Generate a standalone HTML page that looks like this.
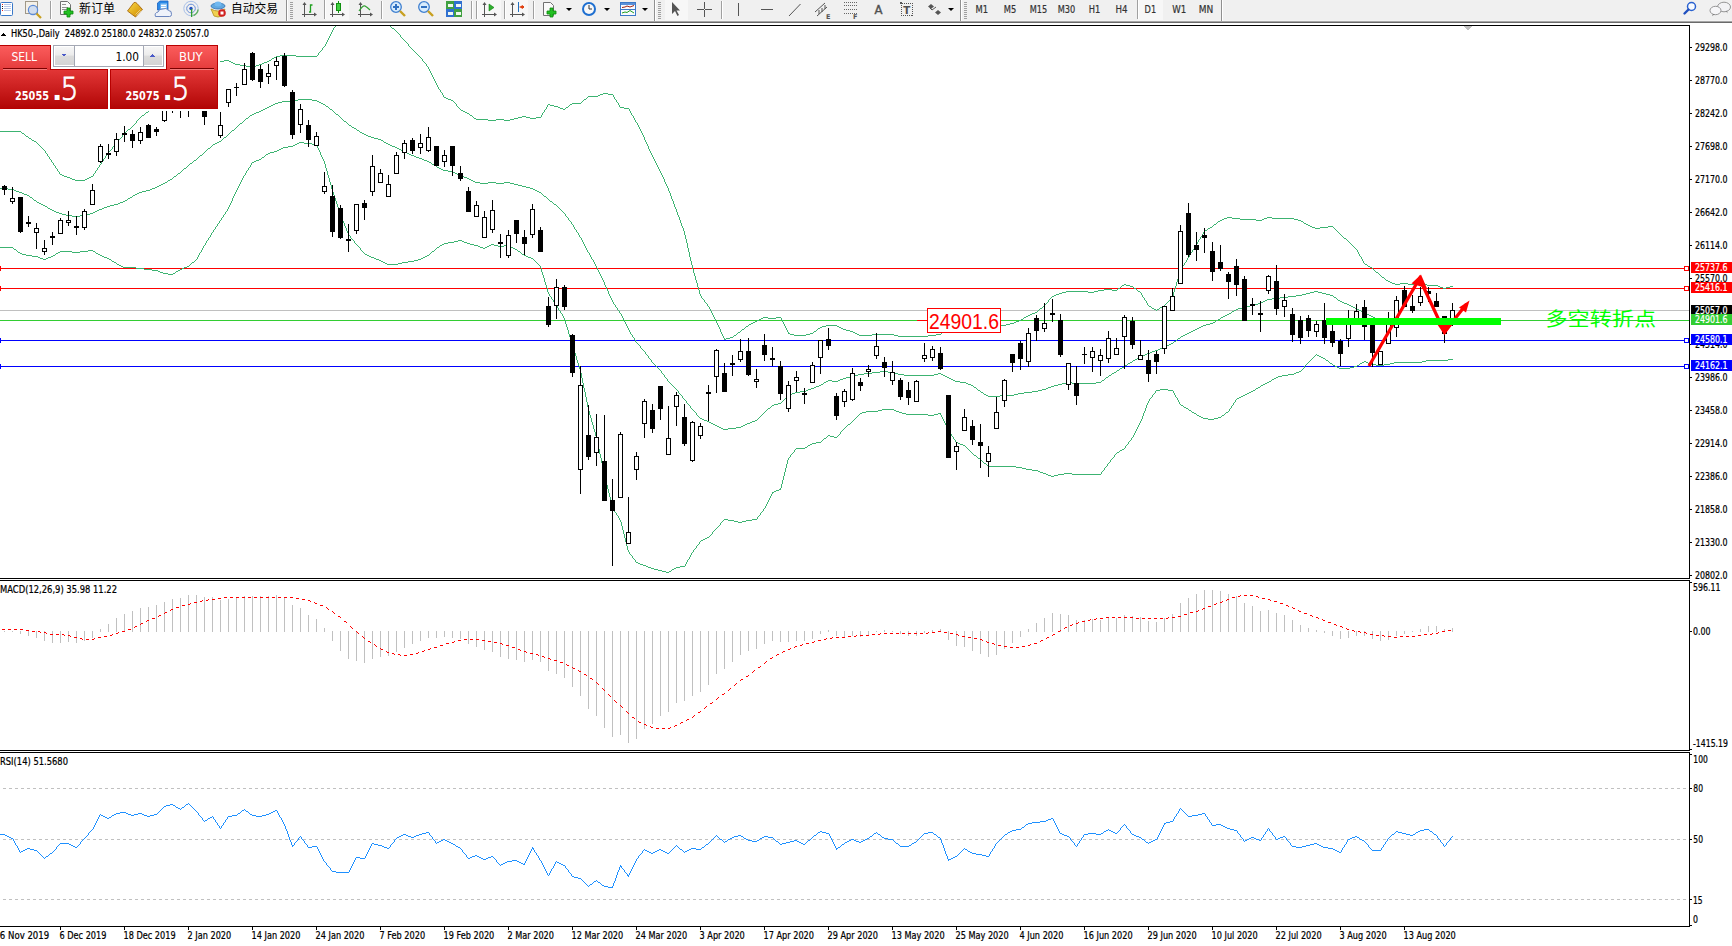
<!DOCTYPE html>
<html><head><meta charset="utf-8"><title>HK50 Daily</title>
<style>html,body{margin:0;padding:0;background:#fff;width:1732px;height:946px;overflow:hidden}
svg text{shape-rendering:auto}</style></head>
<body>
<svg width="1732" height="946" viewBox="0 0 1732 946" shape-rendering="crispEdges" style="display:block">
<rect x="0" y="0" width="1732" height="946" fill="#fff"/>
<g shape-rendering="geometricPrecision">
<rect x="0" y="0" width="1732" height="21" fill="#f0f0f0"/>
<rect x="0" y="20" width="1732" height="1" fill="#f4f4f4"/>
<rect x="0" y="21" width="1732" height="1" fill="#a6a6a6"/>
<rect x="0" y="22" width="1732" height="1" fill="#6a6a6a"/>
<rect x="0.5" y="2.5" width="12" height="13" rx="1" fill="#fff" stroke="#3a78c8"/>
<rect x="2" y="4" width="1" height="1" fill="#e02020"/>
<rect x="4" y="4" width="7" height="1" fill="#b8c8e8"/>
<rect x="2" y="6" width="1" height="1" fill="#202020"/>
<rect x="4" y="6" width="7" height="1" fill="#b8c8e8"/>
<rect x="2" y="8" width="1" height="1" fill="#202020"/>
<rect x="4" y="8" width="7" height="1" fill="#b8c8e8"/>
<rect x="2" y="10" width="1" height="1" fill="#e02020"/>
<rect x="4" y="10" width="7" height="1" fill="#b8c8e8"/>
<rect x="25.5" y="1.5" width="12" height="12" fill="#f4f0e8" stroke="#a09888"/>
<circle cx="33" cy="10" r="4.6" fill="#c8d8f0" fill-opacity="0.8" stroke="#5a8ad8" stroke-width="1.2"/>
<line x1="36.5" y1="13.5" x2="41" y2="18" stroke="#c8a020" stroke-width="2.2"/>
<rect x="50" y="1" width="1" height="18" fill="#a0a0a0"/>
<rect x="51" y="1" width="1" height="18" fill="#ffffff"/>
<path d="M60.5,1.5 h7 l3,3 v10 h-10 z" fill="#fafafa" stroke="#707070"/>
<rect x="62" y="4" width="4" height="1" fill="#909090"/>
<rect x="62" y="7" width="6" height="1" fill="#909090"/>
<rect x="62" y="9" width="6" height="1" fill="#909090"/>
<path d="M67,8 h3 v3 h3 v3 h-3 v3 h-3 v-3 h-3 v-3 h3 z" fill="#22c022" stroke="#0a8a0a" stroke-width="0.8"/>
<text x="79" y="13" font-size="12" fill="#000" text-anchor="start" font-weight="normal" font-family="'Liberation Sans', 'Noto Sans CJK SC', 'WenQuanYi Zen Hei', sans-serif" textLength="36" lengthAdjust="spacingAndGlyphs" >新订单</text>
<defs><linearGradient id="gGold" x1="0" y1="0" x2="1" y2="1"><stop offset="0" stop-color="#f8d848"/><stop offset="0.6" stop-color="#e0a818"/><stop offset="1" stop-color="#b87810"/></linearGradient></defs>
<path d="M127.5,11 L134,2.5 Q136,2 137,3.5 L142.5,9.5 L135.5,17 Z" fill="url(#gGold)" stroke="#a86a10" stroke-width="0.9"/>
<path d="M136.5,15.5 L141.5,10.5 M135.5,14.5 L140.5,9.5" stroke="#f4e0a0" stroke-width="0.7"/>
<path d="M157.5,3 L160,1 L168,1 L168,10 L157.5,10 Z" fill="#2a8ae8" stroke="#1a60c0" stroke-width="0.8"/>
<path d="M160.5,3.5 h6.5 v6 h-6.5 z" fill="#9ccaf4"/>
<rect x="161" y="5" width="5" height="1" fill="#ffffff"/>
<rect x="161" y="7" width="5" height="1" fill="#ffffff"/>
<path d="M155.5,16.5 q-1.5,-3.5 2.5,-4.5 q1,-3.5 5,-3 q3,-2 5.5,1.5 q3.5,0 3,4 q0,2 -2,2 z" fill="#eef2fa" stroke="#5a78b8" stroke-width="0.9"/>
<circle cx="191" cy="8.5" r="7.2" fill="none" stroke="#a8c0e8" stroke-width="1"/>
<circle cx="191" cy="8.5" r="4.3" fill="none" stroke="#6a90d8" stroke-width="1"/>
<path d="M193.5,15.5 a7.2,7.2 0 0 0 4.6,-6" fill="none" stroke="#60b060" stroke-width="1.4"/>
<circle cx="191" cy="8.5" r="1.7" fill="#2050c0"/>
<rect x="191" y="9" width="1.3" height="8" fill="#30a030"/>
<path d="M211,9 q7,4 14,0 l-3,7 q-4,2 -8,0 z" fill="#f0d050" stroke="#b09020" stroke-width="0.8"/>
<ellipse cx="218" cy="6" rx="7" ry="3" fill="#60a8e0" stroke="#3070b0" stroke-width="0.8"/>
<ellipse cx="218" cy="4" rx="3.5" ry="2.5" fill="#70b8f0"/>
<circle cx="222" cy="13" r="3.8" fill="#d02020"/>
<rect x="220.5" y="11.5" width="3" height="3" fill="#fff"/>
<text x="231" y="13" font-size="12" fill="#000" text-anchor="start" font-weight="normal" font-family="'Liberation Sans', 'Noto Sans CJK SC', 'WenQuanYi Zen Hei', sans-serif" textLength="47" lengthAdjust="spacingAndGlyphs" >自动交易</text>
<rect x="286" y="0" width="1" height="21" fill="#909090"/>
<rect x="287" y="0" width="1" height="21" fill="#ffffff"/>
<rect x="290" y="2" width="3" height="1" fill="#a0a0a0"/>
<rect x="290" y="4" width="3" height="1" fill="#a0a0a0"/>
<rect x="290" y="6" width="3" height="1" fill="#a0a0a0"/>
<rect x="290" y="8" width="3" height="1" fill="#a0a0a0"/>
<rect x="290" y="10" width="3" height="1" fill="#a0a0a0"/>
<rect x="290" y="12" width="3" height="1" fill="#a0a0a0"/>
<rect x="290" y="14" width="3" height="1" fill="#a0a0a0"/>
<rect x="290" y="16" width="3" height="1" fill="#a0a0a0"/>
<rect x="290" y="18" width="3" height="1" fill="#a0a0a0"/>
<rect x="304" y="3" width="1" height="14" fill="#555"/>
<rect x="302" y="14" width="14" height="1" fill="#555"/>
<polygon points="304.5,2 302.5,5 306.5,5" fill="#555"/>
<polygon points="317,14.5 314,12.5 314,16.5" fill="#555"/>
<path d="M309,12 h1.5 v-7 h2" fill="none" stroke="#20a020" stroke-width="1.3"/>
<rect x="324" y="0" width="1" height="19" fill="#a0a0a0"/>
<rect x="325" y="0" width="1" height="19" fill="#ffffff"/>
<rect x="326" y="0" width="23" height="20" fill="#f7f7f7"/>
<rect x="332" y="3" width="1" height="14" fill="#555"/>
<rect x="330" y="14" width="14" height="1" fill="#555"/>
<polygon points="332.5,2 330.5,5 334.5,5" fill="#555"/>
<polygon points="345,14.5 342,12.5 342,16.5" fill="#555"/>
<rect x="338" y="1" width="1" height="12" fill="#109010"/>
<rect x="336.5" y="3.5" width="4" height="7" fill="#40d040" stroke="#109010"/>
<rect x="360" y="3" width="1" height="14" fill="#555"/>
<rect x="358" y="14" width="14" height="1" fill="#555"/>
<polygon points="360.5,2 358.5,5 362.5,5" fill="#555"/>
<polygon points="373,14.5 370,12.5 370,16.5" fill="#555"/>
<path d="M359,11 q4,-6 6,-5 q2,1 5,4" fill="none" stroke="#30a030" stroke-width="1.2"/>
<rect x="381" y="1" width="1" height="18" fill="#a0a0a0"/>
<rect x="382" y="1" width="1" height="18" fill="#ffffff"/>
<circle cx="396" cy="7" r="5.3" fill="#d8ecfc" stroke="#4080d0" stroke-width="1.3"/>
<line x1="400" y1="11" x2="405" y2="16" stroke="#c8a020" stroke-width="2.4"/>
<rect x="393" y="6" width="6" height="2" fill="#3070c0"/>
<rect x="395" y="4" width="2" height="6" fill="#3070c0"/>
<circle cx="424" cy="7" r="5.3" fill="#d8ecfc" stroke="#4080d0" stroke-width="1.3"/>
<line x1="428" y1="11" x2="433" y2="16" stroke="#c8a020" stroke-width="2.4"/>
<rect x="421" y="6" width="6" height="2" fill="#3070c0"/>
<rect x="446" y="1" width="8" height="8" fill="#40a040"/><rect x="454" y="1" width="8" height="8" fill="#3070d0"/>
<rect x="446" y="9" width="8" height="8" fill="#3070d0"/><rect x="454" y="9" width="8" height="8" fill="#40a040"/>
<rect x="448" y="4" width="5" height="3" fill="#f0f8f0"/>
<rect x="448" y="12" width="5" height="3" fill="#f0f8f0"/>
<rect x="456" y="4" width="5" height="3" fill="#f0f8f0"/>
<rect x="456" y="12" width="5" height="3" fill="#f0f8f0"/>
<rect x="471" y="1" width="1" height="18" fill="#a0a0a0"/>
<rect x="472" y="1" width="1" height="18" fill="#ffffff"/>
<rect x="476" y="1" width="1" height="18" fill="#a0a0a0"/>
<rect x="477" y="1" width="1" height="18" fill="#ffffff"/>
<rect x="478" y="0" width="23" height="20" fill="#f7f7f7"/>
<rect x="484" y="3" width="1" height="14" fill="#555"/>
<rect x="482" y="14" width="14" height="1" fill="#555"/>
<polygon points="484.5,2 482.5,5 486.5,5" fill="#555"/>
<polygon points="497,14.5 494,12.5 494,16.5" fill="#555"/>
<polygon points="489,4 489,11 494,7.5" fill="#30b030" stroke="#108010" stroke-width="0.6"/>
<rect x="504" y="1" width="1" height="18" fill="#a0a0a0"/>
<rect x="505" y="1" width="1" height="18" fill="#ffffff"/>
<rect x="506" y="0" width="22" height="20" fill="#f7f7f7"/>
<rect x="512" y="3" width="1" height="14" fill="#555"/>
<rect x="510" y="14" width="14" height="1" fill="#555"/>
<polygon points="512.5,2 510.5,5 514.5,5" fill="#555"/>
<polygon points="525,14.5 522,12.5 522,16.5" fill="#555"/>
<rect x="518" y="2" width="1" height="10" fill="#2070c0"/>
<polygon points="519,7 523,5 523,9" fill="#e04010"/>
<rect x="521" y="6" width="3" height="2" fill="#e04010"/>
<rect x="533" y="1" width="1" height="18" fill="#a0a0a0"/>
<rect x="534" y="1" width="1" height="18" fill="#ffffff"/>
<path d="M543.5,2.5 h7 l3,3 v10 h-10 z" fill="#fafafa" stroke="#707070"/>
<path d="M550,8 h3 v3 h3 v3 h-3 v3 h-3 v-3 h-3 v-3 h3 z" fill="#22c022" stroke="#0a8a0a" stroke-width="0.8"/>
<polygon points="566,8 572,8 569,11" fill="#000"/>
<circle cx="589" cy="9" r="7" fill="#1e6fd0"/><circle cx="589" cy="9" r="5" fill="#f8f8f8"/>
<path d="M589,5 v4 h3" fill="none" stroke="#333" stroke-width="1"/>
<polygon points="604,8 610,8 607,11" fill="#000"/>
<rect x="620.5" y="2.5" width="15" height="13" fill="#f8fbff" stroke="#3a78c8"/>
<rect x="621" y="3" width="14" height="2" fill="#5a90d8"/>
<rect x="621" y="9" width="14" height="1" fill="#3a78c8"/>
<polyline points="622,7.5 625,7 627,6 630,7 634,5.5" fill="none" stroke="#a02010" stroke-width="1"/>
<polyline points="622,13 625,12 627,12.5 630,10.5 634,13" fill="none" stroke="#20a020" stroke-width="1"/>
<polygon points="642,8 648,8 645,11" fill="#000"/>
<rect x="654" y="0" width="1" height="21" fill="#909090"/>
<rect x="655" y="0" width="1" height="21" fill="#ffffff"/>
<rect x="658" y="2" width="3" height="1" fill="#a0a0a0"/>
<rect x="658" y="4" width="3" height="1" fill="#a0a0a0"/>
<rect x="658" y="6" width="3" height="1" fill="#a0a0a0"/>
<rect x="658" y="8" width="3" height="1" fill="#a0a0a0"/>
<rect x="658" y="10" width="3" height="1" fill="#a0a0a0"/>
<rect x="658" y="12" width="3" height="1" fill="#a0a0a0"/>
<rect x="658" y="14" width="3" height="1" fill="#a0a0a0"/>
<rect x="658" y="16" width="3" height="1" fill="#a0a0a0"/>
<rect x="658" y="18" width="3" height="1" fill="#a0a0a0"/>
<rect x="665" y="0" width="23" height="20" fill="#f7f7f7"/>
<path d="M672,2 L672,14 L675,11 L677.5,16 L679,15 L676.5,10.5 L680,10.5 Z" fill="#555"/>
<rect x="697" y="9" width="15" height="1" fill="#555"/>
<rect x="704" y="2" width="1" height="15" fill="#555"/>
<rect x="704" y="9" width="1" height="1" fill="#f0f0f0"/>
<rect x="721" y="1" width="1" height="18" fill="#a0a0a0"/>
<rect x="722" y="1" width="1" height="18" fill="#ffffff"/>
<rect x="738" y="3" width="1" height="13" fill="#555"/>
<rect x="761" y="9" width="12" height="1" fill="#555"/>
<line x1="789" y1="16" x2="800.5" y2="4" stroke="#555" stroke-width="1"/>
<path d="M815,12 l10,-9 M817,16 l10,-9 M819,10 v4 M822,8 v4 M825,5 v4" fill="none" stroke="#555" stroke-width="1"/>
<text x="826" y="19" font-size="6.5" fill="#555" text-anchor="start" font-weight="bold" font-family="'DejaVu Sans', 'Liberation Sans', sans-serif" >E</text>
<line x1="844" y1="2.5" x2="857" y2="2.5" stroke="#666" stroke-dasharray="1 1"/>
<line x1="844" y1="5.5" x2="857" y2="5.5" stroke="#666" stroke-dasharray="1 1"/>
<line x1="844" y1="9.5" x2="857" y2="9.5" stroke="#666" stroke-dasharray="1 1"/>
<line x1="844" y1="13.5" x2="857" y2="13.5" stroke="#666" stroke-dasharray="1 1"/>
<text x="853" y="19" font-size="6.5" fill="#555" text-anchor="start" font-weight="bold" font-family="'DejaVu Sans', 'Liberation Sans', sans-serif" >F</text>
<text x="874.5" y="14" font-size="12" fill="#505050" text-anchor="start" font-weight="normal" font-family="'DejaVu Sans', 'Liberation Sans', sans-serif" textLength="8" lengthAdjust="spacingAndGlyphs" stroke="#505050" stroke-width="0.4">A</text>
<rect x="901.5" y="3.5" width="11" height="12" fill="none" stroke="#555" stroke-dasharray="1 1" shape-rendering="crispEdges"/>
<rect x="900" y="2" width="2" height="2" fill="#555"/>
<text x="903.2" y="14" font-size="11" fill="#505050" text-anchor="start" font-weight="bold" font-family="'DejaVu Sans', 'Liberation Sans', sans-serif" textLength="7" lengthAdjust="spacingAndGlyphs" >T</text>
<polygon points="931,4 934,6.5 931,9 928,6.5" fill="#555"/><polygon points="938,10 941,12.5 938,15 935,12.5" fill="#555"/>
<path d="M930,8 l2,2 l4,-3" fill="none" stroke="#555" stroke-width="1"/>
<polygon points="948,8 954,8 951,11" fill="#000"/>
<rect x="960" y="0" width="1" height="21" fill="#909090"/>
<rect x="961" y="0" width="1" height="21" fill="#ffffff"/>
<rect x="964" y="2" width="3" height="1" fill="#a0a0a0"/>
<rect x="964" y="4" width="3" height="1" fill="#a0a0a0"/>
<rect x="964" y="6" width="3" height="1" fill="#a0a0a0"/>
<rect x="964" y="8" width="3" height="1" fill="#a0a0a0"/>
<rect x="964" y="10" width="3" height="1" fill="#a0a0a0"/>
<rect x="964" y="12" width="3" height="1" fill="#a0a0a0"/>
<rect x="964" y="14" width="3" height="1" fill="#a0a0a0"/>
<rect x="964" y="16" width="3" height="1" fill="#a0a0a0"/>
<rect x="964" y="18" width="3" height="1" fill="#a0a0a0"/>
<rect x="1138" y="0" width="25" height="20" fill="#f7f7f7"/>
<rect x="1137" y="0" width="1" height="19" fill="#a0a0a0"/>
<rect x="1138" y="0" width="1" height="19" fill="#ffffff"/>
<text x="975.5" y="13" font-size="10.3" fill="#333" text-anchor="start" font-weight="normal" font-family="'DejaVu Sans', 'Liberation Sans', sans-serif" textLength="12.5" lengthAdjust="spacingAndGlyphs" stroke="#333" stroke-width="0.22" >M1</text>
<text x="1003.8" y="13" font-size="10.3" fill="#333" text-anchor="start" font-weight="normal" font-family="'DejaVu Sans', 'Liberation Sans', sans-serif" textLength="12.5" lengthAdjust="spacingAndGlyphs" stroke="#333" stroke-width="0.22" >M5</text>
<text x="1029.8" y="13" font-size="10.3" fill="#333" text-anchor="start" font-weight="normal" font-family="'DejaVu Sans', 'Liberation Sans', sans-serif" textLength="17.5" lengthAdjust="spacingAndGlyphs" stroke="#333" stroke-width="0.22" >M15</text>
<text x="1057.8" y="13" font-size="10.3" fill="#333" text-anchor="start" font-weight="normal" font-family="'DejaVu Sans', 'Liberation Sans', sans-serif" textLength="17.5" lengthAdjust="spacingAndGlyphs" stroke="#333" stroke-width="0.22" >M30</text>
<text x="1088.8" y="13" font-size="10.3" fill="#333" text-anchor="start" font-weight="normal" font-family="'DejaVu Sans', 'Liberation Sans', sans-serif" textLength="11.5" lengthAdjust="spacingAndGlyphs" stroke="#333" stroke-width="0.22" >H1</text>
<text x="1115.6" y="13" font-size="10.3" fill="#333" text-anchor="start" font-weight="normal" font-family="'DejaVu Sans', 'Liberation Sans', sans-serif" textLength="12" lengthAdjust="spacingAndGlyphs" stroke="#333" stroke-width="0.22" >H4</text>
<text x="1144.6" y="13" font-size="10.3" fill="#333" text-anchor="start" font-weight="normal" font-family="'DejaVu Sans', 'Liberation Sans', sans-serif" textLength="11.5" lengthAdjust="spacingAndGlyphs" stroke="#333" stroke-width="0.22" >D1</text>
<text x="1172.3" y="13" font-size="10.3" fill="#333" text-anchor="start" font-weight="normal" font-family="'DejaVu Sans', 'Liberation Sans', sans-serif" textLength="14" lengthAdjust="spacingAndGlyphs" stroke="#333" stroke-width="0.22" >W1</text>
<text x="1198.7" y="13" font-size="10.3" fill="#333" text-anchor="start" font-weight="normal" font-family="'DejaVu Sans', 'Liberation Sans', sans-serif" textLength="14.5" lengthAdjust="spacingAndGlyphs" stroke="#333" stroke-width="0.22" >MN</text>
<rect x="1221" y="0" width="1" height="21" fill="#909090"/>
<rect x="1222" y="0" width="1" height="21" fill="#ffffff"/>
<circle cx="1691.5" cy="6.5" r="4" fill="#f8fbff" stroke="#2a62d0" stroke-width="1.5"/>
<line x1="1688.5" y1="9.5" x2="1684.5" y2="13.5" stroke="#2050c0" stroke-width="2.4" stroke-linecap="round"/>
<ellipse cx="1724" cy="7" rx="6.5" ry="4.8" fill="#f2f2f4" stroke="#8a8a8a" stroke-width="0.9"/>
<path d="M1726,11 l1.5,2.5 l-0.5,-2.8" fill="#777"/>
<ellipse cx="1715.5" cy="10.5" rx="5.5" ry="4.2" fill="#f6f6f8" stroke="#8a8a8a" stroke-width="0.9"/>
<path d="M1713,14 l-1,2.2 l2.5,-2" fill="#777"/>
</g>
<defs><clipPath id="cMain"><rect x="0" y="26" width="1689" height="552"/></clipPath><clipPath id="cMacd"><rect x="0" y="581" width="1689" height="169"/></clipPath><clipPath id="cRsi"><rect x="0" y="753" width="1689" height="173"/></clipPath></defs>
<g clip-path="url(#cMain)">
<rect x="0" y="268" width="1689" height="1" fill="#ff0000"/>
<rect x="0" y="288" width="1689" height="1" fill="#ff0000"/>
<rect x="0" y="310" width="1689" height="1" fill="#c0c0c0"/>
<rect x="0" y="320" width="1689" height="1" fill="#32cd32"/>
<rect x="0" y="340" width="1689" height="1" fill="#0000ff"/>
<rect x="0" y="366" width="1689" height="1" fill="#0000ff"/>
<path d="M348 14h18v1h-18zM346 15h2v1h-2zM366 15h2v1h-2zM344 16h2v1h-2zM368 16h3v1h-3zM343 17h1v1h-1zM371 17h3v1h-3zM341 18h2v1h-2zM374 18h4v1h-4zM340 19h1v1h-1zM378 19h3v1h-3zM339 20h1v1h-1zM381 20h2v1h-2zM339 21h1v1h-1zM383 21h1v1h-1zM338 22h1v1h-1zM384 22h2v1h-2zM337 23h1v1h-1zM386 23h2v1h-2zM336 24h1v1h-1zM388 24h1v1h-1zM336 25h1v1h-1zM389 25h1v1h-1zM335 26h1v1h-1zM390 26h1v1h-1zM334 27h1v1h-1zM391 27h1v1h-1zM333 28h1v1h-1zM392 28h2v1h-2zM333 29h1v1h-1zM394 29h1v1h-1zM332 30h1v1h-1zM395 30h1v1h-1zM332 31h1v1h-1zM396 31h1v1h-1zM331 32h1v1h-1zM397 32h1v1h-1zM331 33h1v1h-1zM398 33h1v1h-1zM330 34h1v1h-1zM399 34h1v1h-1zM330 35h1v1h-1zM400 35h1v1h-1zM329 36h1v1h-1zM400 36h1v1h-1zM329 37h1v1h-1zM401 37h1v1h-1zM328 38h1v1h-1zM402 38h1v1h-1zM328 39h1v1h-1zM403 39h1v1h-1zM327 40h1v1h-1zM404 40h1v1h-1zM327 41h1v1h-1zM405 41h1v1h-1zM326 42h1v1h-1zM406 42h1v1h-1zM326 43h1v1h-1zM407 43h1v1h-1zM325 44h1v1h-1zM408 44h1v1h-1zM325 45h1v1h-1zM408 45h1v1h-1zM324 46h1v1h-1zM409 46h1v1h-1zM323 47h1v1h-1zM410 47h1v1h-1zM322 48h1v1h-1zM411 48h1v1h-1zM322 49h1v1h-1zM412 49h1v1h-1zM321 50h1v1h-1zM413 50h1v1h-1zM320 51h1v1h-1zM414 51h1v1h-1zM319 52h1v1h-1zM415 52h1v1h-1zM318 53h1v1h-1zM416 53h1v1h-1zM318 54h1v1h-1zM417 54h1v1h-1zM280 55h16v1h-16zM317 55h1v1h-1zM418 55h1v1h-1zM276 56h4v1h-4zM296 56h21v1h-21zM419 56h1v1h-1zM274 57h2v1h-2zM420 57h1v1h-1zM272 58h2v1h-2zM421 58h1v1h-1zM196 59h18v1h-18zM271 59h1v1h-1zM422 59h1v1h-1zM194 60h2v1h-2zM214 60h4v1h-4zM224 60h5v1h-5zM269 60h2v1h-2zM422 60h1v1h-1zM192 61h2v1h-2zM218 61h6v1h-6zM229 61h2v1h-2zM267 61h2v1h-2zM423 61h1v1h-1zM191 62h1v1h-1zM231 62h2v1h-2zM264 62h3v1h-3zM424 62h1v1h-1zM189 63h2v1h-2zM233 63h2v1h-2zM262 63h2v1h-2zM425 63h1v1h-1zM188 64h1v1h-1zM235 64h5v1h-5zM259 64h3v1h-3zM426 64h1v1h-1zM187 65h1v1h-1zM240 65h6v1h-6zM256 65h3v1h-3zM426 65h1v1h-1zM186 66h1v1h-1zM246 66h4v1h-4zM254 66h2v1h-2zM427 66h1v1h-1zM186 67h1v1h-1zM250 67h4v1h-4zM428 67h1v1h-1zM185 68h1v1h-1zM428 68h1v1h-1zM184 69h1v1h-1zM429 69h1v1h-1zM183 70h1v1h-1zM429 70h1v1h-1zM182 71h1v1h-1zM430 71h1v1h-1zM182 72h1v1h-1zM430 72h1v1h-1zM181 73h1v1h-1zM431 73h1v1h-1zM180 74h1v1h-1zM431 74h1v1h-1zM179 75h1v1h-1zM432 75h1v1h-1zM178 76h1v1h-1zM432 76h1v1h-1zM177 77h1v1h-1zM433 77h1v1h-1zM176 78h1v1h-1zM433 78h1v1h-1zM175 79h1v1h-1zM434 79h1v1h-1zM174 80h1v1h-1zM434 80h1v1h-1zM173 81h1v1h-1zM435 81h1v1h-1zM172 82h1v1h-1zM435 82h1v1h-1zM171 83h1v1h-1zM436 83h1v1h-1zM171 84h1v1h-1zM436 84h1v1h-1zM170 85h1v1h-1zM437 85h1v1h-1zM169 86h1v1h-1zM437 86h1v1h-1zM168 87h1v1h-1zM438 87h1v1h-1zM168 88h1v1h-1zM438 88h1v1h-1zM167 89h1v1h-1zM439 89h1v1h-1zM166 90h1v1h-1zM440 90h1v1h-1zM165 91h1v1h-1zM440 91h1v1h-1zM165 92h1v1h-1zM441 92h1v1h-1zM164 93h1v1h-1zM442 93h1v1h-1zM603 93h5v1h-5zM163 94h1v1h-1zM442 94h1v1h-1zM600 94h3v1h-3zM608 94h5v1h-5zM163 95h1v1h-1zM443 95h1v1h-1zM598 95h2v1h-2zM613 95h1v1h-1zM162 96h1v1h-1zM443 96h1v1h-1zM588 96h10v1h-10zM613 96h1v1h-1zM161 97h1v1h-1zM444 97h2v1h-2zM587 97h1v1h-1zM614 97h1v1h-1zM160 98h1v1h-1zM446 98h2v1h-2zM586 98h1v1h-1zM614 98h1v1h-1zM160 99h1v1h-1zM448 99h3v1h-3zM584 99h2v1h-2zM615 99h1v1h-1zM159 100h1v1h-1zM451 100h2v1h-2zM583 100h1v1h-1zM616 100h1v1h-1zM158 101h1v1h-1zM453 101h1v1h-1zM582 101h1v1h-1zM616 101h1v1h-1zM157 102h1v1h-1zM454 102h1v1h-1zM581 102h1v1h-1zM617 102h1v1h-1zM157 103h1v1h-1zM455 103h1v1h-1zM572 103h9v1h-9zM618 103h1v1h-1zM156 104h1v1h-1zM456 104h1v1h-1zM548 104h2v1h-2zM570 104h2v1h-2zM618 104h1v1h-1zM155 105h1v1h-1zM456 105h1v1h-1zM547 105h1v1h-1zM550 105h4v1h-4zM569 105h1v1h-1zM619 105h1v1h-1zM154 106h1v1h-1zM457 106h1v1h-1zM547 106h1v1h-1zM554 106h4v1h-4zM568 106h1v1h-1zM619 106h1v1h-1zM152 107h2v1h-2zM458 107h1v1h-1zM546 107h1v1h-1zM558 107h2v1h-2zM566 107h2v1h-2zM620 107h4v1h-4zM151 108h1v1h-1zM459 108h1v1h-1zM546 108h1v1h-1zM560 108h3v1h-3zM565 108h1v1h-1zM624 108h5v1h-5zM150 109h1v1h-1zM460 109h1v1h-1zM545 109h1v1h-1zM563 109h2v1h-2zM629 109h1v1h-1zM149 110h1v1h-1zM461 110h2v1h-2zM544 110h1v1h-1zM629 110h1v1h-1zM148 111h1v1h-1zM463 111h2v1h-2zM544 111h1v1h-1zM630 111h1v1h-1zM146 112h2v1h-2zM465 112h2v1h-2zM543 112h1v1h-1zM630 112h1v1h-1zM145 113h1v1h-1zM467 113h2v1h-2zM542 113h1v1h-1zM631 113h1v1h-1zM144 114h1v1h-1zM469 114h1v1h-1zM542 114h1v1h-1zM631 114h1v1h-1zM142 115h2v1h-2zM470 115h2v1h-2zM541 115h1v1h-1zM632 115h1v1h-1zM141 116h1v1h-1zM472 116h1v1h-1zM522 116h4v1h-4zM541 116h1v1h-1zM633 116h1v1h-1zM140 117h1v1h-1zM473 117h1v1h-1zM518 117h4v1h-4zM526 117h4v1h-4zM536 117h5v1h-5zM633 117h1v1h-1zM139 118h1v1h-1zM474 118h2v1h-2zM514 118h4v1h-4zM530 118h6v1h-6zM634 118h1v1h-1zM138 119h1v1h-1zM476 119h12v1h-12zM496 119h8v1h-8zM510 119h4v1h-4zM634 119h1v1h-1zM137 120h1v1h-1zM488 120h8v1h-8zM504 120h6v1h-6zM635 120h1v1h-1zM136 121h1v1h-1zM635 121h1v1h-1zM136 122h1v1h-1zM636 122h1v1h-1zM135 123h1v1h-1zM637 123h1v1h-1zM134 124h1v1h-1zM637 124h1v1h-1zM133 125h1v1h-1zM638 125h1v1h-1zM132 126h1v1h-1zM638 126h1v1h-1zM131 127h1v1h-1zM639 127h1v1h-1zM130 128h1v1h-1zM639 128h1v1h-1zM128 129h2v1h-2zM640 129h1v1h-1zM127 130h1v1h-1zM640 130h1v1h-1zM-4 131h25v1h-25zM126 131h1v1h-1zM641 131h1v1h-1zM21 132h1v1h-1zM125 132h1v1h-1zM641 132h1v1h-1zM22 133h2v1h-2zM124 133h1v1h-1zM642 133h1v1h-1zM24 134h1v1h-1zM123 134h1v1h-1zM642 134h1v1h-1zM25 135h1v1h-1zM122 135h1v1h-1zM643 135h1v1h-1zM26 136h2v1h-2zM122 136h1v1h-1zM643 136h1v1h-1zM28 137h1v1h-1zM121 137h1v1h-1zM644 137h1v1h-1zM29 138h2v1h-2zM120 138h1v1h-1zM644 138h1v1h-1zM31 139h1v1h-1zM119 139h1v1h-1zM644 139h1v1h-1zM32 140h2v1h-2zM118 140h1v1h-1zM645 140h1v1h-1zM34 141h2v1h-2zM118 141h1v1h-1zM645 141h1v1h-1zM36 142h1v1h-1zM117 142h1v1h-1zM646 142h1v1h-1zM37 143h1v1h-1zM116 143h1v1h-1zM646 143h1v1h-1zM38 144h1v1h-1zM115 144h1v1h-1zM647 144h1v1h-1zM39 145h1v1h-1zM114 145h1v1h-1zM647 145h1v1h-1zM40 146h1v1h-1zM113 146h1v1h-1zM648 146h1v1h-1zM41 147h1v1h-1zM112 147h1v1h-1zM648 147h1v1h-1zM42 148h1v1h-1zM112 148h1v1h-1zM648 148h1v1h-1zM43 149h1v1h-1zM111 149h1v1h-1zM649 149h1v1h-1zM44 150h1v1h-1zM110 150h1v1h-1zM649 150h1v1h-1zM45 151h1v1h-1zM109 151h1v1h-1zM650 151h1v1h-1zM45 152h1v1h-1zM108 152h1v1h-1zM650 152h1v1h-1zM46 153h1v1h-1zM107 153h1v1h-1zM651 153h1v1h-1zM47 154h1v1h-1zM107 154h1v1h-1zM651 154h1v1h-1zM47 155h1v1h-1zM106 155h1v1h-1zM652 155h1v1h-1zM48 156h1v1h-1zM105 156h1v1h-1zM652 156h1v1h-1zM49 157h1v1h-1zM105 157h1v1h-1zM653 157h1v1h-1zM49 158h1v1h-1zM104 158h1v1h-1zM653 158h1v1h-1zM50 159h1v1h-1zM103 159h1v1h-1zM654 159h1v1h-1zM51 160h1v1h-1zM103 160h1v1h-1zM654 160h1v1h-1zM51 161h1v1h-1zM102 161h1v1h-1zM655 161h1v1h-1zM52 162h1v1h-1zM101 162h1v1h-1zM655 162h1v1h-1zM53 163h1v1h-1zM101 163h1v1h-1zM656 163h1v1h-1zM53 164h1v1h-1zM100 164h1v1h-1zM656 164h1v1h-1zM54 165h1v1h-1zM99 165h1v1h-1zM657 165h1v1h-1zM55 166h1v1h-1zM99 166h1v1h-1zM657 166h1v1h-1zM55 167h1v1h-1zM98 167h1v1h-1zM658 167h1v1h-1zM56 168h1v1h-1zM97 168h1v1h-1zM658 168h1v1h-1zM57 169h1v1h-1zM97 169h1v1h-1zM659 169h1v1h-1zM57 170h1v1h-1zM96 170h1v1h-1zM659 170h1v1h-1zM58 171h1v1h-1zM95 171h1v1h-1zM660 171h1v1h-1zM59 172h1v1h-1zM95 172h1v1h-1zM660 172h1v1h-1zM59 173h1v1h-1zM94 173h1v1h-1zM661 173h1v1h-1zM60 174h2v1h-2zM93 174h1v1h-1zM661 174h1v1h-1zM62 175h2v1h-2zM93 175h1v1h-1zM662 175h1v1h-1zM64 176h3v1h-3zM91 176h2v1h-2zM662 176h1v1h-1zM67 177h3v1h-3zM89 177h2v1h-2zM663 177h1v1h-1zM70 178h2v1h-2zM87 178h2v1h-2zM663 178h1v1h-1zM72 179h3v1h-3zM85 179h2v1h-2zM664 179h1v1h-1zM75 180h10v1h-10zM664 180h1v1h-1zM664 181h1v1h-1zM665 182h1v1h-1zM665 183h1v1h-1zM666 184h1v1h-1zM666 185h1v1h-1zM667 186h1v1h-1zM667 187h1v1h-1zM668 188h1v1h-1zM668 189h1v1h-1zM668 190h1v1h-1zM669 191h1v1h-1zM669 192h1v1h-1zM670 193h1v1h-1zM670 194h1v1h-1zM670 195h1v1h-1zM671 196h1v1h-1zM671 197h1v1h-1zM671 198h1v1h-1zM672 199h1v1h-1zM672 200h1v1h-1zM673 201h1v1h-1zM673 202h1v1h-1zM673 203h1v1h-1zM674 204h1v1h-1zM674 205h1v1h-1zM674 206h1v1h-1zM675 207h1v1h-1zM675 208h1v1h-1zM676 209h1v1h-1zM676 210h1v1h-1zM676 211h1v1h-1zM677 212h1v1h-1zM677 213h1v1h-1zM677 214h1v1h-1zM678 215h1v1h-1zM678 216h1v1h-1zM679 217h1v1h-1zM1227 217h5v1h-5zM1267 217h5v1h-5zM679 218h1v1h-1zM1224 218h3v1h-3zM1232 218h8v1h-8zM1264 218h3v1h-3zM1272 218h22v1h-22zM679 219h1v1h-1zM1222 219h2v1h-2zM1240 219h16v1h-16zM1262 219h2v1h-2zM1294 219h4v1h-4zM680 220h1v1h-1zM1220 220h2v1h-2zM1256 220h6v1h-6zM1298 220h3v1h-3zM680 221h1v1h-1zM1218 221h2v1h-2zM1301 221h2v1h-2zM680 222h1v1h-1zM1217 222h1v1h-1zM1303 222h1v1h-1zM681 223h1v1h-1zM1216 223h1v1h-1zM1304 223h2v1h-2zM681 224h1v1h-1zM1214 224h2v1h-2zM1306 224h2v1h-2zM681 225h1v1h-1zM1213 225h1v1h-1zM1308 225h2v1h-2zM682 226h1v1h-1zM1212 226h1v1h-1zM1310 226h2v1h-2zM1328 226h5v1h-5zM682 227h1v1h-1zM1210 227h2v1h-2zM1312 227h3v1h-3zM1320 227h8v1h-8zM1333 227h1v1h-1zM683 228h1v1h-1zM1208 228h2v1h-2zM1315 228h5v1h-5zM1334 228h1v1h-1zM683 229h1v1h-1zM1207 229h1v1h-1zM1335 229h1v1h-1zM683 230h1v1h-1zM1205 230h2v1h-2zM1336 230h1v1h-1zM684 231h1v1h-1zM1204 231h1v1h-1zM1337 231h1v1h-1zM684 232h1v1h-1zM1203 232h1v1h-1zM1338 232h1v1h-1zM684 233h1v1h-1zM1203 233h1v1h-1zM1339 233h1v1h-1zM684 234h1v1h-1zM1202 234h1v1h-1zM1340 234h1v1h-1zM685 235h1v1h-1zM1202 235h1v1h-1zM1341 235h1v1h-1zM685 236h1v1h-1zM1201 236h1v1h-1zM1342 236h1v1h-1zM685 237h1v1h-1zM1200 237h1v1h-1zM1343 237h1v1h-1zM685 238h1v1h-1zM1200 238h1v1h-1zM1344 238h2v1h-2zM686 239h1v1h-1zM1199 239h1v1h-1zM1346 239h1v1h-1zM686 240h1v1h-1zM1198 240h1v1h-1zM1347 240h1v1h-1zM686 241h1v1h-1zM1198 241h1v1h-1zM1348 241h1v1h-1zM686 242h1v1h-1zM1197 242h1v1h-1zM1349 242h1v1h-1zM687 243h1v1h-1zM1197 243h1v1h-1zM1350 243h1v1h-1zM687 244h1v1h-1zM1196 244h1v1h-1zM1351 244h1v1h-1zM687 245h1v1h-1zM1195 245h1v1h-1zM1352 245h1v1h-1zM687 246h1v1h-1zM1195 246h1v1h-1zM1353 246h1v1h-1zM687 247h1v1h-1zM1194 247h1v1h-1zM1354 247h1v1h-1zM688 248h1v1h-1zM1194 248h1v1h-1zM1355 248h1v1h-1zM688 249h1v1h-1zM1193 249h1v1h-1zM1356 249h1v1h-1zM688 250h1v1h-1zM1192 250h1v1h-1zM1357 250h1v1h-1zM688 251h1v1h-1zM1192 251h1v1h-1zM1357 251h1v1h-1zM689 252h1v1h-1zM1191 252h1v1h-1zM1358 252h1v1h-1zM689 253h1v1h-1zM1190 253h1v1h-1zM1358 253h1v1h-1zM689 254h1v1h-1zM1190 254h1v1h-1zM1359 254h1v1h-1zM689 255h1v1h-1zM1189 255h1v1h-1zM1359 255h1v1h-1zM689 256h1v1h-1zM1189 256h1v1h-1zM1360 256h1v1h-1zM690 257h1v1h-1zM1188 257h1v1h-1zM1361 257h1v1h-1zM690 258h1v1h-1zM1187 258h1v1h-1zM1361 258h1v1h-1zM690 259h1v1h-1zM1187 259h1v1h-1zM1362 259h1v1h-1zM690 260h1v1h-1zM1186 260h1v1h-1zM1362 260h1v1h-1zM691 261h1v1h-1zM1186 261h1v1h-1zM1363 261h1v1h-1zM691 262h1v1h-1zM1185 262h1v1h-1zM1363 262h1v1h-1zM691 263h1v1h-1zM1184 263h1v1h-1zM1364 263h1v1h-1zM691 264h1v1h-1zM1184 264h1v1h-1zM1365 264h2v1h-2zM692 265h1v1h-1zM1183 265h1v1h-1zM1367 265h1v1h-1zM692 266h1v1h-1zM1182 266h1v1h-1zM1368 266h2v1h-2zM692 267h1v1h-1zM1182 267h1v1h-1zM1370 267h2v1h-2zM692 268h1v1h-1zM1181 268h1v1h-1zM1372 268h1v1h-1zM693 269h1v1h-1zM1181 269h1v1h-1zM1373 269h1v1h-1zM693 270h1v1h-1zM1180 270h1v1h-1zM1374 270h1v1h-1zM693 271h1v1h-1zM1180 271h1v1h-1zM1375 271h1v1h-1zM693 272h1v1h-1zM1179 272h1v1h-1zM1376 272h2v1h-2zM694 273h1v1h-1zM1179 273h1v1h-1zM1378 273h1v1h-1zM694 274h1v1h-1zM1179 274h1v1h-1zM1379 274h1v1h-1zM694 275h1v1h-1zM1179 275h1v1h-1zM1380 275h1v1h-1zM695 276h1v1h-1zM1178 276h1v1h-1zM1381 276h1v1h-1zM695 277h1v1h-1zM1178 277h1v1h-1zM1382 277h2v1h-2zM695 278h1v1h-1zM1178 278h1v1h-1zM1384 278h1v1h-1zM695 279h1v1h-1zM1177 279h1v1h-1zM1385 279h1v1h-1zM696 280h1v1h-1zM1177 280h1v1h-1zM1386 280h2v1h-2zM696 281h1v1h-1zM1177 281h1v1h-1zM1388 281h2v1h-2zM1419 281h2v1h-2zM696 282h1v1h-1zM1176 282h1v1h-1zM1390 282h2v1h-2zM1416 282h3v1h-3zM1421 282h2v1h-2zM697 283h1v1h-1zM1176 283h1v1h-1zM1392 283h3v1h-3zM1400 283h8v1h-8zM1414 283h2v1h-2zM1423 283h2v1h-2zM697 284h1v1h-1zM1124 284h2v1h-2zM1176 284h1v1h-1zM1395 284h5v1h-5zM1408 284h6v1h-6zM1425 284h2v1h-2zM697 285h1v1h-1zM1122 285h2v1h-2zM1126 285h4v1h-4zM1176 285h1v1h-1zM1427 285h11v1h-11zM697 286h1v1h-1zM1121 286h1v1h-1zM1130 286h3v1h-3zM1175 286h1v1h-1zM1438 286h2v1h-2zM1450 286h3v1h-3zM698 287h1v1h-1zM1120 287h1v1h-1zM1133 287h1v1h-1zM1175 287h1v1h-1zM1440 287h3v1h-3zM1446 287h4v1h-4zM698 288h1v1h-1zM1118 288h2v1h-2zM1134 288h2v1h-2zM1175 288h1v1h-1zM1443 288h3v1h-3zM698 289h1v1h-1zM1104 289h8v1h-8zM1117 289h1v1h-1zM1136 289h1v1h-1zM1174 289h1v1h-1zM699 290h1v1h-1zM1098 290h6v1h-6zM1112 290h5v1h-5zM1137 290h1v1h-1zM1174 290h1v1h-1zM699 291h1v1h-1zM1066 291h22v1h-22zM1094 291h4v1h-4zM1138 291h2v1h-2zM1174 291h1v1h-1zM699 292h1v1h-1zM1062 292h4v1h-4zM1088 292h6v1h-6zM1140 292h1v1h-1zM1173 292h1v1h-1zM699 293h1v1h-1zM1059 293h3v1h-3zM1141 293h1v1h-1zM1173 293h1v1h-1zM700 294h1v1h-1zM1056 294h3v1h-3zM1141 294h1v1h-1zM1173 294h1v1h-1zM700 295h1v1h-1zM1054 295h2v1h-2zM1142 295h1v1h-1zM1173 295h1v1h-1zM701 296h1v1h-1zM1052 296h2v1h-2zM1142 296h1v1h-1zM1172 296h1v1h-1zM701 297h1v1h-1zM1051 297h1v1h-1zM1143 297h1v1h-1zM1172 297h1v1h-1zM702 298h1v1h-1zM1050 298h1v1h-1zM1144 298h1v1h-1zM1171 298h1v1h-1zM703 299h1v1h-1zM1049 299h1v1h-1zM1144 299h1v1h-1zM1170 299h1v1h-1zM704 300h1v1h-1zM1048 300h1v1h-1zM1145 300h1v1h-1zM1169 300h1v1h-1zM704 301h1v1h-1zM1048 301h1v1h-1zM1146 301h1v1h-1zM1168 301h1v1h-1zM705 302h1v1h-1zM1047 302h1v1h-1zM1146 302h1v1h-1zM1167 302h1v1h-1zM706 303h1v1h-1zM1046 303h1v1h-1zM1147 303h1v1h-1zM1166 303h1v1h-1zM707 304h1v1h-1zM1045 304h1v1h-1zM1147 304h1v1h-1zM1165 304h1v1h-1zM707 305h1v1h-1zM1044 305h1v1h-1zM1148 305h1v1h-1zM1164 305h1v1h-1zM708 306h1v1h-1zM1043 306h1v1h-1zM1149 306h2v1h-2zM1162 306h2v1h-2zM709 307h1v1h-1zM1042 307h1v1h-1zM1151 307h1v1h-1zM1160 307h2v1h-2zM709 308h1v1h-1zM1040 308h2v1h-2zM1152 308h2v1h-2zM1159 308h1v1h-1zM710 309h1v1h-1zM1039 309h1v1h-1zM1154 309h2v1h-2zM1157 309h2v1h-2zM710 310h1v1h-1zM1038 310h1v1h-1zM1156 310h1v1h-1zM711 311h1v1h-1zM1037 311h1v1h-1zM711 312h1v1h-1zM1035 312h2v1h-2zM712 313h1v1h-1zM1032 313h3v1h-3zM712 314h1v1h-1zM1030 314h2v1h-2zM713 315h1v1h-1zM1028 315h2v1h-2zM713 316h1v1h-1zM1026 316h2v1h-2zM714 317h1v1h-1zM763 317h5v1h-5zM776 317h5v1h-5zM1024 317h2v1h-2zM714 318h1v1h-1zM761 318h2v1h-2zM768 318h8v1h-8zM781 318h1v1h-1zM968 318h5v1h-5zM1023 318h1v1h-1zM715 319h1v1h-1zM759 319h2v1h-2zM781 319h1v1h-1zM956 319h12v1h-12zM973 319h2v1h-2zM1021 319h2v1h-2zM715 320h1v1h-1zM757 320h2v1h-2zM782 320h1v1h-1zM954 320h2v1h-2zM975 320h2v1h-2zM1019 320h2v1h-2zM716 321h1v1h-1zM755 321h2v1h-2zM782 321h1v1h-1zM952 321h2v1h-2zM977 321h2v1h-2zM1016 321h3v1h-3zM716 322h1v1h-1zM753 322h2v1h-2zM783 322h1v1h-1zM951 322h1v1h-1zM979 322h2v1h-2zM1014 322h2v1h-2zM717 323h1v1h-1zM751 323h2v1h-2zM783 323h1v1h-1zM949 323h2v1h-2zM981 323h2v1h-2zM1010 323h4v1h-4zM717 324h1v1h-1zM749 324h2v1h-2zM784 324h1v1h-1zM948 324h1v1h-1zM983 324h2v1h-2zM1006 324h4v1h-4zM718 325h1v1h-1zM748 325h1v1h-1zM784 325h1v1h-1zM826 325h11v1h-11zM947 325h1v1h-1zM985 325h2v1h-2zM1000 325h6v1h-6zM718 326h1v1h-1zM746 326h2v1h-2zM785 326h1v1h-1zM822 326h4v1h-4zM837 326h2v1h-2zM946 326h1v1h-1zM987 326h13v1h-13zM719 327h1v1h-1zM745 327h1v1h-1zM785 327h1v1h-1zM820 327h2v1h-2zM839 327h2v1h-2zM946 327h1v1h-1zM719 328h1v1h-1zM744 328h1v1h-1zM786 328h1v1h-1zM818 328h2v1h-2zM841 328h2v1h-2zM945 328h1v1h-1zM720 329h1v1h-1zM742 329h2v1h-2zM786 329h1v1h-1zM817 329h1v1h-1zM843 329h3v1h-3zM944 329h1v1h-1zM720 330h1v1h-1zM741 330h1v1h-1zM787 330h1v1h-1zM816 330h1v1h-1zM846 330h4v1h-4zM943 330h1v1h-1zM720 331h1v1h-1zM740 331h1v1h-1zM787 331h1v1h-1zM814 331h2v1h-2zM850 331h3v1h-3zM942 331h1v1h-1zM721 332h1v1h-1zM738 332h2v1h-2zM788 332h1v1h-1zM813 332h1v1h-1zM853 332h2v1h-2zM942 332h1v1h-1zM721 333h1v1h-1zM737 333h1v1h-1zM788 333h2v1h-2zM810 333h3v1h-3zM855 333h2v1h-2zM941 333h1v1h-1zM722 334h1v1h-1zM736 334h1v1h-1zM790 334h4v1h-4zM806 334h4v1h-4zM857 334h2v1h-2zM872 334h22v1h-22zM936 334h5v1h-5zM722 335h1v1h-1zM734 335h2v1h-2zM794 335h12v1h-12zM859 335h13v1h-13zM894 335h4v1h-4zM928 335h8v1h-8zM723 336h1v1h-1zM733 336h1v1h-1zM898 336h30v1h-30zM723 337h1v1h-1zM730 337h3v1h-3zM724 338h1v1h-1zM726 338h4v1h-4zM724 339h2v1h-2z" fill="#3cb371"/>
<path d="M298 99h14v1h-14zM294 100h4v1h-4zM312 100h5v1h-5zM282 101h12v1h-12zM317 101h2v1h-2zM278 102h4v1h-4zM319 102h2v1h-2zM275 103h3v1h-3zM321 103h2v1h-2zM273 104h2v1h-2zM323 104h2v1h-2zM271 105h2v1h-2zM325 105h1v1h-1zM269 106h2v1h-2zM326 106h2v1h-2zM267 107h2v1h-2zM328 107h1v1h-1zM265 108h2v1h-2zM329 108h1v1h-1zM263 109h2v1h-2zM330 109h2v1h-2zM261 110h2v1h-2zM332 110h1v1h-1zM259 111h2v1h-2zM333 111h1v1h-1zM256 112h3v1h-3zM334 112h1v1h-1zM254 113h2v1h-2zM335 113h1v1h-1zM252 114h2v1h-2zM336 114h2v1h-2zM250 115h2v1h-2zM338 115h1v1h-1zM249 116h1v1h-1zM339 116h1v1h-1zM248 117h1v1h-1zM340 117h1v1h-1zM246 118h2v1h-2zM341 118h1v1h-1zM245 119h1v1h-1zM342 119h1v1h-1zM244 120h1v1h-1zM343 120h1v1h-1zM243 121h1v1h-1zM344 121h2v1h-2zM242 122h1v1h-1zM346 122h1v1h-1zM240 123h2v1h-2zM347 123h1v1h-1zM239 124h1v1h-1zM348 124h1v1h-1zM238 125h1v1h-1zM349 125h2v1h-2zM237 126h1v1h-1zM351 126h1v1h-1zM236 127h1v1h-1zM352 127h2v1h-2zM235 128h1v1h-1zM354 128h2v1h-2zM234 129h1v1h-1zM356 129h1v1h-1zM232 130h2v1h-2zM357 130h2v1h-2zM231 131h1v1h-1zM359 131h1v1h-1zM230 132h1v1h-1zM360 132h2v1h-2zM229 133h1v1h-1zM362 133h2v1h-2zM228 134h1v1h-1zM364 134h2v1h-2zM227 135h1v1h-1zM366 135h2v1h-2zM226 136h1v1h-1zM368 136h3v1h-3zM224 137h2v1h-2zM371 137h3v1h-3zM223 138h1v1h-1zM374 138h4v1h-4zM222 139h1v1h-1zM378 139h3v1h-3zM221 140h1v1h-1zM381 140h2v1h-2zM219 141h2v1h-2zM383 141h1v1h-1zM217 142h2v1h-2zM384 142h2v1h-2zM215 143h2v1h-2zM386 143h2v1h-2zM213 144h2v1h-2zM388 144h2v1h-2zM212 145h1v1h-1zM390 145h2v1h-2zM211 146h1v1h-1zM392 146h3v1h-3zM210 147h1v1h-1zM395 147h2v1h-2zM208 148h2v1h-2zM397 148h2v1h-2zM207 149h1v1h-1zM399 149h2v1h-2zM206 150h1v1h-1zM401 150h2v1h-2zM205 151h1v1h-1zM403 151h2v1h-2zM204 152h1v1h-1zM405 152h2v1h-2zM203 153h1v1h-1zM407 153h2v1h-2zM202 154h1v1h-1zM409 154h2v1h-2zM200 155h2v1h-2zM411 155h3v1h-3zM199 156h1v1h-1zM414 156h2v1h-2zM198 157h1v1h-1zM416 157h3v1h-3zM197 158h1v1h-1zM419 158h3v1h-3zM196 159h1v1h-1zM422 159h2v1h-2zM194 160h2v1h-2zM424 160h3v1h-3zM193 161h1v1h-1zM427 161h2v1h-2zM192 162h1v1h-1zM429 162h2v1h-2zM190 163h2v1h-2zM431 163h1v1h-1zM189 164h1v1h-1zM432 164h2v1h-2zM188 165h1v1h-1zM434 165h2v1h-2zM187 166h1v1h-1zM436 166h1v1h-1zM186 167h1v1h-1zM437 167h2v1h-2zM184 168h2v1h-2zM439 168h2v1h-2zM183 169h1v1h-1zM441 169h2v1h-2zM182 170h1v1h-1zM443 170h5v1h-5zM181 171h1v1h-1zM448 171h5v1h-5zM180 172h1v1h-1zM453 172h2v1h-2zM178 173h2v1h-2zM455 173h2v1h-2zM177 174h1v1h-1zM457 174h2v1h-2zM176 175h1v1h-1zM459 175h3v1h-3zM174 176h2v1h-2zM462 176h2v1h-2zM173 177h1v1h-1zM464 177h3v1h-3zM172 178h1v1h-1zM467 178h2v1h-2zM170 179h2v1h-2zM469 179h2v1h-2zM168 180h2v1h-2zM471 180h2v1h-2zM167 181h1v1h-1zM473 181h2v1h-2zM165 182h2v1h-2zM475 182h5v1h-5zM488 182h8v1h-8zM504 182h6v1h-6zM163 183h2v1h-2zM480 183h8v1h-8zM496 183h8v1h-8zM510 183h4v1h-4zM161 184h2v1h-2zM514 184h4v1h-4zM159 185h2v1h-2zM518 185h4v1h-4zM157 186h2v1h-2zM522 186h4v1h-4zM155 187h2v1h-2zM526 187h4v1h-4zM-4 188h12v1h-12zM152 188h3v1h-3zM530 188h3v1h-3zM8 189h6v1h-6zM150 189h2v1h-2zM533 189h2v1h-2zM14 190h2v1h-2zM146 190h4v1h-4zM535 190h2v1h-2zM16 191h3v1h-3zM142 191h4v1h-4zM537 191h2v1h-2zM19 192h3v1h-3zM139 192h3v1h-3zM539 192h2v1h-2zM22 193h2v1h-2zM137 193h2v1h-2zM541 193h1v1h-1zM24 194h3v1h-3zM135 194h2v1h-2zM542 194h1v1h-1zM27 195h2v1h-2zM133 195h2v1h-2zM543 195h1v1h-1zM29 196h1v1h-1zM132 196h1v1h-1zM544 196h2v1h-2zM30 197h2v1h-2zM130 197h2v1h-2zM546 197h1v1h-1zM32 198h1v1h-1zM128 198h2v1h-2zM547 198h1v1h-1zM33 199h1v1h-1zM127 199h1v1h-1zM548 199h1v1h-1zM34 200h2v1h-2zM125 200h2v1h-2zM549 200h1v1h-1zM36 201h1v1h-1zM123 201h2v1h-2zM550 201h2v1h-2zM37 202h2v1h-2zM120 202h3v1h-3zM552 202h1v1h-1zM39 203h2v1h-2zM118 203h2v1h-2zM553 203h1v1h-1zM41 204h2v1h-2zM114 204h4v1h-4zM554 204h2v1h-2zM43 205h2v1h-2zM110 205h4v1h-4zM556 205h1v1h-1zM45 206h2v1h-2zM107 206h3v1h-3zM557 206h1v1h-1zM47 207h1v1h-1zM104 207h3v1h-3zM558 207h1v1h-1zM48 208h2v1h-2zM102 208h2v1h-2zM559 208h1v1h-1zM50 209h2v1h-2zM99 209h3v1h-3zM560 209h1v1h-1zM52 210h2v1h-2zM97 210h2v1h-2zM561 210h1v1h-1zM54 211h2v1h-2zM95 211h2v1h-2zM562 211h1v1h-1zM56 212h3v1h-3zM93 212h2v1h-2zM563 212h1v1h-1zM59 213h3v1h-3zM90 213h3v1h-3zM564 213h1v1h-1zM62 214h4v1h-4zM86 214h4v1h-4zM565 214h1v1h-1zM66 215h6v1h-6zM80 215h6v1h-6zM565 215h1v1h-1zM72 216h8v1h-8zM566 216h1v1h-1zM567 217h1v1h-1zM568 218h1v1h-1zM568 219h1v1h-1zM569 220h1v1h-1zM570 221h1v1h-1zM571 222h1v1h-1zM571 223h1v1h-1zM572 224h1v1h-1zM573 225h1v1h-1zM573 226h1v1h-1zM574 227h1v1h-1zM574 228h1v1h-1zM575 229h1v1h-1zM576 230h1v1h-1zM576 231h1v1h-1zM577 232h1v1h-1zM578 233h1v1h-1zM578 234h1v1h-1zM579 235h1v1h-1zM579 236h1v1h-1zM580 237h1v1h-1zM581 238h1v1h-1zM581 239h1v1h-1zM582 240h1v1h-1zM582 241h1v1h-1zM583 242h1v1h-1zM583 243h1v1h-1zM584 244h1v1h-1zM584 245h1v1h-1zM585 246h1v1h-1zM585 247h1v1h-1zM586 248h1v1h-1zM586 249h1v1h-1zM587 250h1v1h-1zM587 251h1v1h-1zM588 252h1v1h-1zM589 253h1v1h-1zM589 254h1v1h-1zM590 255h1v1h-1zM590 256h1v1h-1zM591 257h1v1h-1zM591 258h1v1h-1zM592 259h1v1h-1zM593 260h1v1h-1zM593 261h1v1h-1zM594 262h1v1h-1zM594 263h1v1h-1zM595 264h1v1h-1zM595 265h1v1h-1zM596 266h1v1h-1zM596 267h1v1h-1zM597 268h1v1h-1zM597 269h1v1h-1zM598 270h1v1h-1zM598 271h1v1h-1zM599 272h1v1h-1zM599 273h1v1h-1zM600 274h1v1h-1zM600 275h1v1h-1zM601 276h1v1h-1zM601 277h1v1h-1zM602 278h1v1h-1zM602 279h1v1h-1zM603 280h1v1h-1zM603 281h1v1h-1zM604 282h1v1h-1zM604 283h1v1h-1zM604 284h1v1h-1zM605 285h1v1h-1zM605 286h1v1h-1zM606 287h1v1h-1zM606 288h1v1h-1zM607 289h1v1h-1zM607 290h1v1h-1zM608 291h1v1h-1zM1314 291h4v1h-4zM608 292h1v1h-1zM1310 292h4v1h-4zM1318 292h4v1h-4zM608 293h1v1h-1zM1306 293h4v1h-4zM1322 293h4v1h-4zM609 294h1v1h-1zM1302 294h4v1h-4zM1326 294h4v1h-4zM609 295h1v1h-1zM1296 295h6v1h-6zM1330 295h3v1h-3zM610 296h1v1h-1zM1288 296h8v1h-8zM1333 296h1v1h-1zM610 297h1v1h-1zM1280 297h8v1h-8zM1334 297h2v1h-2zM611 298h1v1h-1zM1272 298h8v1h-8zM1336 298h1v1h-1zM611 299h1v1h-1zM1267 299h5v1h-5zM1337 299h1v1h-1zM612 300h1v1h-1zM1265 300h2v1h-2zM1338 300h2v1h-2zM612 301h1v1h-1zM1263 301h2v1h-2zM1340 301h2v1h-2zM613 302h1v1h-1zM1261 302h2v1h-2zM1342 302h2v1h-2zM613 303h1v1h-1zM1258 303h3v1h-3zM1344 303h3v1h-3zM614 304h1v1h-1zM1254 304h4v1h-4zM1347 304h2v1h-2zM615 305h1v1h-1zM1250 305h4v1h-4zM1349 305h2v1h-2zM615 306h1v1h-1zM1246 306h4v1h-4zM1351 306h2v1h-2zM616 307h1v1h-1zM1242 307h4v1h-4zM1353 307h2v1h-2zM617 308h1v1h-1zM1238 308h4v1h-4zM1355 308h2v1h-2zM617 309h1v1h-1zM1236 309h2v1h-2zM1357 309h2v1h-2zM618 310h1v1h-1zM1234 310h2v1h-2zM1359 310h2v1h-2zM619 311h1v1h-1zM1232 311h2v1h-2zM1361 311h2v1h-2zM619 312h1v1h-1zM1231 312h1v1h-1zM1363 312h2v1h-2zM620 313h1v1h-1zM1229 313h2v1h-2zM1365 313h2v1h-2zM621 314h1v1h-1zM1227 314h2v1h-2zM1367 314h2v1h-2zM621 315h1v1h-1zM1225 315h2v1h-2zM1369 315h2v1h-2zM622 316h1v1h-1zM1223 316h2v1h-2zM1371 316h2v1h-2zM622 317h1v1h-1zM1221 317h2v1h-2zM1373 317h2v1h-2zM623 318h1v1h-1zM1220 318h1v1h-1zM1375 318h2v1h-2zM623 319h1v1h-1zM1218 319h2v1h-2zM1377 319h2v1h-2zM624 320h1v1h-1zM1216 320h2v1h-2zM1379 320h3v1h-3zM624 321h1v1h-1zM1215 321h1v1h-1zM1382 321h4v1h-4zM625 322h1v1h-1zM1213 322h2v1h-2zM1386 322h6v1h-6zM1400 322h8v1h-8zM1416 322h8v1h-8zM1432 322h6v1h-6zM625 323h1v1h-1zM1210 323h3v1h-3zM1392 323h8v1h-8zM1408 323h8v1h-8zM1424 323h8v1h-8zM1438 323h4v1h-4zM1448 323h5v1h-5zM626 324h1v1h-1zM1206 324h4v1h-4zM1442 324h6v1h-6zM626 325h1v1h-1zM1203 325h3v1h-3zM627 326h1v1h-1zM1201 326h2v1h-2zM627 327h1v1h-1zM1199 327h2v1h-2zM628 328h1v1h-1zM1197 328h2v1h-2zM628 329h1v1h-1zM1195 329h2v1h-2zM629 330h1v1h-1zM1193 330h2v1h-2zM629 331h1v1h-1zM1191 331h2v1h-2zM630 332h1v1h-1zM1189 332h2v1h-2zM630 333h1v1h-1zM1187 333h2v1h-2zM631 334h1v1h-1zM1185 334h2v1h-2zM632 335h1v1h-1zM1183 335h2v1h-2zM632 336h1v1h-1zM1181 336h2v1h-2zM633 337h1v1h-1zM1180 337h1v1h-1zM634 338h1v1h-1zM1178 338h2v1h-2zM634 339h1v1h-1zM1177 339h1v1h-1zM635 340h1v1h-1zM1176 340h1v1h-1zM635 341h1v1h-1zM1174 341h2v1h-2zM636 342h1v1h-1zM1173 342h1v1h-1zM637 343h1v1h-1zM1171 343h2v1h-2zM638 344h1v1h-1zM1169 344h2v1h-2zM639 345h1v1h-1zM1167 345h2v1h-2zM640 346h1v1h-1zM1165 346h2v1h-2zM640 347h1v1h-1zM1163 347h2v1h-2zM641 348h1v1h-1zM1160 348h3v1h-3zM642 349h1v1h-1zM1158 349h2v1h-2zM643 350h1v1h-1zM1155 350h3v1h-3zM644 351h1v1h-1zM1152 351h3v1h-3zM645 352h1v1h-1zM1150 352h2v1h-2zM645 353h1v1h-1zM1147 353h3v1h-3zM646 354h1v1h-1zM1145 354h2v1h-2zM647 355h1v1h-1zM1143 355h2v1h-2zM648 356h1v1h-1zM1141 356h2v1h-2zM648 357h1v1h-1zM1139 357h2v1h-2zM649 358h1v1h-1zM1137 358h2v1h-2zM650 359h1v1h-1zM1135 359h2v1h-2zM651 360h1v1h-1zM1133 360h2v1h-2zM651 361h1v1h-1zM1132 361h1v1h-1zM652 362h1v1h-1zM1130 362h2v1h-2zM653 363h1v1h-1zM1128 363h2v1h-2zM654 364h1v1h-1zM1127 364h1v1h-1zM655 365h1v1h-1zM1125 365h2v1h-2zM656 366h1v1h-1zM1124 366h1v1h-1zM657 367h1v1h-1zM1122 367h2v1h-2zM658 368h1v1h-1zM1120 368h2v1h-2zM659 369h1v1h-1zM1119 369h1v1h-1zM660 370h1v1h-1zM1117 370h2v1h-2zM661 371h1v1h-1zM880 371h8v1h-8zM1116 371h1v1h-1zM661 372h1v1h-1zM872 372h8v1h-8zM888 372h6v1h-6zM1114 372h2v1h-2zM662 373h1v1h-1zM864 373h8v1h-8zM894 373h4v1h-4zM938 373h3v1h-3zM1112 373h2v1h-2zM663 374h1v1h-1zM858 374h6v1h-6zM898 374h6v1h-6zM934 374h4v1h-4zM941 374h2v1h-2zM1111 374h1v1h-1zM664 375h1v1h-1zM854 375h4v1h-4zM904 375h30v1h-30zM943 375h2v1h-2zM1109 375h2v1h-2zM664 376h1v1h-1zM850 376h4v1h-4zM945 376h2v1h-2zM1108 376h1v1h-1zM665 377h1v1h-1zM846 377h4v1h-4zM947 377h2v1h-2zM1106 377h2v1h-2zM666 378h1v1h-1zM843 378h3v1h-3zM949 378h2v1h-2zM1105 378h1v1h-1zM667 379h1v1h-1zM840 379h3v1h-3zM951 379h2v1h-2zM1104 379h1v1h-1zM667 380h1v1h-1zM828 380h4v1h-4zM838 380h2v1h-2zM953 380h2v1h-2zM1102 380h2v1h-2zM668 381h1v1h-1zM826 381h2v1h-2zM832 381h6v1h-6zM955 381h5v1h-5zM1101 381h1v1h-1zM669 382h1v1h-1zM824 382h2v1h-2zM960 382h6v1h-6zM1066 382h6v1h-6zM1096 382h5v1h-5zM670 383h1v1h-1zM823 383h1v1h-1zM966 383h2v1h-2zM1062 383h4v1h-4zM1072 383h24v1h-24zM671 384h1v1h-1zM821 384h2v1h-2zM968 384h3v1h-3zM1058 384h4v1h-4zM672 385h1v1h-1zM819 385h2v1h-2zM971 385h2v1h-2zM1054 385h4v1h-4zM673 386h1v1h-1zM816 386h3v1h-3zM973 386h1v1h-1zM1051 386h3v1h-3zM674 387h1v1h-1zM814 387h2v1h-2zM974 387h2v1h-2zM1048 387h3v1h-3zM675 388h1v1h-1zM811 388h3v1h-3zM976 388h1v1h-1zM1046 388h2v1h-2zM676 389h1v1h-1zM808 389h3v1h-3zM977 389h1v1h-1zM1042 389h4v1h-4zM677 390h1v1h-1zM806 390h2v1h-2zM978 390h2v1h-2zM1038 390h4v1h-4zM678 391h1v1h-1zM800 391h6v1h-6zM980 391h1v1h-1zM1032 391h6v1h-6zM678 392h1v1h-1zM795 392h5v1h-5zM981 392h2v1h-2zM1024 392h8v1h-8zM679 393h1v1h-1zM792 393h3v1h-3zM983 393h1v1h-1zM1018 393h6v1h-6zM680 394h1v1h-1zM790 394h2v1h-2zM984 394h2v1h-2zM1014 394h4v1h-4zM681 395h1v1h-1zM788 395h2v1h-2zM986 395h2v1h-2zM1000 395h14v1h-14zM682 396h1v1h-1zM787 396h1v1h-1zM988 396h12v1h-12zM682 397h1v1h-1zM786 397h1v1h-1zM683 398h1v1h-1zM785 398h1v1h-1zM684 399h1v1h-1zM784 399h1v1h-1zM685 400h1v1h-1zM783 400h1v1h-1zM686 401h1v1h-1zM782 401h1v1h-1zM686 402h1v1h-1zM781 402h1v1h-1zM687 403h1v1h-1zM778 403h3v1h-3zM688 404h1v1h-1zM774 404h4v1h-4zM689 405h1v1h-1zM772 405h2v1h-2zM690 406h1v1h-1zM771 406h1v1h-1zM690 407h1v1h-1zM770 407h1v1h-1zM691 408h1v1h-1zM768 408h2v1h-2zM692 409h1v1h-1zM767 409h1v1h-1zM693 410h1v1h-1zM766 410h1v1h-1zM694 411h1v1h-1zM765 411h1v1h-1zM695 412h1v1h-1zM764 412h1v1h-1zM696 413h1v1h-1zM763 413h1v1h-1zM696 414h1v1h-1zM762 414h1v1h-1zM697 415h1v1h-1zM761 415h1v1h-1zM698 416h1v1h-1zM760 416h1v1h-1zM699 417h1v1h-1zM759 417h1v1h-1zM700 418h2v1h-2zM758 418h1v1h-1zM702 419h2v1h-2zM757 419h1v1h-1zM704 420h3v1h-3zM755 420h2v1h-2zM707 421h2v1h-2zM752 421h3v1h-3zM709 422h2v1h-2zM750 422h2v1h-2zM711 423h2v1h-2zM747 423h3v1h-3zM713 424h2v1h-2zM745 424h2v1h-2zM715 425h2v1h-2zM743 425h2v1h-2zM717 426h2v1h-2zM741 426h2v1h-2zM719 427h2v1h-2zM736 427h5v1h-5zM721 428h2v1h-2zM728 428h8v1h-8zM723 429h5v1h-5z" fill="#3cb371"/>
<path d="M299 142h5v1h-5zM297 143h2v1h-2zM304 143h8v1h-8zM295 144h2v1h-2zM312 144h5v1h-5zM293 145h2v1h-2zM316 145h1v1h-1zM288 146h5v1h-5zM317 146h1v1h-1zM283 147h5v1h-5zM317 147h1v1h-1zM281 148h2v1h-2zM318 148h1v1h-1zM279 149h2v1h-2zM318 149h1v1h-1zM277 150h2v1h-2zM319 150h1v1h-1zM274 151h3v1h-3zM319 151h1v1h-1zM270 152h4v1h-4zM320 152h1v1h-1zM268 153h2v1h-2zM320 153h1v1h-1zM266 154h2v1h-2zM320 154h1v1h-1zM265 155h1v1h-1zM321 155h1v1h-1zM264 156h1v1h-1zM321 156h1v1h-1zM262 157h2v1h-2zM322 157h1v1h-1zM261 158h1v1h-1zM322 158h1v1h-1zM259 159h2v1h-2zM323 159h1v1h-1zM256 160h3v1h-3zM323 160h1v1h-1zM254 161h2v1h-2zM324 161h1v1h-1zM252 162h2v1h-2zM324 162h1v1h-1zM251 163h1v1h-1zM324 163h1v1h-1zM251 164h1v1h-1zM325 164h1v1h-1zM250 165h1v1h-1zM325 165h1v1h-1zM250 166h1v1h-1zM325 166h1v1h-1zM249 167h1v1h-1zM325 167h1v1h-1zM248 168h1v1h-1zM326 168h1v1h-1zM248 169h1v1h-1zM326 169h1v1h-1zM247 170h1v1h-1zM326 170h1v1h-1zM246 171h1v1h-1zM327 171h1v1h-1zM246 172h1v1h-1zM327 172h1v1h-1zM245 173h1v1h-1zM327 173h1v1h-1zM245 174h1v1h-1zM327 174h1v1h-1zM244 175h1v1h-1zM328 175h1v1h-1zM243 176h1v1h-1zM328 176h1v1h-1zM243 177h1v1h-1zM328 177h1v1h-1zM242 178h1v1h-1zM329 178h1v1h-1zM242 179h1v1h-1zM329 179h1v1h-1zM241 180h1v1h-1zM329 180h1v1h-1zM241 181h1v1h-1zM329 181h1v1h-1zM240 182h1v1h-1zM330 182h1v1h-1zM240 183h1v1h-1zM330 183h1v1h-1zM239 184h1v1h-1zM330 184h1v1h-1zM239 185h1v1h-1zM331 185h1v1h-1zM238 186h1v1h-1zM331 186h1v1h-1zM238 187h1v1h-1zM331 187h1v1h-1zM237 188h1v1h-1zM331 188h1v1h-1zM237 189h1v1h-1zM332 189h1v1h-1zM236 190h1v1h-1zM332 190h1v1h-1zM236 191h1v1h-1zM332 191h1v1h-1zM235 192h1v1h-1zM333 192h1v1h-1zM235 193h1v1h-1zM333 193h1v1h-1zM234 194h1v1h-1zM333 194h1v1h-1zM234 195h1v1h-1zM334 195h1v1h-1zM233 196h1v1h-1zM334 196h1v1h-1zM233 197h1v1h-1zM334 197h1v1h-1zM232 198h1v1h-1zM335 198h1v1h-1zM232 199h1v1h-1zM335 199h1v1h-1zM232 200h1v1h-1zM335 200h1v1h-1zM231 201h1v1h-1zM336 201h1v1h-1zM231 202h1v1h-1zM336 202h1v1h-1zM230 203h1v1h-1zM336 203h1v1h-1zM230 204h1v1h-1zM337 204h1v1h-1zM229 205h1v1h-1zM337 205h1v1h-1zM229 206h1v1h-1zM337 206h1v1h-1zM228 207h1v1h-1zM338 207h1v1h-1zM228 208h1v1h-1zM338 208h1v1h-1zM227 209h1v1h-1zM338 209h1v1h-1zM227 210h1v1h-1zM339 210h1v1h-1zM226 211h1v1h-1zM339 211h1v1h-1zM225 212h1v1h-1zM339 212h1v1h-1zM225 213h1v1h-1zM340 213h1v1h-1zM224 214h1v1h-1zM340 214h1v1h-1zM223 215h1v1h-1zM340 215h1v1h-1zM223 216h1v1h-1zM341 216h1v1h-1zM222 217h1v1h-1zM341 217h1v1h-1zM221 218h1v1h-1zM342 218h1v1h-1zM221 219h1v1h-1zM342 219h1v1h-1zM220 220h1v1h-1zM342 220h1v1h-1zM219 221h1v1h-1zM343 221h1v1h-1zM219 222h1v1h-1zM343 222h1v1h-1zM218 223h1v1h-1zM344 223h1v1h-1zM217 224h1v1h-1zM344 224h1v1h-1zM217 225h1v1h-1zM344 225h1v1h-1zM216 226h1v1h-1zM345 226h1v1h-1zM215 227h1v1h-1zM345 227h1v1h-1zM215 228h1v1h-1zM346 228h1v1h-1zM214 229h1v1h-1zM346 229h1v1h-1zM213 230h1v1h-1zM346 230h1v1h-1zM213 231h1v1h-1zM347 231h1v1h-1zM212 232h1v1h-1zM347 232h1v1h-1zM211 233h1v1h-1zM348 233h1v1h-1zM211 234h1v1h-1zM348 234h1v1h-1zM210 235h1v1h-1zM349 235h1v1h-1zM210 236h1v1h-1zM350 236h1v1h-1zM209 237h1v1h-1zM350 237h1v1h-1zM208 238h1v1h-1zM351 238h1v1h-1zM208 239h1v1h-1zM352 239h1v1h-1zM207 240h1v1h-1zM353 240h1v1h-1zM458 240h4v1h-4zM206 241h1v1h-1zM354 241h1v1h-1zM454 241h4v1h-4zM462 241h2v1h-2zM206 242h1v1h-1zM354 242h1v1h-1zM448 242h6v1h-6zM464 242h3v1h-3zM205 243h1v1h-1zM355 243h1v1h-1zM444 243h4v1h-4zM467 243h3v1h-3zM205 244h1v1h-1zM356 244h1v1h-1zM442 244h2v1h-2zM470 244h4v1h-4zM491 244h3v1h-3zM204 245h1v1h-1zM357 245h1v1h-1zM440 245h2v1h-2zM474 245h4v1h-4zM489 245h2v1h-2zM494 245h4v1h-4zM504 245h5v1h-5zM203 246h1v1h-1zM358 246h1v1h-1zM439 246h1v1h-1zM478 246h2v1h-2zM487 246h2v1h-2zM498 246h6v1h-6zM509 246h2v1h-2zM-4 247h17v1h-17zM203 247h1v1h-1zM359 247h1v1h-1zM437 247h2v1h-2zM480 247h3v1h-3zM485 247h2v1h-2zM511 247h2v1h-2zM13 248h1v1h-1zM202 248h1v1h-1zM360 248h1v1h-1zM436 248h1v1h-1zM483 248h2v1h-2zM513 248h2v1h-2zM14 249h2v1h-2zM202 249h1v1h-1zM360 249h1v1h-1zM435 249h1v1h-1zM515 249h2v1h-2zM16 250h1v1h-1zM88 250h5v1h-5zM201 250h1v1h-1zM361 250h1v1h-1zM434 250h1v1h-1zM517 250h1v1h-1zM17 251h1v1h-1zM60 251h12v1h-12zM80 251h8v1h-8zM93 251h2v1h-2zM201 251h1v1h-1zM362 251h1v1h-1zM432 251h2v1h-2zM518 251h2v1h-2zM18 252h2v1h-2zM58 252h2v1h-2zM72 252h8v1h-8zM95 252h1v1h-1zM200 252h1v1h-1zM363 252h1v1h-1zM431 252h1v1h-1zM520 252h1v1h-1zM20 253h2v1h-2zM56 253h2v1h-2zM96 253h2v1h-2zM199 253h1v1h-1zM364 253h1v1h-1zM430 253h1v1h-1zM521 253h1v1h-1zM22 254h4v1h-4zM55 254h1v1h-1zM98 254h2v1h-2zM199 254h1v1h-1zM365 254h2v1h-2zM429 254h1v1h-1zM522 254h2v1h-2zM26 255h6v1h-6zM53 255h2v1h-2zM100 255h2v1h-2zM198 255h1v1h-1zM367 255h2v1h-2zM427 255h2v1h-2zM524 255h2v1h-2zM32 256h6v1h-6zM51 256h2v1h-2zM102 256h2v1h-2zM198 256h1v1h-1zM369 256h2v1h-2zM425 256h2v1h-2zM526 256h2v1h-2zM38 257h2v1h-2zM48 257h3v1h-3zM104 257h3v1h-3zM197 257h1v1h-1zM371 257h3v1h-3zM423 257h2v1h-2zM528 257h3v1h-3zM40 258h3v1h-3zM46 258h2v1h-2zM107 258h2v1h-2zM197 258h1v1h-1zM374 258h2v1h-2zM421 258h2v1h-2zM531 258h2v1h-2zM43 259h3v1h-3zM109 259h2v1h-2zM196 259h1v1h-1zM376 259h3v1h-3zM418 259h3v1h-3zM533 259h1v1h-1zM111 260h1v1h-1zM195 260h1v1h-1zM379 260h2v1h-2zM414 260h4v1h-4zM534 260h1v1h-1zM112 261h2v1h-2zM194 261h1v1h-1zM381 261h2v1h-2zM408 261h6v1h-6zM535 261h1v1h-1zM114 262h2v1h-2zM192 262h2v1h-2zM383 262h2v1h-2zM402 262h6v1h-6zM536 262h1v1h-1zM116 263h1v1h-1zM191 263h1v1h-1zM385 263h2v1h-2zM398 263h4v1h-4zM537 263h1v1h-1zM117 264h2v1h-2zM190 264h1v1h-1zM387 264h11v1h-11zM538 264h1v1h-1zM119 265h2v1h-2zM189 265h1v1h-1zM539 265h1v1h-1zM121 266h2v1h-2zM187 266h2v1h-2zM540 266h1v1h-1zM123 267h13v1h-13zM184 267h3v1h-3zM540 267h1v1h-1zM136 268h8v1h-8zM182 268h2v1h-2zM541 268h1v1h-1zM144 269h8v1h-8zM180 269h2v1h-2zM541 269h1v1h-1zM152 270h6v1h-6zM178 270h2v1h-2zM541 270h1v1h-1zM158 271h2v1h-2zM176 271h2v1h-2zM541 271h1v1h-1zM160 272h3v1h-3zM175 272h1v1h-1zM542 272h1v1h-1zM163 273h5v1h-5zM173 273h2v1h-2zM542 273h1v1h-1zM168 274h5v1h-5zM542 274h1v1h-1zM543 275h1v1h-1zM543 276h1v1h-1zM543 277h1v1h-1zM544 278h1v1h-1zM544 279h1v1h-1zM544 280h1v1h-1zM544 281h1v1h-1zM545 282h1v1h-1zM545 283h1v1h-1zM545 284h1v1h-1zM546 285h1v1h-1zM546 286h1v1h-1zM546 287h1v1h-1zM547 288h1v1h-1zM547 289h1v1h-1zM547 290h1v1h-1zM547 291h1v1h-1zM548 292h1v1h-1zM548 293h1v1h-1zM549 294h1v1h-1zM549 295h1v1h-1zM550 296h1v1h-1zM551 297h1v1h-1zM551 298h1v1h-1zM552 299h1v1h-1zM553 300h1v1h-1zM553 301h1v1h-1zM554 302h1v1h-1zM555 303h1v1h-1zM555 304h1v1h-1zM556 305h1v1h-1zM557 306h1v1h-1zM557 307h1v1h-1zM558 308h1v1h-1zM558 309h1v1h-1zM559 310h1v1h-1zM560 311h1v1h-1zM560 312h1v1h-1zM561 313h1v1h-1zM562 314h1v1h-1zM562 315h1v1h-1zM563 316h1v1h-1zM563 317h1v1h-1zM564 318h1v1h-1zM564 319h1v1h-1zM565 320h1v1h-1zM565 321h1v1h-1zM565 322h1v1h-1zM565 323h1v1h-1zM566 324h1v1h-1zM566 325h1v1h-1zM566 326h1v1h-1zM567 327h1v1h-1zM567 328h1v1h-1zM567 329h1v1h-1zM568 330h1v1h-1zM568 331h1v1h-1zM568 332h1v1h-1zM568 333h1v1h-1zM569 334h1v1h-1zM569 335h1v1h-1zM569 336h1v1h-1zM570 337h1v1h-1zM570 338h1v1h-1zM570 339h1v1h-1zM571 340h1v1h-1zM571 341h1v1h-1zM571 342h1v1h-1zM571 343h1v1h-1zM572 344h1v1h-1zM572 345h1v1h-1zM572 346h1v1h-1zM573 347h1v1h-1zM573 348h1v1h-1zM573 349h1v1h-1zM574 350h1v1h-1zM574 351h1v1h-1zM574 352h1v1h-1zM575 353h1v1h-1zM575 354h1v1h-1zM1316 354h1v1h-1zM575 355h1v1h-1zM1315 355h1v1h-1zM1317 355h2v1h-2zM576 356h1v1h-1zM1314 356h1v1h-1zM1319 356h2v1h-2zM576 357h1v1h-1zM1313 357h1v1h-1zM1321 357h2v1h-2zM576 358h1v1h-1zM1312 358h1v1h-1zM1323 358h2v1h-2zM576 359h1v1h-1zM1311 359h1v1h-1zM1325 359h1v1h-1zM1448 359h5v1h-5zM577 360h1v1h-1zM1310 360h1v1h-1zM1326 360h2v1h-2zM1426 360h22v1h-22zM577 361h1v1h-1zM1309 361h1v1h-1zM1328 361h1v1h-1zM1364 361h2v1h-2zM1422 361h4v1h-4zM577 362h1v1h-1zM1308 362h1v1h-1zM1329 362h1v1h-1zM1362 362h2v1h-2zM1366 362h2v1h-2zM1394 362h28v1h-28zM578 363h1v1h-1zM1307 363h1v1h-1zM1330 363h2v1h-2zM1360 363h2v1h-2zM1368 363h3v1h-3zM1390 363h4v1h-4zM578 364h1v1h-1zM1306 364h1v1h-1zM1332 364h1v1h-1zM1359 364h1v1h-1zM1371 364h5v1h-5zM1384 364h6v1h-6zM578 365h1v1h-1zM1305 365h1v1h-1zM1333 365h2v1h-2zM1357 365h2v1h-2zM1376 365h8v1h-8zM579 366h1v1h-1zM1304 366h1v1h-1zM1335 366h2v1h-2zM1354 366h3v1h-3zM579 367h1v1h-1zM1304 367h1v1h-1zM1337 367h2v1h-2zM1350 367h4v1h-4zM579 368h1v1h-1zM1303 368h1v1h-1zM1339 368h11v1h-11zM580 369h1v1h-1zM1302 369h1v1h-1zM580 370h1v1h-1zM1301 370h1v1h-1zM580 371h1v1h-1zM1299 371h2v1h-2zM580 372h1v1h-1zM1296 372h3v1h-3zM581 373h1v1h-1zM1294 373h2v1h-2zM581 374h1v1h-1zM1288 374h6v1h-6zM581 375h1v1h-1zM1282 375h6v1h-6zM581 376h1v1h-1zM1278 376h4v1h-4zM581 377h1v1h-1zM1276 377h2v1h-2zM582 378h1v1h-1zM1274 378h2v1h-2zM582 379h1v1h-1zM1272 379h2v1h-2zM582 380h1v1h-1zM1271 380h1v1h-1zM582 381h1v1h-1zM1269 381h2v1h-2zM582 382h1v1h-1zM1267 382h2v1h-2zM583 383h1v1h-1zM1265 383h2v1h-2zM583 384h1v1h-1zM1263 384h2v1h-2zM583 385h1v1h-1zM1261 385h2v1h-2zM583 386h1v1h-1zM1260 386h1v1h-1zM583 387h1v1h-1zM1258 387h2v1h-2zM584 388h1v1h-1zM1256 388h2v1h-2zM584 389h1v1h-1zM1160 389h8v1h-8zM1255 389h1v1h-1zM584 390h1v1h-1zM1156 390h4v1h-4zM1168 390h5v1h-5zM1253 390h2v1h-2zM584 391h1v1h-1zM1155 391h1v1h-1zM1173 391h1v1h-1zM1251 391h2v1h-2zM585 392h1v1h-1zM1155 392h1v1h-1zM1173 392h1v1h-1zM1249 392h2v1h-2zM585 393h1v1h-1zM1154 393h1v1h-1zM1174 393h1v1h-1zM1247 393h2v1h-2zM585 394h1v1h-1zM1153 394h1v1h-1zM1174 394h1v1h-1zM1245 394h2v1h-2zM585 395h1v1h-1zM1152 395h1v1h-1zM1175 395h1v1h-1zM1243 395h2v1h-2zM585 396h1v1h-1zM1152 396h1v1h-1zM1175 396h1v1h-1zM1241 396h2v1h-2zM586 397h1v1h-1zM1151 397h1v1h-1zM1176 397h1v1h-1zM1239 397h2v1h-2zM586 398h1v1h-1zM1150 398h1v1h-1zM1177 398h1v1h-1zM1237 398h2v1h-2zM586 399h1v1h-1zM1149 399h1v1h-1zM1177 399h1v1h-1zM1236 399h1v1h-1zM586 400h1v1h-1zM1149 400h1v1h-1zM1178 400h1v1h-1zM1235 400h1v1h-1zM586 401h1v1h-1zM1148 401h1v1h-1zM1178 401h1v1h-1zM1235 401h1v1h-1zM587 402h1v1h-1zM1148 402h1v1h-1zM1179 402h1v1h-1zM1234 402h1v1h-1zM587 403h1v1h-1zM1147 403h1v1h-1zM1179 403h1v1h-1zM1233 403h1v1h-1zM587 404h1v1h-1zM1147 404h1v1h-1zM1180 404h1v1h-1zM1233 404h1v1h-1zM587 405h1v1h-1zM1146 405h1v1h-1zM1181 405h2v1h-2zM1232 405h1v1h-1zM587 406h1v1h-1zM1146 406h1v1h-1zM1183 406h1v1h-1zM1231 406h1v1h-1zM588 407h1v1h-1zM1146 407h1v1h-1zM1184 407h2v1h-2zM1231 407h1v1h-1zM588 408h1v1h-1zM1145 408h1v1h-1zM1186 408h2v1h-2zM1230 408h1v1h-1zM588 409h1v1h-1zM882 409h12v1h-12zM1145 409h1v1h-1zM1188 409h1v1h-1zM1229 409h1v1h-1zM588 410h1v1h-1zM878 410h4v1h-4zM894 410h2v1h-2zM1145 410h1v1h-1zM1189 410h2v1h-2zM1229 410h1v1h-1zM589 411h1v1h-1zM866 411h12v1h-12zM896 411h3v1h-3zM1144 411h1v1h-1zM1191 411h1v1h-1zM1228 411h1v1h-1zM589 412h1v1h-1zM862 412h4v1h-4zM899 412h3v1h-3zM1144 412h1v1h-1zM1192 412h2v1h-2zM1226 412h2v1h-2zM589 413h1v1h-1zM860 413h2v1h-2zM902 413h4v1h-4zM938 413h3v1h-3zM1143 413h1v1h-1zM1194 413h2v1h-2zM1225 413h1v1h-1zM589 414h1v1h-1zM859 414h1v1h-1zM906 414h22v1h-22zM934 414h4v1h-4zM940 414h1v1h-1zM1143 414h1v1h-1zM1196 414h1v1h-1zM1224 414h1v1h-1zM590 415h1v1h-1zM858 415h1v1h-1zM928 415h6v1h-6zM941 415h1v1h-1zM1143 415h1v1h-1zM1197 415h2v1h-2zM1222 415h2v1h-2zM590 416h1v1h-1zM857 416h1v1h-1zM941 416h1v1h-1zM1142 416h1v1h-1zM1199 416h2v1h-2zM1221 416h1v1h-1zM590 417h1v1h-1zM856 417h1v1h-1zM942 417h1v1h-1zM1142 417h1v1h-1zM1201 417h2v1h-2zM1218 417h3v1h-3zM591 418h1v1h-1zM855 418h1v1h-1zM942 418h1v1h-1zM1142 418h1v1h-1zM1203 418h5v1h-5zM1214 418h4v1h-4zM591 419h1v1h-1zM854 419h1v1h-1zM943 419h1v1h-1zM1141 419h1v1h-1zM1208 419h6v1h-6zM591 420h1v1h-1zM853 420h1v1h-1zM943 420h1v1h-1zM1141 420h1v1h-1zM591 421h1v1h-1zM852 421h1v1h-1zM944 421h1v1h-1zM1140 421h1v1h-1zM592 422h1v1h-1zM851 422h1v1h-1zM944 422h1v1h-1zM1140 422h1v1h-1zM592 423h1v1h-1zM850 423h1v1h-1zM945 423h1v1h-1zM1139 423h1v1h-1zM592 424h1v1h-1zM848 424h2v1h-2zM945 424h1v1h-1zM1139 424h1v1h-1zM593 425h1v1h-1zM847 425h1v1h-1zM946 425h1v1h-1zM1138 425h1v1h-1zM593 426h1v1h-1zM846 426h1v1h-1zM946 426h1v1h-1zM1138 426h1v1h-1zM593 427h1v1h-1zM845 427h1v1h-1zM947 427h1v1h-1zM1137 427h1v1h-1zM593 428h1v1h-1zM844 428h1v1h-1zM947 428h1v1h-1zM1137 428h1v1h-1zM594 429h1v1h-1zM843 429h1v1h-1zM948 429h1v1h-1zM1136 429h1v1h-1zM594 430h1v1h-1zM842 430h1v1h-1zM948 430h1v1h-1zM1136 430h1v1h-1zM594 431h1v1h-1zM841 431h1v1h-1zM949 431h1v1h-1zM1135 431h1v1h-1zM595 432h1v1h-1zM840 432h1v1h-1zM949 432h1v1h-1zM1135 432h1v1h-1zM595 433h1v1h-1zM840 433h1v1h-1zM950 433h1v1h-1zM1134 433h1v1h-1zM595 434h1v1h-1zM839 434h1v1h-1zM951 434h1v1h-1zM1134 434h1v1h-1zM595 435h1v1h-1zM828 435h2v1h-2zM838 435h1v1h-1zM951 435h1v1h-1zM1133 435h1v1h-1zM596 436h1v1h-1zM827 436h1v1h-1zM830 436h4v1h-4zM837 436h1v1h-1zM952 436h1v1h-1zM1133 436h1v1h-1zM596 437h1v1h-1zM826 437h1v1h-1zM834 437h3v1h-3zM953 437h1v1h-1zM1132 437h1v1h-1zM596 438h1v1h-1zM824 438h2v1h-2zM953 438h1v1h-1zM1131 438h1v1h-1zM596 439h1v1h-1zM823 439h1v1h-1zM954 439h1v1h-1zM1131 439h1v1h-1zM597 440h1v1h-1zM822 440h1v1h-1zM955 440h1v1h-1zM1130 440h1v1h-1zM597 441h1v1h-1zM821 441h1v1h-1zM955 441h1v1h-1zM1129 441h1v1h-1zM597 442h1v1h-1zM816 442h5v1h-5zM956 442h2v1h-2zM1128 442h1v1h-1zM597 443h1v1h-1zM812 443h4v1h-4zM958 443h2v1h-2zM1128 443h1v1h-1zM598 444h1v1h-1zM810 444h2v1h-2zM960 444h3v1h-3zM1127 444h1v1h-1zM598 445h1v1h-1zM808 445h2v1h-2zM963 445h2v1h-2zM1126 445h1v1h-1zM598 446h1v1h-1zM807 446h1v1h-1zM965 446h1v1h-1zM1125 446h1v1h-1zM598 447h1v1h-1zM805 447h2v1h-2zM966 447h1v1h-1zM1125 447h1v1h-1zM598 448h1v1h-1zM796 448h9v1h-9zM967 448h1v1h-1zM1124 448h1v1h-1zM599 449h1v1h-1zM795 449h1v1h-1zM968 449h1v1h-1zM1122 449h2v1h-2zM599 450h1v1h-1zM794 450h1v1h-1zM969 450h1v1h-1zM1120 450h2v1h-2zM599 451h1v1h-1zM794 451h1v1h-1zM970 451h1v1h-1zM1119 451h1v1h-1zM599 452h1v1h-1zM793 452h1v1h-1zM971 452h1v1h-1zM1117 452h2v1h-2zM599 453h1v1h-1zM792 453h1v1h-1zM972 453h1v1h-1zM1116 453h1v1h-1zM600 454h1v1h-1zM791 454h1v1h-1zM973 454h1v1h-1zM1115 454h1v1h-1zM600 455h1v1h-1zM790 455h1v1h-1zM974 455h2v1h-2zM1114 455h1v1h-1zM600 456h1v1h-1zM790 456h1v1h-1zM976 456h1v1h-1zM1114 456h1v1h-1zM600 457h1v1h-1zM789 457h1v1h-1zM977 457h1v1h-1zM1113 457h1v1h-1zM601 458h1v1h-1zM788 458h1v1h-1zM978 458h2v1h-2zM1112 458h1v1h-1zM601 459h1v1h-1zM788 459h1v1h-1zM980 459h1v1h-1zM1111 459h1v1h-1zM601 460h1v1h-1zM787 460h1v1h-1zM981 460h1v1h-1zM1110 460h1v1h-1zM601 461h1v1h-1zM787 461h1v1h-1zM982 461h1v1h-1zM1110 461h1v1h-1zM601 462h1v1h-1zM787 462h1v1h-1zM983 462h1v1h-1zM1109 462h1v1h-1zM602 463h1v1h-1zM787 463h1v1h-1zM984 463h2v1h-2zM1108 463h1v1h-1zM602 464h1v1h-1zM786 464h1v1h-1zM986 464h1v1h-1zM1107 464h1v1h-1zM602 465h1v1h-1zM786 465h1v1h-1zM987 465h1v1h-1zM1107 465h1v1h-1zM602 466h1v1h-1zM786 466h1v1h-1zM988 466h28v1h-28zM1106 466h1v1h-1zM602 467h1v1h-1zM786 467h1v1h-1zM1016 467h6v1h-6zM1105 467h1v1h-1zM603 468h1v1h-1zM785 468h1v1h-1zM1022 468h4v1h-4zM1104 468h1v1h-1zM603 469h1v1h-1zM785 469h1v1h-1zM1026 469h6v1h-6zM1104 469h1v1h-1zM603 470h1v1h-1zM785 470h1v1h-1zM1032 470h6v1h-6zM1103 470h1v1h-1zM603 471h1v1h-1zM785 471h1v1h-1zM1038 471h2v1h-2zM1102 471h1v1h-1zM604 472h1v1h-1zM784 472h1v1h-1zM1040 472h3v1h-3zM1101 472h1v1h-1zM604 473h1v1h-1zM784 473h1v1h-1zM1043 473h3v1h-3zM1064 473h8v1h-8zM1101 473h1v1h-1zM604 474h1v1h-1zM784 474h1v1h-1zM1046 474h2v1h-2zM1058 474h6v1h-6zM1072 474h29v1h-29zM604 475h1v1h-1zM784 475h1v1h-1zM1048 475h3v1h-3zM1054 475h4v1h-4zM604 476h1v1h-1zM783 476h1v1h-1zM1051 476h3v1h-3zM605 477h1v1h-1zM783 477h1v1h-1zM605 478h1v1h-1zM783 478h1v1h-1zM605 479h1v1h-1zM783 479h1v1h-1zM605 480h1v1h-1zM782 480h1v1h-1zM606 481h1v1h-1zM782 481h1v1h-1zM606 482h1v1h-1zM782 482h1v1h-1zM606 483h1v1h-1zM782 483h1v1h-1zM606 484h1v1h-1zM781 484h1v1h-1zM607 485h1v1h-1zM781 485h1v1h-1zM607 486h1v1h-1zM781 486h1v1h-1zM607 487h1v1h-1zM781 487h1v1h-1zM607 488h1v1h-1zM780 488h1v1h-1zM608 489h1v1h-1zM779 489h2v1h-2zM608 490h1v1h-1zM776 490h3v1h-3zM608 491h1v1h-1zM774 491h2v1h-2zM608 492h1v1h-1zM772 492h2v1h-2zM609 493h1v1h-1zM772 493h1v1h-1zM609 494h1v1h-1zM771 494h1v1h-1zM609 495h1v1h-1zM771 495h1v1h-1zM609 496h1v1h-1zM770 496h1v1h-1zM610 497h1v1h-1zM770 497h1v1h-1zM610 498h1v1h-1zM769 498h1v1h-1zM610 499h1v1h-1zM769 499h1v1h-1zM610 500h1v1h-1zM768 500h1v1h-1zM611 501h1v1h-1zM768 501h1v1h-1zM611 502h1v1h-1zM767 502h1v1h-1zM611 503h1v1h-1zM767 503h1v1h-1zM611 504h1v1h-1zM766 504h1v1h-1zM612 505h1v1h-1zM766 505h1v1h-1zM612 506h1v1h-1zM765 506h1v1h-1zM612 507h1v1h-1zM765 507h1v1h-1zM613 508h1v1h-1zM764 508h1v1h-1zM613 509h1v1h-1zM763 509h1v1h-1zM614 510h1v1h-1zM763 510h1v1h-1zM614 511h1v1h-1zM762 511h1v1h-1zM615 512h1v1h-1zM761 512h1v1h-1zM616 513h1v1h-1zM760 513h1v1h-1zM616 514h1v1h-1zM760 514h1v1h-1zM617 515h1v1h-1zM759 515h1v1h-1zM618 516h1v1h-1zM758 516h1v1h-1zM618 517h1v1h-1zM757 517h1v1h-1zM619 518h1v1h-1zM757 518h1v1h-1zM619 519h1v1h-1zM724 519h4v1h-4zM752 519h5v1h-5zM620 520h1v1h-1zM723 520h1v1h-1zM728 520h6v1h-6zM746 520h6v1h-6zM620 521h1v1h-1zM722 521h1v1h-1zM734 521h4v1h-4zM742 521h4v1h-4zM621 522h1v1h-1zM721 522h1v1h-1zM738 522h4v1h-4zM621 523h1v1h-1zM720 523h1v1h-1zM621 524h1v1h-1zM720 524h1v1h-1zM621 525h1v1h-1zM719 525h1v1h-1zM622 526h1v1h-1zM718 526h1v1h-1zM622 527h1v1h-1zM717 527h1v1h-1zM622 528h1v1h-1zM716 528h1v1h-1zM622 529h1v1h-1zM715 529h1v1h-1zM623 530h1v1h-1zM714 530h1v1h-1zM623 531h1v1h-1zM713 531h1v1h-1zM623 532h1v1h-1zM712 532h1v1h-1zM623 533h1v1h-1zM712 533h1v1h-1zM624 534h1v1h-1zM711 534h1v1h-1zM624 535h1v1h-1zM710 535h1v1h-1zM624 536h1v1h-1zM709 536h1v1h-1zM624 537h1v1h-1zM707 537h2v1h-2zM625 538h1v1h-1zM705 538h2v1h-2zM625 539h1v1h-1zM703 539h2v1h-2zM625 540h1v1h-1zM701 540h2v1h-2zM625 541h1v1h-1zM700 541h1v1h-1zM626 542h1v1h-1zM699 542h1v1h-1zM626 543h1v1h-1zM699 543h1v1h-1zM626 544h1v1h-1zM698 544h1v1h-1zM626 545h1v1h-1zM697 545h1v1h-1zM627 546h1v1h-1zM696 546h1v1h-1zM627 547h1v1h-1zM696 547h1v1h-1zM627 548h1v1h-1zM695 548h1v1h-1zM627 549h1v1h-1zM694 549h1v1h-1zM628 550h1v1h-1zM693 550h1v1h-1zM628 551h1v1h-1zM693 551h1v1h-1zM629 552h1v1h-1zM692 552h1v1h-1zM629 553h1v1h-1zM691 553h1v1h-1zM630 554h1v1h-1zM691 554h1v1h-1zM631 555h1v1h-1zM690 555h1v1h-1zM632 556h1v1h-1zM690 556h1v1h-1zM632 557h1v1h-1zM689 557h1v1h-1zM633 558h1v1h-1zM689 558h1v1h-1zM634 559h1v1h-1zM688 559h1v1h-1zM635 560h1v1h-1zM687 560h1v1h-1zM635 561h1v1h-1zM687 561h1v1h-1zM636 562h2v1h-2zM686 562h1v1h-1zM638 563h2v1h-2zM686 563h1v1h-1zM640 564h3v1h-3zM685 564h1v1h-1zM643 565h3v1h-3zM685 565h1v1h-1zM646 566h2v1h-2zM680 566h5v1h-5zM648 567h3v1h-3zM676 567h4v1h-4zM651 568h3v1h-3zM674 568h2v1h-2zM654 569h4v1h-4zM672 569h2v1h-2zM658 570h4v1h-4zM671 570h1v1h-1zM662 571h4v1h-4zM669 571h2v1h-2zM666 572h3v1h-3z" fill="#3cb371"/>
<rect x="4" y="185" width="1" height="10" fill="#000"/>
<rect x="2" y="186" width="5" height="4" fill="#000"/>
<rect x="12" y="187" width="1" height="17" fill="#000"/>
<rect x="10" y="198" width="5" height="4" fill="#000"/>
<rect x="11" y="199" width="3" height="2" fill="#fff"/>
<rect x="20" y="197" width="1" height="36" fill="#000"/>
<rect x="18" y="197" width="5" height="35" fill="#000"/>
<rect x="28" y="216" width="1" height="11" fill="#000"/>
<rect x="26" y="222" width="5" height="2" fill="#000"/>
<rect x="36" y="223" width="1" height="26" fill="#000"/>
<rect x="34" y="228" width="5" height="5" fill="#000"/>
<rect x="35" y="229" width="3" height="3" fill="#fff"/>
<rect x="44" y="240" width="1" height="15" fill="#000"/>
<rect x="42" y="248" width="5" height="4" fill="#000"/>
<rect x="43" y="249" width="3" height="2" fill="#fff"/>
<rect x="52" y="232" width="1" height="13" fill="#000"/>
<rect x="50" y="236" width="5" height="2" fill="#000"/>
<rect x="60" y="218" width="1" height="16" fill="#000"/>
<rect x="58" y="220" width="5" height="14" fill="#000"/>
<rect x="59" y="221" width="3" height="12" fill="#fff"/>
<rect x="68" y="211" width="1" height="15" fill="#000"/>
<rect x="66" y="220" width="5" height="3" fill="#000"/>
<rect x="67" y="221" width="3" height="1" fill="#fff"/>
<rect x="76" y="216" width="1" height="19" fill="#000"/>
<rect x="74" y="226" width="5" height="2" fill="#000"/>
<rect x="84" y="209" width="1" height="21" fill="#000"/>
<rect x="82" y="211" width="5" height="17" fill="#000"/>
<rect x="83" y="212" width="3" height="15" fill="#fff"/>
<rect x="92" y="184" width="1" height="21" fill="#000"/>
<rect x="90" y="190" width="5" height="15" fill="#000"/>
<rect x="91" y="191" width="3" height="13" fill="#fff"/>
<rect x="100" y="144" width="1" height="19" fill="#000"/>
<rect x="98" y="146" width="5" height="16" fill="#000"/>
<rect x="99" y="147" width="3" height="14" fill="#fff"/>
<rect x="108" y="144" width="1" height="15" fill="#000"/>
<rect x="106" y="153" width="5" height="2" fill="#000"/>
<rect x="116" y="133" width="1" height="23" fill="#000"/>
<rect x="114" y="139" width="5" height="13" fill="#000"/>
<rect x="115" y="140" width="3" height="11" fill="#fff"/>
<rect x="124" y="126" width="1" height="16" fill="#000"/>
<rect x="122" y="133" width="5" height="2" fill="#000"/>
<rect x="132" y="130" width="1" height="18" fill="#000"/>
<rect x="130" y="134" width="5" height="7" fill="#000"/>
<rect x="140" y="127" width="1" height="17" fill="#000"/>
<rect x="138" y="132" width="5" height="9" fill="#000"/>
<rect x="139" y="133" width="3" height="7" fill="#fff"/>
<rect x="148" y="124" width="1" height="14" fill="#000"/>
<rect x="146" y="125" width="5" height="13" fill="#000"/>
<rect x="156" y="127" width="1" height="9" fill="#000"/>
<rect x="154" y="129" width="5" height="3" fill="#000"/>
<rect x="164" y="100" width="1" height="22" fill="#000"/>
<rect x="162" y="107" width="5" height="14" fill="#000"/>
<rect x="163" y="108" width="3" height="12" fill="#fff"/>
<rect x="172" y="95" width="1" height="18" fill="#000"/>
<rect x="170" y="98" width="5" height="4" fill="#000"/>
<rect x="180" y="100" width="1" height="18" fill="#000"/>
<rect x="178" y="103" width="5" height="6" fill="#000"/>
<rect x="188" y="85" width="1" height="32" fill="#000"/>
<rect x="186" y="90" width="5" height="11" fill="#000"/>
<rect x="187" y="91" width="3" height="9" fill="#fff"/>
<rect x="196" y="88" width="1" height="17" fill="#000"/>
<rect x="194" y="95" width="5" height="7" fill="#000"/>
<rect x="204" y="95" width="1" height="30" fill="#000"/>
<rect x="202" y="100" width="5" height="17" fill="#000"/>
<rect x="212" y="92" width="1" height="17" fill="#000"/>
<rect x="210" y="98" width="5" height="7" fill="#000"/>
<rect x="220" y="112" width="1" height="26" fill="#000"/>
<rect x="218" y="125" width="5" height="11" fill="#000"/>
<rect x="219" y="126" width="3" height="9" fill="#fff"/>
<rect x="228" y="89" width="1" height="18" fill="#000"/>
<rect x="226" y="89" width="5" height="14" fill="#000"/>
<rect x="227" y="90" width="3" height="12" fill="#fff"/>
<rect x="236" y="83" width="1" height="13" fill="#000"/>
<rect x="234" y="87" width="5" height="1" fill="#000"/>
<rect x="244" y="63" width="1" height="22" fill="#000"/>
<rect x="242" y="69" width="5" height="16" fill="#000"/>
<rect x="243" y="70" width="3" height="14" fill="#fff"/>
<rect x="252" y="52" width="1" height="29" fill="#000"/>
<rect x="250" y="53" width="5" height="27" fill="#000"/>
<rect x="260" y="65" width="1" height="23" fill="#000"/>
<rect x="258" y="69" width="5" height="13" fill="#000"/>
<rect x="268" y="64" width="1" height="20" fill="#000"/>
<rect x="266" y="73" width="5" height="4" fill="#000"/>
<rect x="267" y="74" width="3" height="2" fill="#fff"/>
<rect x="276" y="57" width="1" height="23" fill="#000"/>
<rect x="274" y="61" width="5" height="5" fill="#000"/>
<rect x="275" y="62" width="3" height="3" fill="#fff"/>
<rect x="284" y="53" width="1" height="34" fill="#000"/>
<rect x="282" y="56" width="5" height="30" fill="#000"/>
<rect x="292" y="90" width="1" height="49" fill="#000"/>
<rect x="290" y="92" width="5" height="43" fill="#000"/>
<rect x="300" y="104" width="1" height="29" fill="#000"/>
<rect x="298" y="109" width="5" height="16" fill="#000"/>
<rect x="299" y="110" width="3" height="14" fill="#fff"/>
<rect x="308" y="120" width="1" height="27" fill="#000"/>
<rect x="306" y="125" width="5" height="15" fill="#000"/>
<rect x="316" y="132" width="1" height="14" fill="#000"/>
<rect x="314" y="136" width="5" height="10" fill="#000"/>
<rect x="315" y="137" width="3" height="8" fill="#fff"/>
<rect x="324" y="172" width="1" height="22" fill="#000"/>
<rect x="322" y="186" width="5" height="6" fill="#000"/>
<rect x="323" y="187" width="3" height="4" fill="#fff"/>
<rect x="332" y="185" width="1" height="52" fill="#000"/>
<rect x="330" y="196" width="5" height="36" fill="#000"/>
<rect x="340" y="205" width="1" height="34" fill="#000"/>
<rect x="338" y="208" width="5" height="30" fill="#000"/>
<rect x="348" y="224" width="1" height="28" fill="#000"/>
<rect x="346" y="239" width="5" height="2" fill="#000"/>
<rect x="356" y="204" width="1" height="30" fill="#000"/>
<rect x="354" y="204" width="5" height="27" fill="#000"/>
<rect x="355" y="205" width="3" height="25" fill="#fff"/>
<rect x="364" y="200" width="1" height="20" fill="#000"/>
<rect x="362" y="203" width="5" height="5" fill="#000"/>
<rect x="372" y="155" width="1" height="41" fill="#000"/>
<rect x="370" y="166" width="5" height="26" fill="#000"/>
<rect x="371" y="167" width="3" height="24" fill="#fff"/>
<rect x="380" y="169" width="1" height="14" fill="#000"/>
<rect x="378" y="173" width="5" height="10" fill="#000"/>
<rect x="379" y="174" width="3" height="8" fill="#fff"/>
<rect x="388" y="175" width="1" height="22" fill="#000"/>
<rect x="386" y="184" width="5" height="13" fill="#000"/>
<rect x="387" y="185" width="3" height="11" fill="#fff"/>
<rect x="396" y="152" width="1" height="22" fill="#000"/>
<rect x="394" y="155" width="5" height="19" fill="#000"/>
<rect x="395" y="156" width="3" height="17" fill="#fff"/>
<rect x="404" y="140" width="1" height="19" fill="#000"/>
<rect x="402" y="143" width="5" height="10" fill="#000"/>
<rect x="403" y="144" width="3" height="8" fill="#fff"/>
<rect x="412" y="138" width="1" height="16" fill="#000"/>
<rect x="410" y="140" width="5" height="11" fill="#000"/>
<rect x="420" y="134" width="1" height="20" fill="#000"/>
<rect x="418" y="143" width="5" height="5" fill="#000"/>
<rect x="419" y="144" width="3" height="3" fill="#fff"/>
<rect x="428" y="127" width="1" height="25" fill="#000"/>
<rect x="426" y="137" width="5" height="14" fill="#000"/>
<rect x="427" y="138" width="3" height="12" fill="#fff"/>
<rect x="436" y="146" width="1" height="20" fill="#000"/>
<rect x="434" y="146" width="5" height="20" fill="#000"/>
<rect x="444" y="150" width="1" height="17" fill="#000"/>
<rect x="442" y="155" width="5" height="7" fill="#000"/>
<rect x="443" y="156" width="3" height="5" fill="#fff"/>
<rect x="452" y="146" width="1" height="30" fill="#000"/>
<rect x="450" y="146" width="5" height="20" fill="#000"/>
<rect x="460" y="166" width="1" height="15" fill="#000"/>
<rect x="458" y="173" width="5" height="6" fill="#000"/>
<rect x="468" y="187" width="1" height="25" fill="#000"/>
<rect x="466" y="191" width="5" height="21" fill="#000"/>
<rect x="476" y="201" width="1" height="16" fill="#000"/>
<rect x="474" y="205" width="5" height="12" fill="#000"/>
<rect x="475" y="206" width="3" height="10" fill="#fff"/>
<rect x="484" y="211" width="1" height="27" fill="#000"/>
<rect x="482" y="217" width="5" height="21" fill="#000"/>
<rect x="483" y="218" width="3" height="19" fill="#fff"/>
<rect x="492" y="200" width="1" height="33" fill="#000"/>
<rect x="490" y="210" width="5" height="20" fill="#000"/>
<rect x="491" y="211" width="3" height="18" fill="#fff"/>
<rect x="500" y="234" width="1" height="24" fill="#000"/>
<rect x="498" y="242" width="5" height="2" fill="#000"/>
<rect x="508" y="230" width="1" height="28" fill="#000"/>
<rect x="506" y="235" width="5" height="21" fill="#000"/>
<rect x="507" y="236" width="3" height="19" fill="#fff"/>
<rect x="516" y="220" width="1" height="23" fill="#000"/>
<rect x="514" y="220" width="5" height="14" fill="#000"/>
<rect x="524" y="230" width="1" height="25" fill="#000"/>
<rect x="522" y="237" width="5" height="7" fill="#000"/>
<rect x="532" y="204" width="1" height="34" fill="#000"/>
<rect x="530" y="209" width="5" height="26" fill="#000"/>
<rect x="531" y="210" width="3" height="24" fill="#fff"/>
<rect x="540" y="227" width="1" height="25" fill="#000"/>
<rect x="538" y="230" width="5" height="22" fill="#000"/>
<rect x="548" y="297" width="1" height="30" fill="#000"/>
<rect x="546" y="306" width="5" height="19" fill="#000"/>
<rect x="556" y="279" width="1" height="40" fill="#000"/>
<rect x="554" y="287" width="5" height="19" fill="#000"/>
<rect x="555" y="288" width="3" height="17" fill="#fff"/>
<rect x="564" y="285" width="1" height="25" fill="#000"/>
<rect x="562" y="287" width="5" height="20" fill="#000"/>
<rect x="572" y="334" width="1" height="43" fill="#000"/>
<rect x="570" y="335" width="5" height="38" fill="#000"/>
<rect x="580" y="366" width="1" height="128" fill="#000"/>
<rect x="578" y="385" width="5" height="85" fill="#000"/>
<rect x="579" y="386" width="3" height="83" fill="#fff"/>
<rect x="588" y="405" width="1" height="55" fill="#000"/>
<rect x="586" y="435" width="5" height="22" fill="#000"/>
<rect x="596" y="414" width="1" height="52" fill="#000"/>
<rect x="594" y="437" width="5" height="16" fill="#000"/>
<rect x="595" y="438" width="3" height="14" fill="#fff"/>
<rect x="604" y="415" width="1" height="86" fill="#000"/>
<rect x="602" y="461" width="5" height="40" fill="#000"/>
<rect x="612" y="479" width="1" height="87" fill="#000"/>
<rect x="610" y="500" width="5" height="11" fill="#000"/>
<rect x="620" y="432" width="1" height="66" fill="#000"/>
<rect x="618" y="434" width="5" height="64" fill="#000"/>
<rect x="619" y="435" width="3" height="62" fill="#fff"/>
<rect x="628" y="497" width="1" height="47" fill="#000"/>
<rect x="626" y="532" width="5" height="12" fill="#000"/>
<rect x="627" y="533" width="3" height="10" fill="#fff"/>
<rect x="636" y="452" width="1" height="28" fill="#000"/>
<rect x="634" y="456" width="5" height="14" fill="#000"/>
<rect x="635" y="457" width="3" height="12" fill="#fff"/>
<rect x="644" y="399" width="1" height="39" fill="#000"/>
<rect x="642" y="401" width="5" height="23" fill="#000"/>
<rect x="643" y="402" width="3" height="21" fill="#fff"/>
<rect x="652" y="404" width="1" height="29" fill="#000"/>
<rect x="650" y="410" width="5" height="19" fill="#000"/>
<rect x="660" y="386" width="1" height="34" fill="#000"/>
<rect x="658" y="386" width="5" height="23" fill="#000"/>
<rect x="668" y="406" width="1" height="49" fill="#000"/>
<rect x="666" y="438" width="5" height="17" fill="#000"/>
<rect x="667" y="439" width="3" height="15" fill="#fff"/>
<rect x="676" y="392" width="1" height="34" fill="#000"/>
<rect x="674" y="395" width="5" height="12" fill="#000"/>
<rect x="675" y="396" width="3" height="10" fill="#fff"/>
<rect x="684" y="404" width="1" height="42" fill="#000"/>
<rect x="682" y="417" width="5" height="27" fill="#000"/>
<rect x="692" y="421" width="1" height="41" fill="#000"/>
<rect x="690" y="422" width="5" height="39" fill="#000"/>
<rect x="691" y="423" width="3" height="37" fill="#fff"/>
<rect x="700" y="423" width="1" height="16" fill="#000"/>
<rect x="698" y="426" width="5" height="10" fill="#000"/>
<rect x="699" y="427" width="3" height="8" fill="#fff"/>
<rect x="708" y="385" width="1" height="36" fill="#000"/>
<rect x="706" y="392" width="5" height="2" fill="#000"/>
<rect x="716" y="349" width="1" height="44" fill="#000"/>
<rect x="714" y="350" width="5" height="27" fill="#000"/>
<rect x="715" y="351" width="3" height="25" fill="#fff"/>
<rect x="724" y="363" width="1" height="29" fill="#000"/>
<rect x="722" y="373" width="5" height="19" fill="#000"/>
<rect x="732" y="355" width="1" height="21" fill="#000"/>
<rect x="730" y="363" width="5" height="2" fill="#000"/>
<rect x="740" y="339" width="1" height="23" fill="#000"/>
<rect x="738" y="351" width="5" height="9" fill="#000"/>
<rect x="739" y="352" width="3" height="7" fill="#fff"/>
<rect x="748" y="338" width="1" height="38" fill="#000"/>
<rect x="746" y="351" width="5" height="24" fill="#000"/>
<rect x="756" y="369" width="1" height="19" fill="#000"/>
<rect x="754" y="379" width="5" height="3" fill="#000"/>
<rect x="755" y="380" width="3" height="1" fill="#fff"/>
<rect x="764" y="334" width="1" height="27" fill="#000"/>
<rect x="762" y="345" width="5" height="10" fill="#000"/>
<rect x="772" y="347" width="1" height="19" fill="#000"/>
<rect x="770" y="358" width="5" height="2" fill="#000"/>
<rect x="780" y="361" width="1" height="39" fill="#000"/>
<rect x="778" y="366" width="5" height="28" fill="#000"/>
<rect x="788" y="381" width="1" height="31" fill="#000"/>
<rect x="786" y="385" width="5" height="24" fill="#000"/>
<rect x="787" y="386" width="3" height="22" fill="#fff"/>
<rect x="796" y="371" width="1" height="21" fill="#000"/>
<rect x="794" y="377" width="5" height="4" fill="#000"/>
<rect x="795" y="378" width="3" height="2" fill="#fff"/>
<rect x="804" y="388" width="1" height="16" fill="#000"/>
<rect x="802" y="393" width="5" height="2" fill="#000"/>
<rect x="812" y="362" width="1" height="21" fill="#000"/>
<rect x="810" y="365" width="5" height="18" fill="#000"/>
<rect x="811" y="366" width="3" height="16" fill="#fff"/>
<rect x="820" y="340" width="1" height="34" fill="#000"/>
<rect x="818" y="340" width="5" height="18" fill="#000"/>
<rect x="819" y="341" width="3" height="16" fill="#fff"/>
<rect x="828" y="328" width="1" height="22" fill="#000"/>
<rect x="826" y="339" width="5" height="7" fill="#000"/>
<rect x="836" y="393" width="1" height="27" fill="#000"/>
<rect x="834" y="396" width="5" height="20" fill="#000"/>
<rect x="844" y="389" width="1" height="18" fill="#000"/>
<rect x="842" y="391" width="5" height="11" fill="#000"/>
<rect x="843" y="392" width="3" height="9" fill="#fff"/>
<rect x="852" y="368" width="1" height="33" fill="#000"/>
<rect x="850" y="373" width="5" height="27" fill="#000"/>
<rect x="851" y="374" width="3" height="25" fill="#fff"/>
<rect x="860" y="378" width="1" height="13" fill="#000"/>
<rect x="858" y="382" width="5" height="4" fill="#000"/>
<rect x="868" y="365" width="1" height="12" fill="#000"/>
<rect x="866" y="369" width="5" height="3" fill="#000"/>
<rect x="867" y="370" width="3" height="1" fill="#fff"/>
<rect x="876" y="333" width="1" height="26" fill="#000"/>
<rect x="874" y="346" width="5" height="10" fill="#000"/>
<rect x="875" y="347" width="3" height="8" fill="#fff"/>
<rect x="884" y="357" width="1" height="20" fill="#000"/>
<rect x="882" y="362" width="5" height="6" fill="#000"/>
<rect x="892" y="361" width="1" height="24" fill="#000"/>
<rect x="890" y="372" width="5" height="9" fill="#000"/>
<rect x="891" y="373" width="3" height="7" fill="#fff"/>
<rect x="900" y="378" width="1" height="22" fill="#000"/>
<rect x="898" y="380" width="5" height="17" fill="#000"/>
<rect x="908" y="382" width="1" height="23" fill="#000"/>
<rect x="906" y="390" width="5" height="8" fill="#000"/>
<rect x="916" y="380" width="1" height="22" fill="#000"/>
<rect x="914" y="381" width="5" height="21" fill="#000"/>
<rect x="915" y="382" width="3" height="19" fill="#fff"/>
<rect x="924" y="343" width="1" height="19" fill="#000"/>
<rect x="922" y="355" width="5" height="4" fill="#000"/>
<rect x="923" y="356" width="3" height="2" fill="#fff"/>
<rect x="932" y="346" width="1" height="15" fill="#000"/>
<rect x="930" y="349" width="5" height="9" fill="#000"/>
<rect x="931" y="350" width="3" height="7" fill="#fff"/>
<rect x="940" y="347" width="1" height="23" fill="#000"/>
<rect x="938" y="353" width="5" height="16" fill="#000"/>
<rect x="948" y="395" width="1" height="63" fill="#000"/>
<rect x="946" y="395" width="5" height="63" fill="#000"/>
<rect x="956" y="442" width="1" height="28" fill="#000"/>
<rect x="954" y="446" width="5" height="6" fill="#000"/>
<rect x="955" y="447" width="3" height="4" fill="#fff"/>
<rect x="964" y="409" width="1" height="22" fill="#000"/>
<rect x="962" y="417" width="5" height="14" fill="#000"/>
<rect x="963" y="418" width="3" height="12" fill="#fff"/>
<rect x="972" y="420" width="1" height="25" fill="#000"/>
<rect x="970" y="426" width="5" height="14" fill="#000"/>
<rect x="980" y="424" width="1" height="44" fill="#000"/>
<rect x="978" y="442" width="5" height="4" fill="#000"/>
<rect x="988" y="446" width="1" height="31" fill="#000"/>
<rect x="986" y="453" width="5" height="9" fill="#000"/>
<rect x="987" y="454" width="3" height="7" fill="#fff"/>
<rect x="996" y="397" width="1" height="32" fill="#000"/>
<rect x="994" y="412" width="5" height="17" fill="#000"/>
<rect x="995" y="413" width="3" height="15" fill="#fff"/>
<rect x="1004" y="379" width="1" height="28" fill="#000"/>
<rect x="1002" y="380" width="5" height="21" fill="#000"/>
<rect x="1003" y="381" width="3" height="19" fill="#fff"/>
<rect x="1012" y="354" width="1" height="18" fill="#000"/>
<rect x="1010" y="354" width="5" height="9" fill="#000"/>
<rect x="1020" y="341" width="1" height="29" fill="#000"/>
<rect x="1018" y="343" width="5" height="16" fill="#000"/>
<rect x="1028" y="328" width="1" height="39" fill="#000"/>
<rect x="1026" y="333" width="5" height="29" fill="#000"/>
<rect x="1027" y="334" width="3" height="27" fill="#fff"/>
<rect x="1036" y="315" width="1" height="26" fill="#000"/>
<rect x="1034" y="318" width="5" height="13" fill="#000"/>
<rect x="1044" y="303" width="1" height="29" fill="#000"/>
<rect x="1042" y="323" width="5" height="6" fill="#000"/>
<rect x="1043" y="324" width="3" height="4" fill="#fff"/>
<rect x="1052" y="299" width="1" height="23" fill="#000"/>
<rect x="1050" y="313" width="5" height="2" fill="#000"/>
<rect x="1060" y="314" width="1" height="43" fill="#000"/>
<rect x="1058" y="320" width="5" height="35" fill="#000"/>
<rect x="1068" y="363" width="1" height="27" fill="#000"/>
<rect x="1066" y="363" width="5" height="22" fill="#000"/>
<rect x="1067" y="364" width="3" height="20" fill="#fff"/>
<rect x="1076" y="366" width="1" height="39" fill="#000"/>
<rect x="1074" y="383" width="5" height="13" fill="#000"/>
<rect x="1084" y="347" width="1" height="17" fill="#000"/>
<rect x="1082" y="354" width="5" height="1" fill="#000"/>
<rect x="1092" y="347" width="1" height="25" fill="#000"/>
<rect x="1090" y="351" width="5" height="7" fill="#000"/>
<rect x="1091" y="352" width="3" height="5" fill="#fff"/>
<rect x="1100" y="349" width="1" height="27" fill="#000"/>
<rect x="1098" y="355" width="5" height="6" fill="#000"/>
<rect x="1099" y="356" width="3" height="4" fill="#fff"/>
<rect x="1108" y="331" width="1" height="32" fill="#000"/>
<rect x="1106" y="338" width="5" height="21" fill="#000"/>
<rect x="1107" y="339" width="3" height="19" fill="#fff"/>
<rect x="1116" y="338" width="1" height="17" fill="#000"/>
<rect x="1114" y="348" width="5" height="7" fill="#000"/>
<rect x="1115" y="349" width="3" height="5" fill="#fff"/>
<rect x="1124" y="315" width="1" height="54" fill="#000"/>
<rect x="1122" y="317" width="5" height="20" fill="#000"/>
<rect x="1123" y="318" width="3" height="18" fill="#fff"/>
<rect x="1132" y="317" width="1" height="32" fill="#000"/>
<rect x="1130" y="321" width="5" height="24" fill="#000"/>
<rect x="1140" y="340" width="1" height="20" fill="#000"/>
<rect x="1138" y="355" width="5" height="5" fill="#000"/>
<rect x="1139" y="356" width="3" height="3" fill="#fff"/>
<rect x="1148" y="350" width="1" height="32" fill="#000"/>
<rect x="1146" y="360" width="5" height="14" fill="#000"/>
<rect x="1156" y="351" width="1" height="23" fill="#000"/>
<rect x="1154" y="354" width="5" height="8" fill="#000"/>
<rect x="1164" y="306" width="1" height="48" fill="#000"/>
<rect x="1162" y="306" width="5" height="43" fill="#000"/>
<rect x="1163" y="307" width="3" height="41" fill="#fff"/>
<rect x="1172" y="288" width="1" height="23" fill="#000"/>
<rect x="1170" y="296" width="5" height="15" fill="#000"/>
<rect x="1171" y="297" width="3" height="13" fill="#fff"/>
<rect x="1180" y="225" width="1" height="59" fill="#000"/>
<rect x="1178" y="231" width="5" height="53" fill="#000"/>
<rect x="1179" y="232" width="3" height="51" fill="#fff"/>
<rect x="1188" y="203" width="1" height="54" fill="#000"/>
<rect x="1186" y="213" width="5" height="42" fill="#000"/>
<rect x="1196" y="232" width="1" height="29" fill="#000"/>
<rect x="1194" y="245" width="5" height="5" fill="#000"/>
<rect x="1204" y="228" width="1" height="25" fill="#000"/>
<rect x="1202" y="235" width="5" height="3" fill="#000"/>
<rect x="1212" y="242" width="1" height="39" fill="#000"/>
<rect x="1210" y="251" width="5" height="21" fill="#000"/>
<rect x="1220" y="245" width="1" height="26" fill="#000"/>
<rect x="1218" y="262" width="5" height="7" fill="#000"/>
<rect x="1228" y="272" width="1" height="27" fill="#000"/>
<rect x="1226" y="274" width="5" height="8" fill="#000"/>
<rect x="1236" y="259" width="1" height="37" fill="#000"/>
<rect x="1234" y="266" width="5" height="19" fill="#000"/>
<rect x="1244" y="276" width="1" height="45" fill="#000"/>
<rect x="1242" y="279" width="5" height="42" fill="#000"/>
<rect x="1252" y="298" width="1" height="17" fill="#000"/>
<rect x="1250" y="304" width="5" height="2" fill="#000"/>
<rect x="1260" y="301" width="1" height="31" fill="#000"/>
<rect x="1258" y="313" width="5" height="2" fill="#000"/>
<rect x="1268" y="275" width="1" height="19" fill="#000"/>
<rect x="1266" y="276" width="5" height="15" fill="#000"/>
<rect x="1267" y="277" width="3" height="13" fill="#fff"/>
<rect x="1276" y="265" width="1" height="50" fill="#000"/>
<rect x="1274" y="281" width="5" height="28" fill="#000"/>
<rect x="1284" y="294" width="1" height="23" fill="#000"/>
<rect x="1282" y="300" width="5" height="7" fill="#000"/>
<rect x="1283" y="301" width="3" height="5" fill="#fff"/>
<rect x="1292" y="308" width="1" height="34" fill="#000"/>
<rect x="1290" y="314" width="5" height="21" fill="#000"/>
<rect x="1300" y="316" width="1" height="28" fill="#000"/>
<rect x="1298" y="320" width="5" height="18" fill="#000"/>
<rect x="1308" y="315" width="1" height="22" fill="#000"/>
<rect x="1306" y="318" width="5" height="13" fill="#000"/>
<rect x="1316" y="321" width="1" height="16" fill="#000"/>
<rect x="1314" y="324" width="5" height="8" fill="#000"/>
<rect x="1315" y="325" width="3" height="6" fill="#fff"/>
<rect x="1324" y="303" width="1" height="41" fill="#000"/>
<rect x="1322" y="320" width="5" height="18" fill="#000"/>
<rect x="1332" y="325" width="1" height="22" fill="#000"/>
<rect x="1330" y="331" width="5" height="12" fill="#000"/>
<rect x="1340" y="339" width="1" height="27" fill="#000"/>
<rect x="1338" y="341" width="5" height="13" fill="#000"/>
<rect x="1348" y="310" width="1" height="37" fill="#000"/>
<rect x="1346" y="320" width="5" height="19" fill="#000"/>
<rect x="1347" y="321" width="3" height="17" fill="#fff"/>
<rect x="1356" y="304" width="1" height="21" fill="#000"/>
<rect x="1354" y="311" width="5" height="13" fill="#000"/>
<rect x="1355" y="312" width="3" height="11" fill="#fff"/>
<rect x="1364" y="300" width="1" height="40" fill="#000"/>
<rect x="1362" y="307" width="5" height="20" fill="#000"/>
<rect x="1372" y="318" width="1" height="49" fill="#000"/>
<rect x="1370" y="325" width="5" height="28" fill="#000"/>
<rect x="1380" y="351" width="1" height="14" fill="#000"/>
<rect x="1378" y="351" width="5" height="14" fill="#000"/>
<rect x="1379" y="352" width="3" height="12" fill="#fff"/>
<rect x="1388" y="312" width="1" height="32" fill="#000"/>
<rect x="1386" y="322" width="5" height="22" fill="#000"/>
<rect x="1387" y="323" width="3" height="20" fill="#fff"/>
<rect x="1396" y="296" width="1" height="41" fill="#000"/>
<rect x="1394" y="300" width="5" height="28" fill="#000"/>
<rect x="1395" y="301" width="3" height="26" fill="#fff"/>
<rect x="1404" y="286" width="1" height="21" fill="#000"/>
<rect x="1402" y="290" width="5" height="17" fill="#000"/>
<rect x="1412" y="295" width="1" height="18" fill="#000"/>
<rect x="1410" y="306" width="5" height="5" fill="#000"/>
<rect x="1420" y="287" width="1" height="19" fill="#000"/>
<rect x="1418" y="296" width="5" height="7" fill="#000"/>
<rect x="1419" y="297" width="3" height="5" fill="#fff"/>
<rect x="1428" y="287" width="1" height="15" fill="#000"/>
<rect x="1426" y="291" width="5" height="3" fill="#000"/>
<rect x="1436" y="293" width="1" height="14" fill="#000"/>
<rect x="1434" y="301" width="5" height="6" fill="#000"/>
<rect x="1444" y="316" width="1" height="27" fill="#000"/>
<rect x="1442" y="316" width="5" height="18" fill="#000"/>
<rect x="1452" y="303" width="1" height="23" fill="#000"/>
<rect x="1450" y="310" width="5" height="12" fill="#000"/>
<rect x="1451" y="311" width="3" height="10" fill="#fff"/>
<rect x="1684" y="266" width="5" height="5" fill="#ff0000"/>
<rect x="1685" y="267" width="3" height="3" fill="#fff"/>
<rect x="-4" y="266" width="5" height="5" fill="#ff0000"/>
<rect x="-3" y="267" width="3" height="3" fill="#fff"/>
<rect x="1684" y="286" width="5" height="5" fill="#ff0000"/>
<rect x="1685" y="287" width="3" height="3" fill="#fff"/>
<rect x="-4" y="286" width="5" height="5" fill="#ff0000"/>
<rect x="-3" y="287" width="3" height="3" fill="#fff"/>
<rect x="1684" y="338" width="5" height="5" fill="#0000ff"/>
<rect x="1685" y="339" width="3" height="3" fill="#fff"/>
<rect x="-4" y="338" width="5" height="5" fill="#0000ff"/>
<rect x="-3" y="339" width="3" height="3" fill="#fff"/>
<rect x="1684" y="364" width="5" height="5" fill="#0000ff"/>
<rect x="1685" y="365" width="3" height="3" fill="#fff"/>
<rect x="-4" y="364" width="5" height="5" fill="#0000ff"/>
<rect x="-3" y="365" width="3" height="3" fill="#fff"/>
</g><g clip-path="url(#cMacd)">
<rect x="4" y="631" width="1" height="1" fill="#c0c0c0"/>
<rect x="12" y="631" width="1" height="1" fill="#c0c0c0"/>
<rect x="20" y="631" width="1" height="3" fill="#c0c0c0"/>
<rect x="28" y="631" width="1" height="5" fill="#c0c0c0"/>
<rect x="36" y="631" width="1" height="7" fill="#c0c0c0"/>
<rect x="44" y="631" width="1" height="10" fill="#c0c0c0"/>
<rect x="52" y="631" width="1" height="12" fill="#c0c0c0"/>
<rect x="60" y="631" width="1" height="12" fill="#c0c0c0"/>
<rect x="68" y="631" width="1" height="11" fill="#c0c0c0"/>
<rect x="76" y="631" width="1" height="12" fill="#c0c0c0"/>
<rect x="84" y="631" width="1" height="10" fill="#c0c0c0"/>
<rect x="92" y="631" width="1" height="7" fill="#c0c0c0"/>
<rect x="100" y="629" width="1" height="3" fill="#c0c0c0"/>
<rect x="108" y="624" width="1" height="8" fill="#c0c0c0"/>
<rect x="116" y="618" width="1" height="14" fill="#c0c0c0"/>
<rect x="124" y="614" width="1" height="18" fill="#c0c0c0"/>
<rect x="132" y="611" width="1" height="21" fill="#c0c0c0"/>
<rect x="140" y="608" width="1" height="24" fill="#c0c0c0"/>
<rect x="148" y="607" width="1" height="25" fill="#c0c0c0"/>
<rect x="156" y="605" width="1" height="27" fill="#c0c0c0"/>
<rect x="164" y="602" width="1" height="30" fill="#c0c0c0"/>
<rect x="172" y="599" width="1" height="33" fill="#c0c0c0"/>
<rect x="180" y="598" width="1" height="34" fill="#c0c0c0"/>
<rect x="188" y="595" width="1" height="37" fill="#c0c0c0"/>
<rect x="196" y="595" width="1" height="37" fill="#c0c0c0"/>
<rect x="204" y="597" width="1" height="35" fill="#c0c0c0"/>
<rect x="212" y="597" width="1" height="35" fill="#c0c0c0"/>
<rect x="220" y="600" width="1" height="32" fill="#c0c0c0"/>
<rect x="228" y="599" width="1" height="33" fill="#c0c0c0"/>
<rect x="236" y="598" width="1" height="34" fill="#c0c0c0"/>
<rect x="244" y="596" width="1" height="36" fill="#c0c0c0"/>
<rect x="252" y="596" width="1" height="36" fill="#c0c0c0"/>
<rect x="260" y="596" width="1" height="36" fill="#c0c0c0"/>
<rect x="268" y="596" width="1" height="36" fill="#c0c0c0"/>
<rect x="276" y="595" width="1" height="37" fill="#c0c0c0"/>
<rect x="284" y="598" width="1" height="34" fill="#c0c0c0"/>
<rect x="292" y="605" width="1" height="27" fill="#c0c0c0"/>
<rect x="300" y="608" width="1" height="24" fill="#c0c0c0"/>
<rect x="308" y="615" width="1" height="17" fill="#c0c0c0"/>
<rect x="316" y="619" width="1" height="13" fill="#c0c0c0"/>
<rect x="324" y="628" width="1" height="4" fill="#c0c0c0"/>
<rect x="332" y="631" width="1" height="10" fill="#c0c0c0"/>
<rect x="340" y="631" width="1" height="20" fill="#c0c0c0"/>
<rect x="348" y="631" width="1" height="28" fill="#c0c0c0"/>
<rect x="356" y="631" width="1" height="30" fill="#c0c0c0"/>
<rect x="364" y="631" width="1" height="32" fill="#c0c0c0"/>
<rect x="372" y="631" width="1" height="28" fill="#c0c0c0"/>
<rect x="380" y="631" width="1" height="26" fill="#c0c0c0"/>
<rect x="388" y="631" width="1" height="25" fill="#c0c0c0"/>
<rect x="396" y="631" width="1" height="21" fill="#c0c0c0"/>
<rect x="404" y="631" width="1" height="17" fill="#c0c0c0"/>
<rect x="412" y="631" width="1" height="13" fill="#c0c0c0"/>
<rect x="420" y="631" width="1" height="10" fill="#c0c0c0"/>
<rect x="428" y="631" width="1" height="7" fill="#c0c0c0"/>
<rect x="436" y="631" width="1" height="7" fill="#c0c0c0"/>
<rect x="444" y="631" width="1" height="6" fill="#c0c0c0"/>
<rect x="452" y="631" width="1" height="7" fill="#c0c0c0"/>
<rect x="460" y="631" width="1" height="8" fill="#c0c0c0"/>
<rect x="468" y="631" width="1" height="13" fill="#c0c0c0"/>
<rect x="476" y="631" width="1" height="16" fill="#c0c0c0"/>
<rect x="484" y="631" width="1" height="19" fill="#c0c0c0"/>
<rect x="492" y="631" width="1" height="21" fill="#c0c0c0"/>
<rect x="500" y="631" width="1" height="26" fill="#c0c0c0"/>
<rect x="508" y="631" width="1" height="28" fill="#c0c0c0"/>
<rect x="516" y="631" width="1" height="29" fill="#c0c0c0"/>
<rect x="524" y="631" width="1" height="31" fill="#c0c0c0"/>
<rect x="532" y="631" width="1" height="29" fill="#c0c0c0"/>
<rect x="540" y="631" width="1" height="31" fill="#c0c0c0"/>
<rect x="548" y="631" width="1" height="40" fill="#c0c0c0"/>
<rect x="556" y="631" width="1" height="43" fill="#c0c0c0"/>
<rect x="564" y="631" width="1" height="47" fill="#c0c0c0"/>
<rect x="572" y="631" width="1" height="56" fill="#c0c0c0"/>
<rect x="580" y="631" width="1" height="65" fill="#c0c0c0"/>
<rect x="588" y="631" width="1" height="78" fill="#c0c0c0"/>
<rect x="596" y="631" width="1" height="85" fill="#c0c0c0"/>
<rect x="604" y="631" width="1" height="97" fill="#c0c0c0"/>
<rect x="612" y="631" width="1" height="106" fill="#c0c0c0"/>
<rect x="620" y="631" width="1" height="104" fill="#c0c0c0"/>
<rect x="628" y="631" width="1" height="112" fill="#c0c0c0"/>
<rect x="636" y="631" width="1" height="108" fill="#c0c0c0"/>
<rect x="644" y="631" width="1" height="98" fill="#c0c0c0"/>
<rect x="652" y="631" width="1" height="93" fill="#c0c0c0"/>
<rect x="660" y="631" width="1" height="85" fill="#c0c0c0"/>
<rect x="668" y="631" width="1" height="81" fill="#c0c0c0"/>
<rect x="676" y="631" width="1" height="72" fill="#c0c0c0"/>
<rect x="684" y="631" width="1" height="70" fill="#c0c0c0"/>
<rect x="692" y="631" width="1" height="65" fill="#c0c0c0"/>
<rect x="700" y="631" width="1" height="61" fill="#c0c0c0"/>
<rect x="708" y="631" width="1" height="54" fill="#c0c0c0"/>
<rect x="716" y="631" width="1" height="43" fill="#c0c0c0"/>
<rect x="724" y="631" width="1" height="38" fill="#c0c0c0"/>
<rect x="732" y="631" width="1" height="31" fill="#c0c0c0"/>
<rect x="740" y="631" width="1" height="24" fill="#c0c0c0"/>
<rect x="748" y="631" width="1" height="20" fill="#c0c0c0"/>
<rect x="756" y="631" width="1" height="18" fill="#c0c0c0"/>
<rect x="764" y="631" width="1" height="13" fill="#c0c0c0"/>
<rect x="772" y="631" width="1" height="10" fill="#c0c0c0"/>
<rect x="780" y="631" width="1" height="11" fill="#c0c0c0"/>
<rect x="788" y="631" width="1" height="11" fill="#c0c0c0"/>
<rect x="796" y="631" width="1" height="10" fill="#c0c0c0"/>
<rect x="804" y="631" width="1" height="10" fill="#c0c0c0"/>
<rect x="812" y="631" width="1" height="8" fill="#c0c0c0"/>
<rect x="820" y="631" width="1" height="3" fill="#c0c0c0"/>
<rect x="828" y="630" width="1" height="2" fill="#c0c0c0"/>
<rect x="836" y="631" width="1" height="5" fill="#c0c0c0"/>
<rect x="844" y="631" width="1" height="6" fill="#c0c0c0"/>
<rect x="852" y="631" width="1" height="5" fill="#c0c0c0"/>
<rect x="860" y="631" width="1" height="6" fill="#c0c0c0"/>
<rect x="868" y="631" width="1" height="4" fill="#c0c0c0"/>
<rect x="876" y="631" width="1" height="1" fill="#c0c0c0"/>
<rect x="884" y="630" width="1" height="2" fill="#c0c0c0"/>
<rect x="892" y="631" width="1" height="1" fill="#c0c0c0"/>
<rect x="900" y="631" width="1" height="3" fill="#c0c0c0"/>
<rect x="908" y="631" width="1" height="5" fill="#c0c0c0"/>
<rect x="916" y="631" width="1" height="5" fill="#c0c0c0"/>
<rect x="924" y="631" width="1" height="2" fill="#c0c0c0"/>
<rect x="932" y="630" width="1" height="2" fill="#c0c0c0"/>
<rect x="940" y="629" width="1" height="3" fill="#c0c0c0"/>
<rect x="948" y="631" width="1" height="9" fill="#c0c0c0"/>
<rect x="956" y="631" width="1" height="15" fill="#c0c0c0"/>
<rect x="964" y="631" width="1" height="16" fill="#c0c0c0"/>
<rect x="972" y="631" width="1" height="20" fill="#c0c0c0"/>
<rect x="980" y="631" width="1" height="23" fill="#c0c0c0"/>
<rect x="988" y="631" width="1" height="26" fill="#c0c0c0"/>
<rect x="996" y="631" width="1" height="24" fill="#c0c0c0"/>
<rect x="1004" y="631" width="1" height="18" fill="#c0c0c0"/>
<rect x="1012" y="631" width="1" height="12" fill="#c0c0c0"/>
<rect x="1020" y="631" width="1" height="6" fill="#c0c0c0"/>
<rect x="1028" y="629" width="1" height="3" fill="#c0c0c0"/>
<rect x="1036" y="623" width="1" height="9" fill="#c0c0c0"/>
<rect x="1044" y="618" width="1" height="14" fill="#c0c0c0"/>
<rect x="1052" y="613" width="1" height="19" fill="#c0c0c0"/>
<rect x="1060" y="614" width="1" height="18" fill="#c0c0c0"/>
<rect x="1068" y="615" width="1" height="17" fill="#c0c0c0"/>
<rect x="1076" y="620" width="1" height="12" fill="#c0c0c0"/>
<rect x="1084" y="620" width="1" height="12" fill="#c0c0c0"/>
<rect x="1092" y="619" width="1" height="13" fill="#c0c0c0"/>
<rect x="1100" y="620" width="1" height="12" fill="#c0c0c0"/>
<rect x="1108" y="618" width="1" height="14" fill="#c0c0c0"/>
<rect x="1116" y="618" width="1" height="14" fill="#c0c0c0"/>
<rect x="1124" y="615" width="1" height="17" fill="#c0c0c0"/>
<rect x="1132" y="616" width="1" height="16" fill="#c0c0c0"/>
<rect x="1140" y="617" width="1" height="15" fill="#c0c0c0"/>
<rect x="1148" y="621" width="1" height="11" fill="#c0c0c0"/>
<rect x="1156" y="622" width="1" height="10" fill="#c0c0c0"/>
<rect x="1164" y="618" width="1" height="14" fill="#c0c0c0"/>
<rect x="1172" y="614" width="1" height="18" fill="#c0c0c0"/>
<rect x="1180" y="603" width="1" height="29" fill="#c0c0c0"/>
<rect x="1188" y="598" width="1" height="34" fill="#c0c0c0"/>
<rect x="1196" y="594" width="1" height="38" fill="#c0c0c0"/>
<rect x="1204" y="590" width="1" height="42" fill="#c0c0c0"/>
<rect x="1212" y="590" width="1" height="42" fill="#c0c0c0"/>
<rect x="1220" y="591" width="1" height="41" fill="#c0c0c0"/>
<rect x="1228" y="594" width="1" height="38" fill="#c0c0c0"/>
<rect x="1236" y="596" width="1" height="36" fill="#c0c0c0"/>
<rect x="1244" y="603" width="1" height="29" fill="#c0c0c0"/>
<rect x="1252" y="606" width="1" height="26" fill="#c0c0c0"/>
<rect x="1260" y="611" width="1" height="21" fill="#c0c0c0"/>
<rect x="1268" y="610" width="1" height="22" fill="#c0c0c0"/>
<rect x="1276" y="613" width="1" height="19" fill="#c0c0c0"/>
<rect x="1284" y="615" width="1" height="17" fill="#c0c0c0"/>
<rect x="1292" y="620" width="1" height="12" fill="#c0c0c0"/>
<rect x="1300" y="625" width="1" height="7" fill="#c0c0c0"/>
<rect x="1308" y="628" width="1" height="4" fill="#c0c0c0"/>
<rect x="1316" y="630" width="1" height="2" fill="#c0c0c0"/>
<rect x="1324" y="631" width="1" height="2" fill="#c0c0c0"/>
<rect x="1332" y="631" width="1" height="5" fill="#c0c0c0"/>
<rect x="1340" y="631" width="1" height="8" fill="#c0c0c0"/>
<rect x="1348" y="631" width="1" height="7" fill="#c0c0c0"/>
<rect x="1356" y="631" width="1" height="5" fill="#c0c0c0"/>
<rect x="1364" y="631" width="1" height="5" fill="#c0c0c0"/>
<rect x="1372" y="631" width="1" height="8" fill="#c0c0c0"/>
<rect x="1380" y="631" width="1" height="10" fill="#c0c0c0"/>
<rect x="1388" y="631" width="1" height="9" fill="#c0c0c0"/>
<rect x="1396" y="631" width="1" height="5" fill="#c0c0c0"/>
<rect x="1404" y="631" width="1" height="3" fill="#c0c0c0"/>
<rect x="1412" y="631" width="1" height="1" fill="#c0c0c0"/>
<rect x="1420" y="629" width="1" height="3" fill="#c0c0c0"/>
<rect x="1428" y="626" width="1" height="6" fill="#c0c0c0"/>
<rect x="1436" y="626" width="1" height="6" fill="#c0c0c0"/>
<rect x="1444" y="629" width="1" height="3" fill="#c0c0c0"/>
<rect x="1452" y="628" width="1" height="4" fill="#c0c0c0"/>
<path d="M1240 595h1v1h-1zM1244 595h3v1h-3zM1250 595h3v1h-3zM1238 596h2v1h-2zM1256 596h2v1h-2zM224 597h3v1h-3zM230 597h3v1h-3zM236 597h3v1h-3zM242 597h3v1h-3zM248 597h3v1h-3zM254 597h3v1h-3zM260 597h3v1h-3zM266 597h3v1h-3zM272 597h3v1h-3zM278 597h3v1h-3zM284 597h3v1h-3zM290 597h3v1h-3zM1232 597h3v1h-3zM1258 597h1v1h-1zM218 598h3v1h-3zM296 598h3v1h-3zM1262 598h3v1h-3zM208 599h1v1h-1zM212 599h3v1h-3zM302 599h3v1h-3zM1227 599h2v1h-2zM1268 599h2v1h-2zM202 600h1v1h-1zM206 600h2v1h-2zM308 600h2v1h-2zM1226 600h1v1h-1zM1270 600h1v1h-1zM200 601h2v1h-2zM310 601h1v1h-1zM1222 601h1v1h-1zM1274 601h3v1h-3zM194 602h3v1h-3zM314 602h1v1h-1zM1220 602h2v1h-2zM190 603h1v1h-1zM315 603h2v1h-2zM1216 603h1v1h-1zM1280 603h3v1h-3zM188 604h2v1h-2zM1214 604h2v1h-2zM182 605h3v1h-3zM320 605h3v1h-3zM1286 605h2v1h-2zM1208 606h3v1h-3zM1288 606h1v1h-1zM176 607h3v1h-3zM326 607h1v1h-1zM1292 607h1v1h-1zM327 608h1v1h-1zM1203 608h2v1h-2zM1293 608h2v1h-2zM171 609h2v1h-2zM328 609h1v1h-1zM1202 609h1v1h-1zM170 610h1v1h-1zM1198 610h1v1h-1zM1298 610h1v1h-1zM332 611h1v1h-1zM1196 611h2v1h-2zM1299 611h2v1h-2zM165 612h2v1h-2zM333 612h1v1h-1zM1190 612h3v1h-3zM164 613h1v1h-1zM334 613h1v1h-1zM1304 613h3v1h-3zM1184 614h3v1h-3zM159 615h2v1h-2zM1310 615h2v1h-2zM158 616h1v1h-1zM338 616h2v1h-2zM1178 616h3v1h-3zM1312 616h1v1h-1zM340 617h1v1h-1zM1106 617h3v1h-3zM1112 617h3v1h-3zM1118 617h3v1h-3zM1124 617h3v1h-3zM1130 617h3v1h-3zM1168 617h1v1h-1zM1172 617h3v1h-3zM1316 617h2v1h-2zM152 618h3v1h-3zM1096 618h1v1h-1zM1100 618h3v1h-3zM1136 618h3v1h-3zM1142 618h3v1h-3zM1148 618h3v1h-3zM1154 618h3v1h-3zM1160 618h3v1h-3zM1166 618h2v1h-2zM1318 618h1v1h-1zM1090 619h1v1h-1zM1094 619h2v1h-2zM1322 619h1v1h-1zM147 620h2v1h-2zM1088 620h2v1h-2zM1323 620h2v1h-2zM146 621h1v1h-1zM344 621h2v1h-2zM1082 621h3v1h-3zM346 622h1v1h-1zM1078 622h1v1h-1zM1328 622h3v1h-3zM141 623h2v1h-2zM1076 623h2v1h-2zM140 624h1v1h-1zM1072 624h1v1h-1zM1334 624h2v1h-2zM1070 625h2v1h-2zM1336 625h1v1h-1zM135 626h2v1h-2zM350 626h1v1h-1zM1340 626h2v1h-2zM134 627h1v1h-1zM351 627h1v1h-1zM1065 627h2v1h-2zM1342 627h1v1h-1zM352 628h1v1h-1zM1064 628h1v1h-1zM1346 628h1v1h-1zM2 629h3v1h-3zM8 629h3v1h-3zM14 629h3v1h-3zM20 629h3v1h-3zM128 629h3v1h-3zM1347 629h2v1h-2zM-4 630h3v1h-3zM26 630h3v1h-3zM1060 630h1v1h-1zM1352 630h2v1h-2zM1448 630h3v1h-3zM32 631h3v1h-3zM38 631h2v1h-2zM122 631h3v1h-3zM356 631h1v1h-1zM938 631h3v1h-3zM1058 631h2v1h-2zM1354 631h1v1h-1zM1358 631h2v1h-2zM1442 631h3v1h-3zM40 632h1v1h-1zM44 632h2v1h-2zM118 632h1v1h-1zM357 632h1v1h-1zM928 632h1v1h-1zM932 632h3v1h-3zM944 632h3v1h-3zM1360 632h1v1h-1zM1364 632h2v1h-2zM1438 632h1v1h-1zM46 633h1v1h-1zM116 633h2v1h-2zM358 633h1v1h-1zM880 633h1v1h-1zM884 633h3v1h-3zM890 633h3v1h-3zM896 633h3v1h-3zM902 633h3v1h-3zM908 633h3v1h-3zM914 633h3v1h-3zM920 633h3v1h-3zM926 633h2v1h-2zM950 633h3v1h-3zM1366 633h1v1h-1zM1432 633h1v1h-1zM1436 633h2v1h-2zM50 634h3v1h-3zM56 634h3v1h-3zM62 634h2v1h-2zM112 634h1v1h-1zM872 634h3v1h-3zM878 634h2v1h-2zM956 634h2v1h-2zM1053 634h2v1h-2zM1370 634h3v1h-3zM1424 634h3v1h-3zM1430 634h2v1h-2zM64 635h1v1h-1zM68 635h2v1h-2zM110 635h2v1h-2zM856 635h1v1h-1zM860 635h3v1h-3zM866 635h3v1h-3zM958 635h1v1h-1zM1052 635h1v1h-1zM1376 635h3v1h-3zM1382 635h2v1h-2zM1418 635h3v1h-3zM70 636h1v1h-1zM104 636h3v1h-3zM362 636h1v1h-1zM848 636h3v1h-3zM854 636h2v1h-2zM962 636h3v1h-3zM1384 636h1v1h-1zM1388 636h3v1h-3zM1400 636h3v1h-3zM1406 636h3v1h-3zM1412 636h3v1h-3zM74 637h3v1h-3zM98 637h3v1h-3zM363 637h1v1h-1zM832 637h1v1h-1zM836 637h3v1h-3zM842 637h3v1h-3zM968 637h3v1h-3zM1047 637h2v1h-2zM1394 637h3v1h-3zM80 638h2v1h-2zM94 638h1v1h-1zM364 638h1v1h-1zM826 638h1v1h-1zM830 638h2v1h-2zM974 638h3v1h-3zM1046 638h1v1h-1zM82 639h1v1h-1zM86 639h3v1h-3zM92 639h2v1h-2zM464 639h3v1h-3zM470 639h3v1h-3zM476 639h3v1h-3zM824 639h2v1h-2zM980 639h2v1h-2zM458 640h3v1h-3zM482 640h3v1h-3zM818 640h3v1h-3zM982 640h1v1h-1zM1041 640h2v1h-2zM368 641h2v1h-2zM454 641h1v1h-1zM488 641h3v1h-3zM814 641h1v1h-1zM986 641h1v1h-1zM1040 641h1v1h-1zM370 642h1v1h-1zM452 642h2v1h-2zM494 642h3v1h-3zM812 642h2v1h-2zM987 642h2v1h-2zM446 643h3v1h-3zM500 643h2v1h-2zM806 643h3v1h-3zM992 643h2v1h-2zM1034 643h3v1h-3zM374 644h1v1h-1zM502 644h1v1h-1zM802 644h1v1h-1zM994 644h1v1h-1zM1030 644h1v1h-1zM375 645h1v1h-1zM440 645h3v1h-3zM506 645h3v1h-3zM800 645h2v1h-2zM998 645h3v1h-3zM1028 645h2v1h-2zM376 646h1v1h-1zM795 646h2v1h-2zM1004 646h3v1h-3zM1022 646h3v1h-3zM434 647h3v1h-3zM512 647h3v1h-3zM794 647h1v1h-1zM1010 647h3v1h-3zM1016 647h3v1h-3zM380 648h1v1h-1zM430 648h1v1h-1zM790 648h1v1h-1zM381 649h2v1h-2zM428 649h2v1h-2zM518 649h2v1h-2zM788 649h2v1h-2zM424 650h1v1h-1zM520 650h1v1h-1zM386 651h1v1h-1zM422 651h2v1h-2zM524 651h2v1h-2zM783 651h2v1h-2zM387 652h2v1h-2zM418 652h1v1h-1zM526 652h1v1h-1zM782 652h1v1h-1zM392 653h2v1h-2zM416 653h2v1h-2zM530 653h3v1h-3zM394 654h1v1h-1zM398 654h2v1h-2zM410 654h3v1h-3zM536 654h2v1h-2zM777 654h2v1h-2zM400 655h1v1h-1zM404 655h3v1h-3zM538 655h1v1h-1zM776 655h1v1h-1zM542 656h2v1h-2zM544 657h1v1h-1zM772 657h1v1h-1zM548 658h2v1h-2zM770 658h2v1h-2zM550 659h1v1h-1zM554 660h3v1h-3zM766 661h1v1h-1zM560 662h3v1h-3zM765 662h1v1h-1zM764 663h1v1h-1zM566 664h1v1h-1zM567 665h2v1h-2zM760 666h1v1h-1zM572 667h1v1h-1zM758 667h2v1h-2zM573 668h2v1h-2zM578 670h1v1h-1zM754 670h1v1h-1zM579 671h2v1h-2zM753 671h1v1h-1zM752 672h1v1h-1zM584 674h2v1h-2zM586 675h1v1h-1zM748 675h1v1h-1zM746 676h2v1h-2zM590 678h2v1h-2zM592 679h1v1h-1zM741 679h2v1h-2zM740 680h1v1h-1zM596 682h1v1h-1zM597 683h1v1h-1zM736 683h1v1h-1zM598 684h1v1h-1zM735 684h1v1h-1zM734 685h1v1h-1zM602 688h1v1h-1zM730 688h1v1h-1zM603 689h1v1h-1zM729 689h1v1h-1zM604 690h1v1h-1zM728 690h1v1h-1zM724 693h1v1h-1zM608 694h1v1h-1zM722 694h2v1h-2zM609 695h1v1h-1zM610 696h1v1h-1zM718 697h1v1h-1zM717 698h1v1h-1zM716 699h1v1h-1zM614 700h1v1h-1zM615 701h1v1h-1zM616 702h1v1h-1zM712 702h1v1h-1zM710 703h2v1h-2zM620 705h1v1h-1zM621 706h1v1h-1zM706 706h1v1h-1zM622 707h1v1h-1zM705 707h1v1h-1zM704 708h1v1h-1zM626 711h1v1h-1zM700 711h1v1h-1zM627 712h1v1h-1zM698 712h2v1h-2zM628 713h1v1h-1zM694 715h1v1h-1zM693 716h1v1h-1zM632 717h2v1h-2zM692 717h1v1h-1zM634 718h1v1h-1zM687 719h2v1h-2zM686 720h1v1h-1zM638 721h1v1h-1zM639 722h2v1h-2zM681 722h2v1h-2zM680 723h1v1h-1zM644 724h2v1h-2zM646 725h1v1h-1zM675 725h2v1h-2zM650 726h1v1h-1zM674 726h1v1h-1zM651 727h2v1h-2zM670 727h1v1h-1zM656 728h3v1h-3zM662 728h3v1h-3zM668 728h2v1h-2z" fill="#ff0000"/>
</g><g clip-path="url(#cRsi)">
<line x1="3" y1="788.5" x2="1689" y2="788.5" stroke="#c0c0c0" stroke-width="1" stroke-dasharray="3 3"/>
<line x1="3" y1="839.5" x2="1689" y2="839.5" stroke="#c0c0c0" stroke-width="1" stroke-dasharray="3 3"/>
<line x1="3" y1="899.5" x2="1689" y2="899.5" stroke="#c0c0c0" stroke-width="1" stroke-dasharray="3 3"/>
<path d="M188 803h1v1h-1zM170 804h3v1h-3zM186 804h2v1h-2zM189 804h1v1h-1zM166 805h4v1h-4zM173 805h2v1h-2zM185 805h1v1h-1zM190 805h1v1h-1zM164 806h2v1h-2zM175 806h1v1h-1zM184 806h1v1h-1zM191 806h1v1h-1zM163 807h1v1h-1zM176 807h2v1h-2zM182 807h2v1h-2zM192 807h1v1h-1zM162 808h1v1h-1zM178 808h2v1h-2zM181 808h1v1h-1zM193 808h1v1h-1zM1180 808h1v1h-1zM161 809h1v1h-1zM180 809h1v1h-1zM194 809h1v1h-1zM244 809h1v1h-1zM1179 809h1v1h-1zM1181 809h1v1h-1zM160 810h1v1h-1zM195 810h1v1h-1zM242 810h2v1h-2zM245 810h1v1h-1zM275 810h2v1h-2zM1179 810h1v1h-1zM1182 810h1v1h-1zM159 811h1v1h-1zM196 811h1v1h-1zM241 811h1v1h-1zM246 811h2v1h-2zM273 811h2v1h-2zM277 811h1v1h-1zM1178 811h1v1h-1zM1183 811h1v1h-1zM120 812h6v1h-6zM158 812h1v1h-1zM197 812h1v1h-1zM240 812h1v1h-1zM248 812h1v1h-1zM271 812h2v1h-2zM277 812h1v1h-1zM1178 812h1v1h-1zM1184 812h1v1h-1zM116 813h4v1h-4zM126 813h2v1h-2zM138 813h4v1h-4zM157 813h1v1h-1zM198 813h1v1h-1zM238 813h2v1h-2zM249 813h1v1h-1zM269 813h2v1h-2zM278 813h1v1h-1zM1177 813h1v1h-1zM1185 813h1v1h-1zM1202 813h3v1h-3zM100 814h1v1h-1zM114 814h2v1h-2zM128 814h3v1h-3zM134 814h4v1h-4zM142 814h2v1h-2zM154 814h3v1h-3zM198 814h1v1h-1zM237 814h1v1h-1zM250 814h2v1h-2zM266 814h3v1h-3zM278 814h1v1h-1zM1176 814h1v1h-1zM1186 814h1v1h-1zM1198 814h4v1h-4zM1205 814h1v1h-1zM99 815h1v1h-1zM101 815h2v1h-2zM112 815h2v1h-2zM131 815h3v1h-3zM144 815h3v1h-3zM150 815h4v1h-4zM199 815h1v1h-1zM232 815h5v1h-5zM252 815h4v1h-4zM262 815h4v1h-4zM279 815h1v1h-1zM1176 815h1v1h-1zM1187 815h1v1h-1zM1192 815h6v1h-6zM1205 815h1v1h-1zM99 816h1v1h-1zM103 816h2v1h-2zM111 816h1v1h-1zM147 816h3v1h-3zM200 816h1v1h-1zM212 816h1v1h-1zM228 816h4v1h-4zM256 816h6v1h-6zM279 816h1v1h-1zM1175 816h1v1h-1zM1188 816h4v1h-4zM1206 816h1v1h-1zM98 817h1v1h-1zM105 817h2v1h-2zM109 817h2v1h-2zM201 817h1v1h-1zM210 817h2v1h-2zM213 817h1v1h-1zM227 817h1v1h-1zM280 817h1v1h-1zM1174 817h1v1h-1zM1207 817h1v1h-1zM98 818h1v1h-1zM107 818h2v1h-2zM202 818h1v1h-1zM208 818h2v1h-2zM213 818h1v1h-1zM227 818h1v1h-1zM281 818h1v1h-1zM1051 818h2v1h-2zM1174 818h1v1h-1zM1207 818h1v1h-1zM97 819h1v1h-1zM202 819h1v1h-1zM207 819h1v1h-1zM214 819h1v1h-1zM226 819h1v1h-1zM281 819h1v1h-1zM1048 819h3v1h-3zM1053 819h1v1h-1zM1173 819h1v1h-1zM1208 819h1v1h-1zM97 820h1v1h-1zM203 820h1v1h-1zM205 820h2v1h-2zM215 820h1v1h-1zM225 820h1v1h-1zM282 820h1v1h-1zM1046 820h2v1h-2zM1053 820h1v1h-1zM1173 820h1v1h-1zM1209 820h1v1h-1zM96 821h1v1h-1zM204 821h1v1h-1zM215 821h1v1h-1zM225 821h1v1h-1zM282 821h1v1h-1zM1040 821h6v1h-6zM1054 821h1v1h-1zM1170 821h3v1h-3zM1209 821h1v1h-1zM96 822h1v1h-1zM216 822h1v1h-1zM224 822h1v1h-1zM283 822h1v1h-1zM1032 822h8v1h-8zM1054 822h1v1h-1zM1166 822h4v1h-4zM1210 822h1v1h-1zM95 823h1v1h-1zM217 823h1v1h-1zM223 823h1v1h-1zM283 823h1v1h-1zM1028 823h4v1h-4zM1055 823h1v1h-1zM1164 823h2v1h-2zM1211 823h1v1h-1zM95 824h1v1h-1zM217 824h1v1h-1zM223 824h1v1h-1zM284 824h1v1h-1zM1026 824h2v1h-2zM1055 824h1v1h-1zM1124 824h1v1h-1zM1164 824h1v1h-1zM1211 824h1v1h-1zM1216 824h5v1h-5zM94 825h1v1h-1zM218 825h1v1h-1zM222 825h1v1h-1zM284 825h1v1h-1zM1025 825h1v1h-1zM1056 825h1v1h-1zM1123 825h1v1h-1zM1125 825h1v1h-1zM1163 825h1v1h-1zM1212 825h4v1h-4zM1221 825h2v1h-2zM94 826h1v1h-1zM219 826h1v1h-1zM221 826h1v1h-1zM285 826h1v1h-1zM1024 826h1v1h-1zM1056 826h1v1h-1zM1122 826h1v1h-1zM1126 826h1v1h-1zM1163 826h1v1h-1zM1223 826h2v1h-2zM93 827h1v1h-1zM219 827h1v1h-1zM221 827h1v1h-1zM285 827h1v1h-1zM1022 827h2v1h-2zM1057 827h1v1h-1zM1121 827h1v1h-1zM1126 827h1v1h-1zM1162 827h1v1h-1zM1225 827h2v1h-2zM93 828h1v1h-1zM220 828h1v1h-1zM285 828h1v1h-1zM1021 828h1v1h-1zM1057 828h1v1h-1zM1120 828h1v1h-1zM1127 828h1v1h-1zM1162 828h1v1h-1zM1227 828h3v1h-3zM1268 828h1v1h-1zM92 829h1v1h-1zM286 829h1v1h-1zM1016 829h5v1h-5zM1058 829h1v1h-1zM1108 829h1v1h-1zM1120 829h1v1h-1zM1128 829h1v1h-1zM1161 829h1v1h-1zM1230 829h4v1h-4zM1267 829h1v1h-1zM1269 829h1v1h-1zM1424 829h5v1h-5zM91 830h1v1h-1zM286 830h1v1h-1zM1012 830h4v1h-4zM1058 830h1v1h-1zM1106 830h2v1h-2zM1109 830h2v1h-2zM1119 830h1v1h-1zM1129 830h1v1h-1zM1161 830h1v1h-1zM1234 830h3v1h-3zM1267 830h1v1h-1zM1269 830h1v1h-1zM1420 830h4v1h-4zM1429 830h1v1h-1zM90 831h1v1h-1zM287 831h1v1h-1zM820 831h2v1h-2zM1010 831h2v1h-2zM1059 831h1v1h-1zM1104 831h2v1h-2zM1111 831h2v1h-2zM1118 831h1v1h-1zM1130 831h1v1h-1zM1160 831h1v1h-1zM1237 831h1v1h-1zM1266 831h1v1h-1zM1270 831h1v1h-1zM1396 831h2v1h-2zM1418 831h2v1h-2zM1430 831h2v1h-2zM89 832h1v1h-1zM287 832h1v1h-1zM426 832h3v1h-3zM818 832h2v1h-2zM822 832h4v1h-4zM876 832h1v1h-1zM928 832h5v1h-5zM1008 832h2v1h-2zM1059 832h1v1h-1zM1103 832h1v1h-1zM1113 832h2v1h-2zM1117 832h1v1h-1zM1130 832h1v1h-1zM1160 832h1v1h-1zM1237 832h1v1h-1zM1265 832h1v1h-1zM1271 832h1v1h-1zM1395 832h1v1h-1zM1398 832h4v1h-4zM1416 832h2v1h-2zM1432 832h1v1h-1zM88 833h1v1h-1zM287 833h1v1h-1zM422 833h4v1h-4zM429 833h1v1h-1zM817 833h1v1h-1zM826 833h3v1h-3zM874 833h2v1h-2zM877 833h1v1h-1zM924 833h4v1h-4zM933 833h1v1h-1zM1007 833h1v1h-1zM1060 833h2v1h-2zM1088 833h8v1h-8zM1101 833h2v1h-2zM1115 833h2v1h-2zM1131 833h1v1h-1zM1159 833h1v1h-1zM1238 833h1v1h-1zM1265 833h1v1h-1zM1272 833h1v1h-1zM1394 833h1v1h-1zM1402 833h4v1h-4zM1415 833h1v1h-1zM1433 833h1v1h-1zM-4 834h9v1h-9zM88 834h1v1h-1zM288 834h1v1h-1zM403 834h3v1h-3zM419 834h3v1h-3zM429 834h1v1h-1zM816 834h1v1h-1zM829 834h1v1h-1zM873 834h1v1h-1zM878 834h2v1h-2zM923 834h1v1h-1zM934 834h2v1h-2zM1005 834h2v1h-2zM1062 834h2v1h-2zM1084 834h4v1h-4zM1096 834h5v1h-5zM1132 834h2v1h-2zM1159 834h1v1h-1zM1239 834h1v1h-1zM1264 834h1v1h-1zM1272 834h1v1h-1zM1392 834h2v1h-2zM1406 834h4v1h-4zM1413 834h2v1h-2zM1434 834h2v1h-2zM5 835h2v1h-2zM87 835h1v1h-1zM288 835h1v1h-1zM401 835h2v1h-2zM406 835h2v1h-2zM416 835h3v1h-3zM430 835h1v1h-1zM716 835h1v1h-1zM738 835h3v1h-3zM814 835h2v1h-2zM829 835h1v1h-1zM872 835h1v1h-1zM880 835h1v1h-1zM922 835h1v1h-1zM936 835h1v1h-1zM1004 835h1v1h-1zM1064 835h3v1h-3zM1083 835h1v1h-1zM1134 835h2v1h-2zM1158 835h1v1h-1zM1240 835h1v1h-1zM1263 835h1v1h-1zM1273 835h1v1h-1zM1391 835h1v1h-1zM1410 835h3v1h-3zM1436 835h1v1h-1zM7 836h2v1h-2zM86 836h1v1h-1zM288 836h1v1h-1zM300 836h1v1h-1zM399 836h2v1h-2zM408 836h3v1h-3zM414 836h2v1h-2zM431 836h1v1h-1zM715 836h1v1h-1zM717 836h1v1h-1zM734 836h4v1h-4zM741 836h2v1h-2zM764 836h4v1h-4zM813 836h1v1h-1zM830 836h1v1h-1zM870 836h2v1h-2zM881 836h1v1h-1zM921 836h1v1h-1zM937 836h1v1h-1zM1003 836h1v1h-1zM1067 836h2v1h-2zM1083 836h1v1h-1zM1136 836h3v1h-3zM1158 836h1v1h-1zM1240 836h1v1h-1zM1263 836h1v1h-1zM1274 836h1v1h-1zM1283 836h2v1h-2zM1355 836h2v1h-2zM1390 836h1v1h-1zM1437 836h1v1h-1zM1452 836h1v1h-1zM9 837h2v1h-2zM85 837h1v1h-1zM289 837h1v1h-1zM299 837h1v1h-1zM301 837h1v1h-1zM397 837h2v1h-2zM411 837h3v1h-3zM432 837h1v1h-1zM714 837h1v1h-1zM718 837h1v1h-1zM732 837h2v1h-2zM743 837h1v1h-1zM762 837h2v1h-2zM768 837h5v1h-5zM812 837h1v1h-1zM830 837h1v1h-1zM869 837h1v1h-1zM882 837h2v1h-2zM920 837h1v1h-1zM938 837h2v1h-2zM1002 837h1v1h-1zM1069 837h1v1h-1zM1082 837h1v1h-1zM1139 837h2v1h-2zM1157 837h1v1h-1zM1241 837h1v1h-1zM1251 837h3v1h-3zM1262 837h1v1h-1zM1275 837h1v1h-1zM1280 837h3v1h-3zM1285 837h1v1h-1zM1352 837h3v1h-3zM1357 837h2v1h-2zM1389 837h1v1h-1zM1437 837h1v1h-1zM1451 837h1v1h-1zM11 838h2v1h-2zM84 838h1v1h-1zM289 838h1v1h-1zM298 838h1v1h-1zM301 838h1v1h-1zM396 838h1v1h-1zM432 838h1v1h-1zM713 838h1v1h-1zM719 838h1v1h-1zM730 838h2v1h-2zM744 838h2v1h-2zM760 838h2v1h-2zM773 838h1v1h-1zM811 838h1v1h-1zM831 838h1v1h-1zM867 838h2v1h-2zM884 838h4v1h-4zM919 838h1v1h-1zM940 838h1v1h-1zM1001 838h1v1h-1zM1070 838h1v1h-1zM1081 838h1v1h-1zM1141 838h1v1h-1zM1157 838h1v1h-1zM1242 838h1v1h-1zM1249 838h2v1h-2zM1254 838h2v1h-2zM1261 838h1v1h-1zM1275 838h1v1h-1zM1278 838h2v1h-2zM1286 838h1v1h-1zM1350 838h2v1h-2zM1359 838h1v1h-1zM1388 838h1v1h-1zM1438 838h1v1h-1zM1450 838h1v1h-1zM13 839h1v1h-1zM83 839h1v1h-1zM289 839h1v1h-1zM298 839h1v1h-1zM302 839h1v1h-1zM395 839h1v1h-1zM433 839h1v1h-1zM443 839h2v1h-2zM712 839h1v1h-1zM720 839h2v1h-2zM728 839h2v1h-2zM746 839h2v1h-2zM759 839h1v1h-1zM774 839h1v1h-1zM810 839h1v1h-1zM831 839h1v1h-1zM851 839h3v1h-3zM865 839h2v1h-2zM888 839h5v1h-5zM918 839h1v1h-1zM940 839h1v1h-1zM1000 839h1v1h-1zM1070 839h1v1h-1zM1081 839h1v1h-1zM1142 839h2v1h-2zM1155 839h2v1h-2zM1243 839h1v1h-1zM1247 839h2v1h-2zM1256 839h3v1h-3zM1261 839h1v1h-1zM1276 839h2v1h-2zM1286 839h1v1h-1zM1348 839h2v1h-2zM1360 839h2v1h-2zM1387 839h1v1h-1zM1439 839h1v1h-1zM1450 839h1v1h-1zM13 840h1v1h-1zM82 840h1v1h-1zM290 840h1v1h-1zM297 840h1v1h-1zM303 840h1v1h-1zM394 840h1v1h-1zM434 840h1v1h-1zM441 840h2v1h-2zM445 840h2v1h-2zM711 840h1v1h-1zM722 840h1v1h-1zM727 840h1v1h-1zM748 840h4v1h-4zM757 840h2v1h-2zM775 840h1v1h-1zM794 840h3v1h-3zM808 840h2v1h-2zM832 840h1v1h-1zM849 840h2v1h-2zM854 840h2v1h-2zM863 840h2v1h-2zM893 840h1v1h-1zM917 840h1v1h-1zM941 840h1v1h-1zM999 840h1v1h-1zM1071 840h1v1h-1zM1080 840h1v1h-1zM1144 840h1v1h-1zM1153 840h2v1h-2zM1243 840h1v1h-1zM1245 840h2v1h-2zM1259 840h2v1h-2zM1287 840h1v1h-1zM1347 840h1v1h-1zM1362 840h2v1h-2zM1387 840h1v1h-1zM1440 840h1v1h-1zM1449 840h1v1h-1zM14 841h1v1h-1zM81 841h1v1h-1zM290 841h1v1h-1zM296 841h1v1h-1zM304 841h1v1h-1zM394 841h1v1h-1zM435 841h1v1h-1zM439 841h2v1h-2zM447 841h2v1h-2zM710 841h1v1h-1zM723 841h1v1h-1zM725 841h2v1h-2zM752 841h5v1h-5zM776 841h2v1h-2zM790 841h4v1h-4zM797 841h2v1h-2zM807 841h1v1h-1zM832 841h1v1h-1zM847 841h2v1h-2zM856 841h3v1h-3zM861 841h2v1h-2zM894 841h1v1h-1zM916 841h1v1h-1zM941 841h1v1h-1zM998 841h1v1h-1zM1072 841h1v1h-1zM1079 841h1v1h-1zM1145 841h1v1h-1zM1151 841h2v1h-2zM1244 841h1v1h-1zM1288 841h1v1h-1zM1347 841h1v1h-1zM1364 841h1v1h-1zM1386 841h1v1h-1zM1440 841h1v1h-1zM1448 841h1v1h-1zM14 842h1v1h-1zM80 842h1v1h-1zM291 842h1v1h-1zM295 842h1v1h-1zM304 842h1v1h-1zM393 842h1v1h-1zM435 842h1v1h-1zM437 842h2v1h-2zM449 842h2v1h-2zM709 842h1v1h-1zM724 842h1v1h-1zM778 842h1v1h-1zM786 842h4v1h-4zM799 842h2v1h-2zM806 842h1v1h-1zM833 842h1v1h-1zM845 842h2v1h-2zM859 842h2v1h-2zM895 842h1v1h-1zM914 842h2v1h-2zM941 842h1v1h-1zM997 842h1v1h-1zM1073 842h1v1h-1zM1079 842h1v1h-1zM1146 842h2v1h-2zM1149 842h2v1h-2zM1289 842h1v1h-1zM1346 842h1v1h-1zM1365 842h1v1h-1zM1385 842h1v1h-1zM1441 842h1v1h-1zM1447 842h1v1h-1zM15 843h1v1h-1zM60 843h9v1h-9zM80 843h1v1h-1zM291 843h1v1h-1zM294 843h1v1h-1zM305 843h1v1h-1zM372 843h2v1h-2zM392 843h1v1h-1zM436 843h1v1h-1zM451 843h2v1h-2zM708 843h1v1h-1zM779 843h1v1h-1zM782 843h4v1h-4zM801 843h2v1h-2zM805 843h1v1h-1zM833 843h1v1h-1zM844 843h1v1h-1zM896 843h2v1h-2zM912 843h2v1h-2zM942 843h1v1h-1zM996 843h1v1h-1zM1074 843h1v1h-1zM1078 843h1v1h-1zM1148 843h1v1h-1zM1290 843h1v1h-1zM1314 843h3v1h-3zM1346 843h1v1h-1zM1366 843h1v1h-1zM1385 843h1v1h-1zM1442 843h1v1h-1zM1446 843h1v1h-1zM15 844h1v1h-1zM59 844h1v1h-1zM69 844h2v1h-2zM79 844h1v1h-1zM291 844h1v1h-1zM294 844h1v1h-1zM306 844h1v1h-1zM371 844h1v1h-1zM374 844h4v1h-4zM391 844h1v1h-1zM453 844h2v1h-2zM706 844h2v1h-2zM780 844h2v1h-2zM803 844h2v1h-2zM834 844h1v1h-1zM842 844h2v1h-2zM898 844h1v1h-1zM911 844h1v1h-1zM942 844h1v1h-1zM995 844h1v1h-1zM1074 844h1v1h-1zM1077 844h1v1h-1zM1290 844h1v1h-1zM1310 844h4v1h-4zM1317 844h2v1h-2zM1345 844h1v1h-1zM1367 844h1v1h-1zM1384 844h1v1h-1zM1443 844h1v1h-1zM1446 844h1v1h-1zM16 845h1v1h-1zM58 845h1v1h-1zM71 845h2v1h-2zM78 845h1v1h-1zM292 845h2v1h-2zM307 845h1v1h-1zM371 845h1v1h-1zM378 845h4v1h-4zM390 845h1v1h-1zM455 845h1v1h-1zM676 845h1v1h-1zM705 845h1v1h-1zM834 845h1v1h-1zM841 845h1v1h-1zM899 845h1v1h-1zM909 845h2v1h-2zM943 845h1v1h-1zM995 845h1v1h-1zM1075 845h1v1h-1zM1077 845h1v1h-1zM1291 845h1v1h-1zM1306 845h4v1h-4zM1319 845h2v1h-2zM1344 845h1v1h-1zM1368 845h1v1h-1zM1383 845h1v1h-1zM1443 845h1v1h-1zM1445 845h1v1h-1zM17 846h1v1h-1zM57 846h1v1h-1zM73 846h2v1h-2zM77 846h1v1h-1zM292 846h1v1h-1zM307 846h1v1h-1zM312 846h5v1h-5zM370 846h1v1h-1zM382 846h2v1h-2zM390 846h1v1h-1zM456 846h2v1h-2zM675 846h1v1h-1zM677 846h1v1h-1zM704 846h1v1h-1zM835 846h1v1h-1zM840 846h1v1h-1zM900 846h9v1h-9zM943 846h1v1h-1zM994 846h1v1h-1zM1076 846h1v1h-1zM1292 846h4v1h-4zM1302 846h4v1h-4zM1321 846h2v1h-2zM1344 846h1v1h-1zM1368 846h1v1h-1zM1383 846h1v1h-1zM1444 846h1v1h-1zM17 847h1v1h-1zM56 847h1v1h-1zM75 847h2v1h-2zM308 847h4v1h-4zM317 847h1v1h-1zM370 847h1v1h-1zM384 847h3v1h-3zM389 847h1v1h-1zM458 847h2v1h-2zM532 847h1v1h-1zM674 847h1v1h-1zM678 847h1v1h-1zM702 847h2v1h-2zM835 847h1v1h-1zM838 847h2v1h-2zM943 847h1v1h-1zM994 847h1v1h-1zM1296 847h6v1h-6zM1323 847h5v1h-5zM1343 847h1v1h-1zM1369 847h1v1h-1zM1382 847h1v1h-1zM18 848h1v1h-1zM27 848h3v1h-3zM56 848h1v1h-1zM317 848h1v1h-1zM369 848h1v1h-1zM387 848h2v1h-2zM460 848h1v1h-1zM532 848h2v1h-2zM673 848h1v1h-1zM679 848h1v1h-1zM691 848h5v1h-5zM701 848h1v1h-1zM836 848h2v1h-2zM944 848h1v1h-1zM964 848h1v1h-1zM993 848h1v1h-1zM1328 848h5v1h-5zM1342 848h1v1h-1zM1370 848h1v1h-1zM1381 848h1v1h-1zM18 849h1v1h-1zM25 849h2v1h-2zM30 849h4v1h-4zM55 849h1v1h-1zM318 849h1v1h-1zM369 849h1v1h-1zM461 849h1v1h-1zM531 849h1v1h-1zM533 849h1v1h-1zM644 849h1v1h-1zM659 849h2v1h-2zM672 849h1v1h-1zM680 849h2v1h-2zM689 849h2v1h-2zM696 849h5v1h-5zM836 849h1v1h-1zM944 849h1v1h-1zM963 849h1v1h-1zM965 849h2v1h-2zM992 849h1v1h-1zM1333 849h2v1h-2zM1342 849h1v1h-1zM1371 849h1v1h-1zM1381 849h1v1h-1zM19 850h1v1h-1zM23 850h2v1h-2zM34 850h3v1h-3zM54 850h1v1h-1zM318 850h1v1h-1zM368 850h1v1h-1zM462 850h1v1h-1zM531 850h1v1h-1zM534 850h1v1h-1zM643 850h1v1h-1zM645 850h2v1h-2zM657 850h2v1h-2zM661 850h2v1h-2zM671 850h1v1h-1zM682 850h1v1h-1zM687 850h2v1h-2zM944 850h1v1h-1zM962 850h1v1h-1zM967 850h1v1h-1zM992 850h1v1h-1zM1335 850h2v1h-2zM1341 850h1v1h-1zM1372 850h9v1h-9zM19 851h1v1h-1zM21 851h2v1h-2zM37 851h1v1h-1zM53 851h1v1h-1zM319 851h1v1h-1zM368 851h1v1h-1zM462 851h1v1h-1zM530 851h1v1h-1zM534 851h1v1h-1zM642 851h1v1h-1zM647 851h2v1h-2zM655 851h2v1h-2zM663 851h2v1h-2zM670 851h1v1h-1zM683 851h1v1h-1zM685 851h2v1h-2zM945 851h1v1h-1zM961 851h1v1h-1zM968 851h2v1h-2zM991 851h1v1h-1zM1337 851h2v1h-2zM1341 851h1v1h-1zM20 852h1v1h-1zM38 852h1v1h-1zM52 852h1v1h-1zM319 852h1v1h-1zM367 852h1v1h-1zM463 852h1v1h-1zM530 852h1v1h-1zM535 852h1v1h-1zM642 852h1v1h-1zM649 852h2v1h-2zM653 852h2v1h-2zM665 852h2v1h-2zM669 852h1v1h-1zM684 852h1v1h-1zM945 852h1v1h-1zM960 852h1v1h-1zM970 852h2v1h-2zM990 852h1v1h-1zM1339 852h2v1h-2zM39 853h1v1h-1zM50 853h2v1h-2zM320 853h1v1h-1zM367 853h1v1h-1zM464 853h1v1h-1zM529 853h1v1h-1zM536 853h1v1h-1zM641 853h1v1h-1zM651 853h2v1h-2zM667 853h2v1h-2zM945 853h1v1h-1zM959 853h1v1h-1zM972 853h4v1h-4zM990 853h1v1h-1zM40 854h1v1h-1zM49 854h1v1h-1zM320 854h1v1h-1zM366 854h1v1h-1zM465 854h1v1h-1zM529 854h1v1h-1zM536 854h1v1h-1zM640 854h1v1h-1zM946 854h1v1h-1zM958 854h1v1h-1zM976 854h6v1h-6zM989 854h1v1h-1zM41 855h1v1h-1zM48 855h1v1h-1zM321 855h1v1h-1zM366 855h1v1h-1zM466 855h1v1h-1zM475 855h2v1h-2zM528 855h1v1h-1zM537 855h1v1h-1zM639 855h1v1h-1zM946 855h1v1h-1zM957 855h1v1h-1zM982 855h4v1h-4zM989 855h1v1h-1zM42 856h1v1h-1zM46 856h2v1h-2zM321 856h1v1h-1zM365 856h1v1h-1zM466 856h1v1h-1zM472 856h3v1h-3zM477 856h2v1h-2zM491 856h2v1h-2zM528 856h1v1h-1zM538 856h1v1h-1zM638 856h1v1h-1zM947 856h1v1h-1zM955 856h2v1h-2zM986 856h3v1h-3zM43 857h1v1h-1zM45 857h1v1h-1zM322 857h1v1h-1zM356 857h4v1h-4zM365 857h1v1h-1zM467 857h1v1h-1zM470 857h2v1h-2zM479 857h2v1h-2zM488 857h3v1h-3zM493 857h1v1h-1zM527 857h1v1h-1zM538 857h1v1h-1zM638 857h1v1h-1zM947 857h1v1h-1zM953 857h2v1h-2zM44 858h1v1h-1zM322 858h1v1h-1zM355 858h1v1h-1zM360 858h5v1h-5zM468 858h2v1h-2zM481 858h2v1h-2zM486 858h2v1h-2zM494 858h1v1h-1zM527 858h1v1h-1zM539 858h1v1h-1zM637 858h1v1h-1zM947 858h1v1h-1zM951 858h2v1h-2zM323 859h1v1h-1zM355 859h1v1h-1zM483 859h3v1h-3zM495 859h1v1h-1zM526 859h1v1h-1zM539 859h1v1h-1zM636 859h1v1h-1zM948 859h3v1h-3zM323 860h1v1h-1zM354 860h1v1h-1zM496 860h1v1h-1zM512 860h5v1h-5zM526 860h1v1h-1zM540 860h1v1h-1zM636 860h1v1h-1zM948 860h1v1h-1zM324 861h1v1h-1zM354 861h1v1h-1zM496 861h1v1h-1zM507 861h5v1h-5zM517 861h2v1h-2zM525 861h1v1h-1zM541 861h1v1h-1zM556 861h1v1h-1zM635 861h1v1h-1zM325 862h1v1h-1zM353 862h1v1h-1zM497 862h1v1h-1zM505 862h2v1h-2zM519 862h2v1h-2zM525 862h1v1h-1zM541 862h1v1h-1zM555 862h1v1h-1zM557 862h2v1h-2zM635 862h1v1h-1zM326 863h1v1h-1zM353 863h1v1h-1zM498 863h1v1h-1zM503 863h2v1h-2zM521 863h2v1h-2zM524 863h1v1h-1zM542 863h1v1h-1zM555 863h1v1h-1zM559 863h2v1h-2zM634 863h1v1h-1zM326 864h1v1h-1zM352 864h1v1h-1zM499 864h1v1h-1zM501 864h2v1h-2zM523 864h2v1h-2zM542 864h1v1h-1zM554 864h1v1h-1zM561 864h2v1h-2zM634 864h1v1h-1zM327 865h1v1h-1zM352 865h1v1h-1zM500 865h1v1h-1zM543 865h1v1h-1zM554 865h1v1h-1zM563 865h2v1h-2zM620 865h1v1h-1zM633 865h1v1h-1zM328 866h1v1h-1zM351 866h1v1h-1zM543 866h1v1h-1zM553 866h1v1h-1zM565 866h1v1h-1zM620 866h2v1h-2zM633 866h1v1h-1zM329 867h1v1h-1zM351 867h1v1h-1zM544 867h1v1h-1zM553 867h1v1h-1zM565 867h1v1h-1zM619 867h1v1h-1zM621 867h1v1h-1zM632 867h1v1h-1zM330 868h1v1h-1zM350 868h1v1h-1zM544 868h1v1h-1zM552 868h1v1h-1zM566 868h1v1h-1zM619 868h1v1h-1zM622 868h1v1h-1zM632 868h1v1h-1zM330 869h1v1h-1zM350 869h1v1h-1zM545 869h1v1h-1zM551 869h1v1h-1zM567 869h1v1h-1zM619 869h1v1h-1zM623 869h1v1h-1zM631 869h1v1h-1zM331 870h1v1h-1zM349 870h1v1h-1zM545 870h1v1h-1zM551 870h1v1h-1zM568 870h1v1h-1zM618 870h1v1h-1zM624 870h1v1h-1zM631 870h1v1h-1zM332 871h4v1h-4zM349 871h1v1h-1zM546 871h1v1h-1zM550 871h1v1h-1zM568 871h1v1h-1zM618 871h1v1h-1zM624 871h1v1h-1zM630 871h1v1h-1zM336 872h13v1h-13zM546 872h1v1h-1zM550 872h1v1h-1zM569 872h1v1h-1zM617 872h1v1h-1zM625 872h1v1h-1zM630 872h1v1h-1zM547 873h1v1h-1zM549 873h1v1h-1zM570 873h1v1h-1zM617 873h1v1h-1zM626 873h1v1h-1zM629 873h1v1h-1zM547 874h1v1h-1zM549 874h1v1h-1zM571 874h1v1h-1zM617 874h1v1h-1zM627 874h1v1h-1zM629 874h1v1h-1zM548 875h1v1h-1zM571 875h1v1h-1zM616 875h1v1h-1zM627 875h2v1h-2zM572 876h2v1h-2zM616 876h1v1h-1zM628 876h1v1h-1zM574 877h4v1h-4zM616 877h1v1h-1zM578 878h3v1h-3zM615 878h1v1h-1zM581 879h1v1h-1zM615 879h1v1h-1zM582 880h1v1h-1zM596 880h1v1h-1zM615 880h1v1h-1zM583 881h1v1h-1zM594 881h2v1h-2zM597 881h1v1h-1zM614 881h1v1h-1zM584 882h1v1h-1zM593 882h1v1h-1zM598 882h2v1h-2zM614 882h1v1h-1zM585 883h1v1h-1zM592 883h1v1h-1zM600 883h1v1h-1zM613 883h1v1h-1zM586 884h1v1h-1zM590 884h2v1h-2zM601 884h1v1h-1zM613 884h1v1h-1zM587 885h1v1h-1zM589 885h1v1h-1zM602 885h2v1h-2zM613 885h1v1h-1zM588 886h1v1h-1zM604 886h4v1h-4zM612 886h1v1h-1zM608 887h5v1h-5z" fill="#1e90ff"/>
</g>
<text x="0" y="593" font-size="9.6" fill="#000" text-anchor="start" font-weight="normal" font-family="'DejaVu Sans', 'Liberation Sans', sans-serif" textLength="117" lengthAdjust="spacingAndGlyphs" stroke="#000" stroke-width="0.22" >MACD(12,26,9) 35.98 11.22</text>
<rect x="1690" y="582" width="2" height="1" fill="#000"/>
<text x="1693" y="591" font-size="9.6" fill="#000" text-anchor="start" font-weight="normal" font-family="'DejaVu Sans', 'Liberation Sans', sans-serif" textLength="27.5" lengthAdjust="spacingAndGlyphs" stroke="#000" stroke-width="0.22" >596.11</text>
<rect x="1690" y="631" width="2" height="1" fill="#000"/>
<text x="1693" y="635" font-size="9.6" fill="#000" text-anchor="start" font-weight="normal" font-family="'DejaVu Sans', 'Liberation Sans', sans-serif" textLength="17.5" lengthAdjust="spacingAndGlyphs" stroke="#000" stroke-width="0.22" >0.00</text>
<rect x="1690" y="749" width="2" height="1" fill="#000"/>
<text x="1693" y="747" font-size="9.6" fill="#000" text-anchor="start" font-weight="normal" font-family="'DejaVu Sans', 'Liberation Sans', sans-serif" textLength="35" lengthAdjust="spacingAndGlyphs" stroke="#000" stroke-width="0.22" >-1415.19</text>
<text x="0" y="765" font-size="9.6" fill="#000" text-anchor="start" font-weight="normal" font-family="'DejaVu Sans', 'Liberation Sans', sans-serif" textLength="68" lengthAdjust="spacingAndGlyphs" stroke="#000" stroke-width="0.22" >RSI(14) 51.5680</text>
<rect x="1690" y="754" width="2" height="1" fill="#000"/>
<rect x="1690" y="788" width="2" height="1" fill="#000"/>
<rect x="1690" y="839" width="2" height="1" fill="#000"/>
<rect x="1690" y="899" width="2" height="1" fill="#000"/>
<rect x="1690" y="925" width="2" height="1" fill="#000"/>
<text x="1693.3" y="763" font-size="9.6" fill="#000" text-anchor="start" font-weight="normal" font-family="'DejaVu Sans', 'Liberation Sans', sans-serif" textLength="14.5" lengthAdjust="spacingAndGlyphs" stroke="#000" stroke-width="0.22" >100</text>
<text x="1693.3" y="792" font-size="9.6" fill="#000" text-anchor="start" font-weight="normal" font-family="'DejaVu Sans', 'Liberation Sans', sans-serif" textLength="9.7" lengthAdjust="spacingAndGlyphs" stroke="#000" stroke-width="0.22" >80</text>
<text x="1693.3" y="843" font-size="9.6" fill="#000" text-anchor="start" font-weight="normal" font-family="'DejaVu Sans', 'Liberation Sans', sans-serif" textLength="9.7" lengthAdjust="spacingAndGlyphs" stroke="#000" stroke-width="0.22" >50</text>
<text x="1693" y="904" font-size="9.6" fill="#000" text-anchor="start" font-weight="normal" font-family="'DejaVu Sans', 'Liberation Sans', sans-serif" textLength="9.7" lengthAdjust="spacingAndGlyphs" stroke="#000" stroke-width="0.22" >15</text>
<text x="1693" y="923" font-size="9.6" fill="#000" text-anchor="start" font-weight="normal" font-family="'DejaVu Sans', 'Liberation Sans', sans-serif" textLength="5" lengthAdjust="spacingAndGlyphs" stroke="#000" stroke-width="0.22" >0</text>
<rect x="0" y="25" width="1690" height="1" fill="#000"/>
<rect x="0" y="578" width="1690" height="1" fill="#000"/>
<rect x="1689" y="25" width="1" height="554" fill="#000"/>
<rect x="0" y="580" width="1690" height="1" fill="#000"/>
<rect x="0" y="750" width="1690" height="1" fill="#000"/>
<rect x="1689" y="580" width="1" height="171" fill="#000"/>
<rect x="0" y="752" width="1690" height="1" fill="#000"/>
<rect x="0" y="926" width="1690" height="1" fill="#000"/>
<rect x="1689" y="752" width="1" height="175" fill="#000"/>
<polyline points="1369,366 1419.5,278.5 1444.5,332 1466.5,304" fill="none" stroke="#ff0000" stroke-width="3.2" stroke-linejoin="miter" stroke-linecap="butt" shape-rendering="auto"/>
<polygon points="1421,274.5 1411.5,283.5 1427,288.5" fill="#ff0000" shape-rendering="auto"/>
<polygon points="1437,324 1452,325 1444.5,335" fill="#ff0000" shape-rendering="auto"/>
<polygon points="1469.5,300.5 1459,307.5 1466,312.5" fill="#ff0000" shape-rendering="auto"/>
<rect x="1326" y="318" width="175" height="7" fill="#00ff00"/>
<rect x="917" y="320" width="10" height="1" fill="#ff0000"/>
<rect x="927" y="308" width="74" height="25" fill="#ff0000"/>
<rect x="928" y="309" width="72" height="23" fill="#fff"/>
<text x="964" y="329" font-size="21.5" fill="#ff0000" text-anchor="middle" font-weight="normal" font-family="'Liberation Sans', Arial, sans-serif" textLength="70" lengthAdjust="spacingAndGlyphs" >24901.6</text>
<text x="1545.5" y="325.6" font-size="19" fill="#00ff00" text-anchor="start" font-weight="normal" font-family="'Liberation Sans', 'Noto Sans CJK SC', 'WenQuanYi Zen Hei', sans-serif" textLength="110.5" lengthAdjust="spacingAndGlyphs" >多空转折点</text>
<polygon points="1463,26 1472,26 1467.5,30.5" fill="#c0c0c0"/>
<polygon points="0,36 3,33 6,36" fill="#000"/>
<text x="11" y="37" font-size="9.6" fill="#000" text-anchor="start" font-weight="normal" font-family="'DejaVu Sans', 'Liberation Sans', sans-serif" textLength="198" lengthAdjust="spacingAndGlyphs" stroke="#000" stroke-width="0.22" >HK50-,Daily&#160;&#160;24892.0 25180.0 24832.0 25057.0</text>
<rect x="0" y="43" width="220" height="68" fill="#fff"/>
<defs>
<linearGradient id="gTop" x1="0" y1="0" x2="0" y2="1"><stop offset="0" stop-color="#fb5c5c"/><stop offset="1" stop-color="#e53c3c"/></linearGradient>
<linearGradient id="gBot" x1="0" y1="0" x2="0" y2="1"><stop offset="0" stop-color="#e23636"/><stop offset="1" stop-color="#b20606"/></linearGradient>
<linearGradient id="gBtn" x1="0" y1="0" x2="0" y2="1"><stop offset="0" stop-color="#f6f6f6"/><stop offset="0.45" stop-color="#ececec"/><stop offset="0.5" stop-color="#dcdcdc"/><stop offset="1" stop-color="#d4d4d4"/></linearGradient>
<linearGradient id="gTb" x1="0" y1="0" x2="0" y2="1"><stop offset="0" stop-color="#a8a8a8"/><stop offset="1" stop-color="#6a6a6a"/></linearGradient>
</defs>
<rect x="0" y="45" width="51" height="25" fill="#b80000"/>
<rect x="0" y="46" width="50" height="23" fill="url(#gTop)"/>
<rect x="0" y="69" width="108" height="40" fill="#b80000"/>
<rect x="0" y="70" width="107" height="38" fill="url(#gBot)"/>
<rect x="0" y="69" width="50" height="1" fill="#e23636"/>
<rect x="3" y="68" width="44" height="1" fill="#7a0000"/>
<rect x="3" y="69" width="44" height="1" fill="#f27a7a"/>
<rect x="166" y="45" width="52" height="25" fill="#b80000"/>
<rect x="167" y="46" width="50" height="23" fill="url(#gTop)"/>
<rect x="110" y="69" width="108" height="40" fill="#b80000"/>
<rect x="111" y="70" width="106" height="38" fill="url(#gBot)"/>
<rect x="167" y="69" width="50" height="1" fill="#e23636"/>
<rect x="170" y="68" width="44" height="1" fill="#7a0000"/>
<rect x="170" y="69" width="44" height="1" fill="#f27a7a"/>
<rect x="53" y="45" width="111" height="22" fill="#a4a8b4"/>
<rect x="54" y="46" width="109" height="20" fill="#fff"/>
<rect x="55" y="47" width="19" height="18" fill="url(#gBtn)"/>
<rect x="74" y="46" width="1" height="20" fill="#a4a8b4"/>
<rect x="143" y="46" width="1" height="20" fill="#a4a8b4"/>
<rect x="144" y="47" width="18" height="18" fill="url(#gBtn)"/>
<polygon points="61.5,54 66.5,54 64,57" fill="#4a5ac8"/>
<polygon points="150,57 155,57 152.5,54" fill="#4a5ac8"/>
<text x="139" y="61" font-size="12.5" fill="#000" text-anchor="end" font-weight="normal" font-family="'DejaVu Sans', 'Liberation Sans', sans-serif" textLength="23.5" lengthAdjust="spacingAndGlyphs" >1.00</text>
<text x="11.5" y="61" font-size="12.4" fill="#fff" text-anchor="start" font-weight="normal" font-family="'DejaVu Sans', 'Liberation Sans', sans-serif" textLength="25.5" lengthAdjust="spacingAndGlyphs" >SELL</text>
<text x="179" y="61" font-size="12.4" fill="#fff" text-anchor="start" font-weight="normal" font-family="'DejaVu Sans', 'Liberation Sans', sans-serif" textLength="23.6" lengthAdjust="spacingAndGlyphs" >BUY</text>
<text x="15" y="100" font-size="12" fill="#fff" text-anchor="start" font-weight="bold" font-family="'DejaVu Sans', 'Liberation Sans', sans-serif" textLength="34" lengthAdjust="spacingAndGlyphs" >25055</text>
<text x="51.9" y="100" font-size="27" fill="#fff" text-anchor="start" font-weight="bold" font-family="'DejaVu Sans', 'Liberation Sans', sans-serif" >.</text>
<text x="60.4" y="100" font-size="32" fill="#fff" text-anchor="start" font-weight="200" font-family="'DejaVu Sans', sans-serif" textLength="18" lengthAdjust="spacingAndGlyphs" stroke="#fff" stroke-width="0.8">5</text>
<text x="125.5" y="100" font-size="12" fill="#fff" text-anchor="start" font-weight="bold" font-family="'DejaVu Sans', 'Liberation Sans', sans-serif" textLength="34" lengthAdjust="spacingAndGlyphs" >25075</text>
<text x="162.4" y="100" font-size="27" fill="#fff" text-anchor="start" font-weight="bold" font-family="'DejaVu Sans', 'Liberation Sans', sans-serif" >.</text>
<text x="171.5" y="100" font-size="32" fill="#fff" text-anchor="start" font-weight="200" font-family="'DejaVu Sans', sans-serif" textLength="18" lengthAdjust="spacingAndGlyphs" stroke="#fff" stroke-width="0.8">5</text>
<rect x="1690" y="47" width="2" height="1" fill="#000"/>
<text x="1695" y="51" font-size="9.6" fill="#000" text-anchor="start" font-weight="normal" font-family="'DejaVu Sans', 'Liberation Sans', sans-serif" textLength="32.6" lengthAdjust="spacingAndGlyphs" stroke="#000" stroke-width="0.22" >29298.0</text>
<rect x="1690" y="80" width="2" height="1" fill="#000"/>
<text x="1695" y="84" font-size="9.6" fill="#000" text-anchor="start" font-weight="normal" font-family="'DejaVu Sans', 'Liberation Sans', sans-serif" textLength="32.6" lengthAdjust="spacingAndGlyphs" stroke="#000" stroke-width="0.22" >28770.0</text>
<rect x="1690" y="113" width="2" height="1" fill="#000"/>
<text x="1695" y="117" font-size="9.6" fill="#000" text-anchor="start" font-weight="normal" font-family="'DejaVu Sans', 'Liberation Sans', sans-serif" textLength="32.6" lengthAdjust="spacingAndGlyphs" stroke="#000" stroke-width="0.22" >28242.0</text>
<rect x="1690" y="146" width="2" height="1" fill="#000"/>
<text x="1695" y="150" font-size="9.6" fill="#000" text-anchor="start" font-weight="normal" font-family="'DejaVu Sans', 'Liberation Sans', sans-serif" textLength="32.6" lengthAdjust="spacingAndGlyphs" stroke="#000" stroke-width="0.22" >27698.0</text>
<rect x="1690" y="179" width="2" height="1" fill="#000"/>
<text x="1695" y="183" font-size="9.6" fill="#000" text-anchor="start" font-weight="normal" font-family="'DejaVu Sans', 'Liberation Sans', sans-serif" textLength="32.6" lengthAdjust="spacingAndGlyphs" stroke="#000" stroke-width="0.22" >27170.0</text>
<rect x="1690" y="212" width="2" height="1" fill="#000"/>
<text x="1695" y="216" font-size="9.6" fill="#000" text-anchor="start" font-weight="normal" font-family="'DejaVu Sans', 'Liberation Sans', sans-serif" textLength="32.6" lengthAdjust="spacingAndGlyphs" stroke="#000" stroke-width="0.22" >26642.0</text>
<rect x="1690" y="245" width="2" height="1" fill="#000"/>
<text x="1695" y="249" font-size="9.6" fill="#000" text-anchor="start" font-weight="normal" font-family="'DejaVu Sans', 'Liberation Sans', sans-serif" textLength="32.6" lengthAdjust="spacingAndGlyphs" stroke="#000" stroke-width="0.22" >26114.0</text>
<rect x="1690" y="278" width="2" height="1" fill="#000"/>
<text x="1695" y="282" font-size="9.6" fill="#000" text-anchor="start" font-weight="normal" font-family="'DejaVu Sans', 'Liberation Sans', sans-serif" textLength="32.6" lengthAdjust="spacingAndGlyphs" stroke="#000" stroke-width="0.22" >25570.0</text>
<rect x="1690" y="344" width="2" height="1" fill="#000"/>
<text x="1695" y="348" font-size="9.6" fill="#000" text-anchor="start" font-weight="normal" font-family="'DejaVu Sans', 'Liberation Sans', sans-serif" textLength="32.6" lengthAdjust="spacingAndGlyphs" stroke="#000" stroke-width="0.22" >24514.0</text>
<rect x="1690" y="377" width="2" height="1" fill="#000"/>
<text x="1695" y="381" font-size="9.6" fill="#000" text-anchor="start" font-weight="normal" font-family="'DejaVu Sans', 'Liberation Sans', sans-serif" textLength="32.6" lengthAdjust="spacingAndGlyphs" stroke="#000" stroke-width="0.22" >23986.0</text>
<rect x="1690" y="410" width="2" height="1" fill="#000"/>
<text x="1695" y="414" font-size="9.6" fill="#000" text-anchor="start" font-weight="normal" font-family="'DejaVu Sans', 'Liberation Sans', sans-serif" textLength="32.6" lengthAdjust="spacingAndGlyphs" stroke="#000" stroke-width="0.22" >23458.0</text>
<rect x="1690" y="443" width="2" height="1" fill="#000"/>
<text x="1695" y="447" font-size="9.6" fill="#000" text-anchor="start" font-weight="normal" font-family="'DejaVu Sans', 'Liberation Sans', sans-serif" textLength="32.6" lengthAdjust="spacingAndGlyphs" stroke="#000" stroke-width="0.22" >22914.0</text>
<rect x="1690" y="476" width="2" height="1" fill="#000"/>
<text x="1695" y="480" font-size="9.6" fill="#000" text-anchor="start" font-weight="normal" font-family="'DejaVu Sans', 'Liberation Sans', sans-serif" textLength="32.6" lengthAdjust="spacingAndGlyphs" stroke="#000" stroke-width="0.22" >22386.0</text>
<rect x="1690" y="509" width="2" height="1" fill="#000"/>
<text x="1695" y="513" font-size="9.6" fill="#000" text-anchor="start" font-weight="normal" font-family="'DejaVu Sans', 'Liberation Sans', sans-serif" textLength="32.6" lengthAdjust="spacingAndGlyphs" stroke="#000" stroke-width="0.22" >21858.0</text>
<rect x="1690" y="542" width="2" height="1" fill="#000"/>
<text x="1695" y="546" font-size="9.6" fill="#000" text-anchor="start" font-weight="normal" font-family="'DejaVu Sans', 'Liberation Sans', sans-serif" textLength="32.6" lengthAdjust="spacingAndGlyphs" stroke="#000" stroke-width="0.22" >21330.0</text>
<rect x="1690" y="575" width="2" height="1" fill="#000"/>
<text x="1695" y="579" font-size="9.6" fill="#000" text-anchor="start" font-weight="normal" font-family="'DejaVu Sans', 'Liberation Sans', sans-serif" textLength="32.6" lengthAdjust="spacingAndGlyphs" stroke="#000" stroke-width="0.22" >20802.0</text>
<rect x="1691" y="262" width="41" height="11" fill="#ff0000"/>
<text x="1695" y="271" font-size="9.6" fill="#fff" text-anchor="start" font-weight="normal" font-family="'DejaVu Sans', 'Liberation Sans', sans-serif" textLength="32.6" lengthAdjust="spacingAndGlyphs" stroke="#fff" stroke-width="0.22" >25737.6</text>
<rect x="1691" y="282" width="41" height="11" fill="#ff0000"/>
<text x="1695" y="291" font-size="9.6" fill="#fff" text-anchor="start" font-weight="normal" font-family="'DejaVu Sans', 'Liberation Sans', sans-serif" textLength="32.6" lengthAdjust="spacingAndGlyphs" stroke="#fff" stroke-width="0.22" >25416.1</text>
<rect x="1691" y="305" width="41" height="10" fill="#000000"/>
<text x="1695" y="314" font-size="9.6" fill="#fff" text-anchor="start" font-weight="normal" font-family="'DejaVu Sans', 'Liberation Sans', sans-serif" textLength="32.6" lengthAdjust="spacingAndGlyphs" stroke="#fff" stroke-width="0.22" >25057.0</text>
<rect x="1691" y="314" width="41" height="11" fill="#32cd32"/>
<text x="1695" y="323" font-size="9.6" fill="#fff" text-anchor="start" font-weight="normal" font-family="'DejaVu Sans', 'Liberation Sans', sans-serif" textLength="32.6" lengthAdjust="spacingAndGlyphs" stroke="#fff" stroke-width="0.22" >24901.6</text>
<rect x="1691" y="334" width="41" height="11" fill="#0000ff"/>
<text x="1695" y="343" font-size="9.6" fill="#fff" text-anchor="start" font-weight="normal" font-family="'DejaVu Sans', 'Liberation Sans', sans-serif" textLength="32.6" lengthAdjust="spacingAndGlyphs" stroke="#fff" stroke-width="0.22" >24580.1</text>
<rect x="1691" y="360" width="41" height="11" fill="#0000ff"/>
<text x="1695" y="369" font-size="9.6" fill="#fff" text-anchor="start" font-weight="normal" font-family="'DejaVu Sans', 'Liberation Sans', sans-serif" textLength="32.6" lengthAdjust="spacingAndGlyphs" stroke="#fff" stroke-width="0.22" >24162.1</text>
<text x="-5.6" y="939" font-size="9.6" fill="#000" text-anchor="start" font-weight="normal" font-family="'DejaVu Sans', 'Liberation Sans', sans-serif" textLength="54.8" lengthAdjust="spacingAndGlyphs" stroke="#000" stroke-width="0.22" >26 Nov 2019</text>
<rect x="60" y="927" width="1" height="3" fill="#000"/>
<text x="59.5" y="939" font-size="9.6" fill="#000" text-anchor="start" font-weight="normal" font-family="'DejaVu Sans', 'Liberation Sans', sans-serif" textLength="46.9" lengthAdjust="spacingAndGlyphs" stroke="#000" stroke-width="0.22" >6 Dec 2019</text>
<rect x="124" y="927" width="1" height="3" fill="#000"/>
<text x="123.5" y="939" font-size="9.6" fill="#000" text-anchor="start" font-weight="normal" font-family="'DejaVu Sans', 'Liberation Sans', sans-serif" textLength="52.1" lengthAdjust="spacingAndGlyphs" stroke="#000" stroke-width="0.22" >18 Dec 2019</text>
<rect x="188" y="927" width="1" height="3" fill="#000"/>
<text x="187.5" y="939" font-size="9.6" fill="#000" text-anchor="start" font-weight="normal" font-family="'DejaVu Sans', 'Liberation Sans', sans-serif" textLength="43.7" lengthAdjust="spacingAndGlyphs" stroke="#000" stroke-width="0.22" >2 Jan 2020</text>
<rect x="252" y="927" width="1" height="3" fill="#000"/>
<text x="251.5" y="939" font-size="9.6" fill="#000" text-anchor="start" font-weight="normal" font-family="'DejaVu Sans', 'Liberation Sans', sans-serif" textLength="48.9" lengthAdjust="spacingAndGlyphs" stroke="#000" stroke-width="0.22" >14 Jan 2020</text>
<rect x="316" y="927" width="1" height="3" fill="#000"/>
<text x="315.5" y="939" font-size="9.6" fill="#000" text-anchor="start" font-weight="normal" font-family="'DejaVu Sans', 'Liberation Sans', sans-serif" textLength="48.9" lengthAdjust="spacingAndGlyphs" stroke="#000" stroke-width="0.22" >24 Jan 2020</text>
<rect x="380" y="927" width="1" height="3" fill="#000"/>
<text x="379.5" y="939" font-size="9.6" fill="#000" text-anchor="start" font-weight="normal" font-family="'DejaVu Sans', 'Liberation Sans', sans-serif" textLength="45.6" lengthAdjust="spacingAndGlyphs" stroke="#000" stroke-width="0.22" >7 Feb 2020</text>
<rect x="444" y="927" width="1" height="3" fill="#000"/>
<text x="443.5" y="939" font-size="9.6" fill="#000" text-anchor="start" font-weight="normal" font-family="'DejaVu Sans', 'Liberation Sans', sans-serif" textLength="50.8" lengthAdjust="spacingAndGlyphs" stroke="#000" stroke-width="0.22" >19 Feb 2020</text>
<rect x="508" y="927" width="1" height="3" fill="#000"/>
<text x="507.5" y="939" font-size="9.6" fill="#000" text-anchor="start" font-weight="normal" font-family="'DejaVu Sans', 'Liberation Sans', sans-serif" textLength="46.5" lengthAdjust="spacingAndGlyphs" stroke="#000" stroke-width="0.22" >2 Mar 2020</text>
<rect x="572" y="927" width="1" height="3" fill="#000"/>
<text x="571.5" y="939" font-size="9.6" fill="#000" text-anchor="start" font-weight="normal" font-family="'DejaVu Sans', 'Liberation Sans', sans-serif" textLength="51.7" lengthAdjust="spacingAndGlyphs" stroke="#000" stroke-width="0.22" >12 Mar 2020</text>
<rect x="636" y="927" width="1" height="3" fill="#000"/>
<text x="635.5" y="939" font-size="9.6" fill="#000" text-anchor="start" font-weight="normal" font-family="'DejaVu Sans', 'Liberation Sans', sans-serif" textLength="51.7" lengthAdjust="spacingAndGlyphs" stroke="#000" stroke-width="0.22" >24 Mar 2020</text>
<rect x="700" y="927" width="1" height="3" fill="#000"/>
<text x="699.5" y="939" font-size="9.6" fill="#000" text-anchor="start" font-weight="normal" font-family="'DejaVu Sans', 'Liberation Sans', sans-serif" textLength="45.3" lengthAdjust="spacingAndGlyphs" stroke="#000" stroke-width="0.22" >3 Apr 2020</text>
<rect x="764" y="927" width="1" height="3" fill="#000"/>
<text x="763.5" y="939" font-size="9.6" fill="#000" text-anchor="start" font-weight="normal" font-family="'DejaVu Sans', 'Liberation Sans', sans-serif" textLength="50.5" lengthAdjust="spacingAndGlyphs" stroke="#000" stroke-width="0.22" >17 Apr 2020</text>
<rect x="828" y="927" width="1" height="3" fill="#000"/>
<text x="827.5" y="939" font-size="9.6" fill="#000" text-anchor="start" font-weight="normal" font-family="'DejaVu Sans', 'Liberation Sans', sans-serif" textLength="50.5" lengthAdjust="spacingAndGlyphs" stroke="#000" stroke-width="0.22" >29 Apr 2020</text>
<rect x="892" y="927" width="1" height="3" fill="#000"/>
<text x="891.5" y="939" font-size="9.6" fill="#000" text-anchor="start" font-weight="normal" font-family="'DejaVu Sans', 'Liberation Sans', sans-serif" textLength="53.2" lengthAdjust="spacingAndGlyphs" stroke="#000" stroke-width="0.22" >13 May 2020</text>
<rect x="956" y="927" width="1" height="3" fill="#000"/>
<text x="955.5" y="939" font-size="9.6" fill="#000" text-anchor="start" font-weight="normal" font-family="'DejaVu Sans', 'Liberation Sans', sans-serif" textLength="53.2" lengthAdjust="spacingAndGlyphs" stroke="#000" stroke-width="0.22" >25 May 2020</text>
<rect x="1020" y="927" width="1" height="3" fill="#000"/>
<text x="1019.5" y="939" font-size="9.6" fill="#000" text-anchor="start" font-weight="normal" font-family="'DejaVu Sans', 'Liberation Sans', sans-serif" textLength="43.9" lengthAdjust="spacingAndGlyphs" stroke="#000" stroke-width="0.22" >4 Jun 2020</text>
<rect x="1084" y="927" width="1" height="3" fill="#000"/>
<text x="1083.5" y="939" font-size="9.6" fill="#000" text-anchor="start" font-weight="normal" font-family="'DejaVu Sans', 'Liberation Sans', sans-serif" textLength="49.1" lengthAdjust="spacingAndGlyphs" stroke="#000" stroke-width="0.22" >16 Jun 2020</text>
<rect x="1148" y="927" width="1" height="3" fill="#000"/>
<text x="1147.5" y="939" font-size="9.6" fill="#000" text-anchor="start" font-weight="normal" font-family="'DejaVu Sans', 'Liberation Sans', sans-serif" textLength="49.1" lengthAdjust="spacingAndGlyphs" stroke="#000" stroke-width="0.22" >29 Jun 2020</text>
<rect x="1212" y="927" width="1" height="3" fill="#000"/>
<text x="1211.5" y="939" font-size="9.6" fill="#000" text-anchor="start" font-weight="normal" font-family="'DejaVu Sans', 'Liberation Sans', sans-serif" textLength="46.2" lengthAdjust="spacingAndGlyphs" stroke="#000" stroke-width="0.22" >10 Jul 2020</text>
<rect x="1276" y="927" width="1" height="3" fill="#000"/>
<text x="1275.5" y="939" font-size="9.6" fill="#000" text-anchor="start" font-weight="normal" font-family="'DejaVu Sans', 'Liberation Sans', sans-serif" textLength="46.2" lengthAdjust="spacingAndGlyphs" stroke="#000" stroke-width="0.22" >22 Jul 2020</text>
<rect x="1340" y="927" width="1" height="3" fill="#000"/>
<text x="1339.5" y="939" font-size="9.6" fill="#000" text-anchor="start" font-weight="normal" font-family="'DejaVu Sans', 'Liberation Sans', sans-serif" textLength="47.1" lengthAdjust="spacingAndGlyphs" stroke="#000" stroke-width="0.22" >3 Aug 2020</text>
<rect x="1404" y="927" width="1" height="3" fill="#000"/>
<text x="1403.5" y="939" font-size="9.6" fill="#000" text-anchor="start" font-weight="normal" font-family="'DejaVu Sans', 'Liberation Sans', sans-serif" textLength="52.3" lengthAdjust="spacingAndGlyphs" stroke="#000" stroke-width="0.22" >13 Aug 2020</text>
</svg>
</body></html>
